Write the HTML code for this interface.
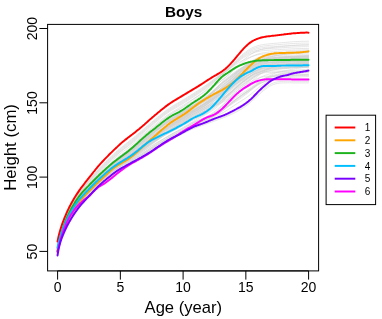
<!DOCTYPE html>
<html><head><meta charset="utf-8"><title>Boys</title>
<style>html,body{margin:0;padding:0;background:#fff;width:382px;height:319px;overflow:hidden}</style></head>
<body>
<svg width="382" height="319" viewBox="0 0 382 319" style="position:absolute;left:0;top:0">
<rect width="382" height="319" fill="#fff"/>
<g fill="none" stroke="#d2d2d2" stroke-width="0.55" stroke-linejoin="round" stroke-linecap="round">
<path d="M57.5,247.4 59.5,241.2 61.5,234.1 63.5,227.8 65.5,222.4 67.5,217.8 69.5,213.6 71.5,209.8 73.5,206.4 75.5,203.3 77.5,200.4 79.5,197.7 81.5,195.3 83.5,193.0 85.5,190.9 87.5,188.9 89.5,186.8 91.5,184.8 93.5,182.7 95.5,180.7 97.5,178.8 99.5,176.9 101.5,175.1 103.5,173.3 105.5,171.5 107.5,169.7 109.5,168.0 111.5,166.3 113.5,164.7 115.5,163.1 117.5,161.5 119.5,160.0 121.5,158.6 123.5,157.1 125.5,155.7 127.5,154.2 129.5,152.7 131.5,151.1 133.5,149.4 135.5,147.8 137.5,146.1 139.5,144.3 141.5,142.6 143.5,140.9 145.5,139.3 147.5,137.7 149.5,136.1 151.5,134.6 153.5,133.1 155.5,131.5 157.5,130.0 159.5,128.4 161.5,126.9 163.5,125.4 165.5,124.0 167.5,122.6 169.5,121.2 171.5,120.0 173.5,118.8 175.5,117.7 177.5,116.6 179.5,115.5 181.5,114.3 183.5,113.0 185.5,111.7 187.5,110.4 189.5,109.0 191.5,107.6 193.5,106.3 195.5,105.1 197.5,103.8 199.5,102.5 201.5,101.2 203.5,99.8 205.5,98.2 207.5,96.6 209.5,94.9 211.5,93.1 213.5,91.2 215.5,89.2 217.5,87.2 219.5,85.3 221.5,83.5 223.5,81.8 225.5,80.2 227.5,78.7 229.5,77.2 231.5,75.7 233.5,74.2 235.5,72.8 237.5,71.6 239.5,70.4 241.5,69.3 243.5,68.3 245.5,67.4 247.5,66.5 249.5,65.7 251.5,65.0 253.5,64.4 255.5,63.8 257.5,63.3 259.5,62.9 261.5,62.7 263.5,62.4 265.5,62.3 267.5,62.1 269.5,62.0 271.5,61.9 273.5,61.8 275.5,61.8 277.5,61.7 279.5,61.7 281.5,61.6 283.5,61.6 285.5,61.6 287.5,61.5 289.5,61.5 291.5,61.5 293.5,61.5 295.5,61.4 297.5,61.4 299.5,61.4 301.5,61.3 303.5,61.3 305.5,61.3 307.5,61.3 308.5,61.3"/>
<path d="M57.5,248.0 59.5,242.3 61.5,235.6 63.5,229.6 65.5,224.5 67.5,220.0 69.5,216.0 71.5,212.5 73.5,209.2 75.5,206.3 77.5,203.6 79.5,201.1 81.5,198.8 83.5,196.6 85.5,194.6 87.5,192.7 89.5,190.7 91.5,188.6 93.5,186.6 95.5,184.5 97.5,182.6 99.5,180.8 101.5,179.1 103.5,177.5 105.5,175.9 107.5,174.2 109.5,172.5 111.5,170.9 113.5,169.2 115.5,167.7 117.5,166.1 119.5,164.6 121.5,163.2 123.5,161.8 125.5,160.5 127.5,159.1 129.5,157.7 131.5,156.4 133.5,155.0 135.5,153.6 137.5,152.2 139.5,150.8 141.5,149.4 143.5,148.0 145.5,146.5 147.5,145.1 149.5,143.7 151.5,142.3 153.5,140.8 155.5,139.4 157.5,137.9 159.5,136.5 161.5,135.1 163.5,133.7 165.5,132.3 167.5,131.0 169.5,129.8 171.5,128.6 173.5,127.4 175.5,126.3 177.5,125.1 179.5,123.9 181.5,122.7 183.5,121.5 185.5,120.2 187.5,119.0 189.5,117.8 191.5,116.6 193.5,115.4 195.5,114.2 197.5,113.1 199.5,111.9 201.5,110.8 203.5,109.6 205.5,108.4 207.5,107.2 209.5,106.0 211.5,104.7 213.5,103.4 215.5,102.0 217.5,100.6 219.5,99.0 221.5,97.5 223.5,95.9 225.5,94.4 227.5,92.8 229.5,91.2 231.5,89.5 233.5,87.9 235.5,86.3 237.5,84.8 239.5,83.3 241.5,82.0 243.5,80.7 245.5,79.4 247.5,78.2 249.5,77.1 251.5,75.9 253.5,74.8 255.5,73.8 257.5,72.9 259.5,72.0 261.5,71.4 263.5,70.8 265.5,70.2 267.5,69.8 269.5,69.4 271.5,69.1 273.5,68.8 275.5,68.6 277.5,68.3 279.5,68.2 281.5,68.0 283.5,67.9 285.5,67.8 287.5,67.7 289.5,67.5 291.5,67.4 293.5,67.3 295.5,67.2 297.5,67.1 299.5,67.0 301.5,66.9 303.5,66.8 305.5,66.7 307.5,66.7 308.5,66.6"/>
<path d="M57.5,247.0 59.5,241.4 61.5,235.0 63.5,229.3 65.5,224.3 67.5,220.0 69.5,216.0 71.5,212.5 73.5,209.2 75.5,206.2 77.5,203.3 79.5,200.8 81.5,198.4 83.5,196.1 85.5,194.0 87.5,192.0 89.5,189.9 91.5,187.8 93.5,185.7 95.5,183.7 97.5,181.7 99.5,179.8 101.5,178.0 103.5,176.3 105.5,174.5 107.5,172.8 109.5,171.1 111.5,169.4 113.5,167.8 115.5,166.3 117.5,164.8 119.5,163.5 121.5,162.1 123.5,160.8 125.5,159.5 127.5,158.2 129.5,156.9 131.5,155.5 133.5,154.1 135.5,152.7 137.5,151.2 139.5,149.6 141.5,148.1 143.5,146.6 145.5,145.1 147.5,143.6 149.5,142.2 151.5,140.8 153.5,139.5 155.5,138.2 157.5,136.9 159.5,135.6 161.5,134.3 163.5,133.0 165.5,131.8 167.5,130.6 169.5,129.4 171.5,128.2 173.5,127.1 175.5,126.0 177.5,124.8 179.5,123.7 181.5,122.5 183.5,121.3 185.5,120.1 187.5,118.8 189.5,117.6 191.5,116.4 193.5,115.2 195.5,114.1 197.5,113.0 199.5,112.0 201.5,110.9 203.5,109.8 205.5,108.6 207.5,107.4 209.5,106.1 211.5,104.7 213.5,103.2 215.5,101.6 217.5,100.0 219.5,98.3 221.5,96.5 223.5,94.8 225.5,93.0 227.5,91.2 229.5,89.5 231.5,87.7 233.5,86.0 235.5,84.3 237.5,82.7 239.5,81.1 241.5,79.7 243.5,78.4 245.5,77.1 247.5,75.9 249.5,74.6 251.5,73.4 253.5,72.2 255.5,70.9 257.5,69.8 259.5,68.8 261.5,68.0 263.5,67.3 265.5,66.8 267.5,66.3 269.5,66.0 271.5,65.6 273.5,65.4 275.5,65.1 277.5,64.9 279.5,64.6 281.5,64.5 283.5,64.3 285.5,64.2 287.5,64.1 289.5,64.0 291.5,63.8 293.5,63.7 295.5,63.6 297.5,63.5 299.5,63.4 301.5,63.3 303.5,63.2 305.5,63.0 307.5,62.9 308.5,62.9"/>
<path d="M57.5,247.0 59.5,241.4 61.5,235.1 63.5,229.5 65.5,224.7 67.5,220.4 69.5,216.6 71.5,213.1 73.5,209.9 75.5,206.8 77.5,204.0 79.5,201.4 81.5,199.0 83.5,196.7 85.5,194.5 87.5,192.4 89.5,190.2 91.5,188.1 93.5,186.0 95.5,183.9 97.5,182.0 99.5,180.0 101.5,178.2 103.5,176.4 105.5,174.6 107.5,172.9 109.5,171.2 111.5,169.5 113.5,167.9 115.5,166.4 117.5,165.0 119.5,163.6 121.5,162.4 123.5,161.1 125.5,159.9 127.5,158.7 129.5,157.4 131.5,156.1 133.5,154.8 135.5,153.5 137.5,152.1 139.5,150.7 141.5,149.2 143.5,147.8 145.5,146.3 147.5,144.9 149.5,143.5 151.5,142.1 153.5,140.7 155.5,139.3 157.5,137.9 159.5,136.5 161.5,135.1 163.5,133.8 165.5,132.5 167.5,131.2 169.5,130.0 171.5,128.8 173.5,127.7 175.5,126.7 177.5,125.6 179.5,124.5 181.5,123.4 183.5,122.3 185.5,121.1 187.5,120.0 189.5,118.8 191.5,117.7 193.5,116.6 195.5,115.5 197.5,114.5 199.5,113.6 201.5,112.6 203.5,111.6 205.5,110.6 207.5,109.5 209.5,108.3 211.5,107.1 213.5,105.9 215.5,104.7 217.5,103.5 219.5,102.2 221.5,101.0 223.5,99.6 225.5,98.3 227.5,96.9 229.5,95.4 231.5,93.8 233.5,92.3 235.5,90.7 237.5,89.1 239.5,87.5 241.5,85.9 243.5,84.3 245.5,82.8 247.5,81.3 249.5,79.8 251.5,78.3 253.5,76.7 255.5,75.2 257.5,73.8 259.5,72.5 261.5,71.4 263.5,70.4 265.5,69.5 267.5,68.6 269.5,67.9 271.5,67.3 273.5,66.7 275.5,66.2 277.5,65.8 279.5,65.4 281.5,65.1 283.5,64.8 285.5,64.6 287.5,64.4 289.5,64.1 291.5,63.8 293.5,63.6 295.5,63.4 297.5,63.2 299.5,63.0 301.5,62.8 303.5,62.6 305.5,62.4 307.5,62.2 308.5,62.2"/>
<path d="M57.5,248.7 59.5,243.1 61.5,236.7 63.5,231.1 65.5,226.3 67.5,222.0 69.5,218.2 71.5,214.7 73.5,211.5 75.5,208.6 77.5,205.8 79.5,203.3 81.5,200.9 83.5,198.7 85.5,196.6 87.5,194.5 89.5,192.5 91.5,190.4 93.5,188.4 95.5,186.3 97.5,184.4 99.5,182.5 101.5,180.8 103.5,179.1 105.5,177.3 107.5,175.6 109.5,173.9 111.5,172.2 113.5,170.6 115.5,169.1 117.5,167.7 119.5,166.3 121.5,165.1 123.5,163.8 125.5,162.6 127.5,161.3 129.5,160.1 131.5,158.8 133.5,157.5 135.5,156.1 137.5,154.7 139.5,153.3 141.5,151.9 143.5,150.4 145.5,149.0 147.5,147.5 149.5,146.0 151.5,144.6 153.5,143.1 155.5,141.6 157.5,140.1 159.5,138.6 161.5,137.1 163.5,135.7 165.5,134.2 167.5,132.9 169.5,131.6 171.5,130.3 173.5,129.1 175.5,128.0 177.5,126.8 179.5,125.6 181.5,124.4 183.5,123.2 185.5,122.0 187.5,120.8 189.5,119.5 191.5,118.3 193.5,117.1 195.5,115.9 197.5,114.8 199.5,113.7 201.5,112.6 203.5,111.6 205.5,110.6 207.5,109.5 209.5,108.5 211.5,107.5 213.5,106.5 215.5,105.5 217.5,104.4 219.5,103.3 221.5,102.2 223.5,101.0 225.5,99.7 227.5,98.3 229.5,96.9 231.5,95.4 233.5,93.9 235.5,92.3 237.5,90.7 239.5,89.1 241.5,87.5 243.5,85.9 245.5,84.3 247.5,82.7 249.5,81.1 251.5,79.4 253.5,77.8 255.5,76.2 257.5,74.6 259.5,73.3 261.5,72.0 263.5,71.0 265.5,70.0 267.5,69.1 269.5,68.3 271.5,67.7 273.5,67.1 275.5,66.6 277.5,66.3 279.5,65.9 281.5,65.6 283.5,65.4 285.5,65.2 287.5,65.0 289.5,64.8 291.5,64.6 293.5,64.4 295.5,64.2 297.5,64.0 299.5,63.8 301.5,63.6 303.5,63.4 305.5,63.2 307.5,63.0 308.5,62.9"/>
<path d="M57.5,245.7 59.5,240.2 61.5,233.6 63.5,227.7 65.5,222.6 67.5,218.0 69.5,214.0 71.5,210.4 73.5,207.1 75.5,204.1 77.5,201.4 79.5,198.8 81.5,196.4 83.5,194.2 85.5,192.1 87.5,190.1 89.5,188.0 91.5,185.8 93.5,183.6 95.5,181.4 97.5,179.3 99.5,177.4 101.5,175.7 103.5,174.0 105.5,172.3 107.5,170.5 109.5,168.8 111.5,167.0 113.5,165.3 115.5,163.5 117.5,161.8 119.5,160.2 121.5,158.6 123.5,157.1 125.5,155.6 127.5,154.1 129.5,152.7 131.5,151.3 133.5,150.0 135.5,148.6 137.5,147.2 139.5,145.8 141.5,144.3 143.5,142.9 145.5,141.4 147.5,139.9 149.5,138.4 151.5,136.9 153.5,135.3 155.5,133.8 157.5,132.3 159.5,130.8 161.5,129.3 163.5,127.9 165.5,126.5 167.5,125.1 169.5,123.8 171.5,122.5 173.5,121.2 175.5,120.0 177.5,118.7 179.5,117.4 181.5,116.2 183.5,114.9 185.5,113.6 187.5,112.3 189.5,111.1 191.5,109.9 193.5,108.7 195.5,107.5 197.5,106.2 199.5,105.0 201.5,103.8 203.5,102.5 205.5,101.4 207.5,100.2 209.5,99.2 211.5,98.1 213.5,97.0 215.5,95.8 217.5,94.6 219.5,93.2 221.5,91.7 223.5,90.1 225.5,88.4 227.5,86.6 229.5,84.8 231.5,82.9 233.5,80.9 235.5,79.0 237.5,77.2 239.5,75.4 241.5,73.6 243.5,72.0 245.5,70.5 247.5,69.1 249.5,67.7 251.5,66.5 253.5,65.3 255.5,64.3 257.5,63.4 259.5,62.6 261.5,61.9 263.5,61.4 265.5,60.9 267.5,60.6 269.5,60.3 271.5,60.0 273.5,59.8 275.5,59.6 277.5,59.4 279.5,59.2 281.5,59.1 283.5,58.9 285.5,58.8 287.5,58.7 289.5,58.6 291.5,58.5 293.5,58.3 295.5,58.2 297.5,58.1 299.5,58.1 301.5,58.0 303.5,57.9 305.5,57.8 307.5,57.8 308.5,57.8"/>
<path d="M57.5,247.3 59.5,241.6 61.5,235.0 63.5,229.0 65.5,224.0 67.5,219.5 69.5,215.5 71.5,212.0 73.5,208.7 75.5,205.7 77.5,203.0 79.5,200.4 81.5,198.1 83.5,195.9 85.5,193.9 87.5,191.9 89.5,189.9 91.5,187.9 93.5,185.9 95.5,183.9 97.5,182.0 99.5,180.2 101.5,178.5 103.5,176.8 105.5,175.1 107.5,173.3 109.5,171.6 111.5,169.9 113.5,168.3 115.5,166.7 117.5,165.2 119.5,163.8 121.5,162.5 123.5,161.1 125.5,159.8 127.5,158.4 129.5,157.0 131.5,155.6 133.5,154.1 135.5,152.6 137.5,151.0 139.5,149.4 141.5,147.8 143.5,146.1 145.5,144.5 147.5,142.9 149.5,141.4 151.5,139.8 153.5,138.2 155.5,136.6 157.5,135.0 159.5,133.5 161.5,131.9 163.5,130.4 165.5,128.9 167.5,127.5 169.5,126.1 171.5,124.8 173.5,123.6 175.5,122.4 177.5,121.2 179.5,120.0 181.5,118.8 183.5,117.5 185.5,116.2 187.5,114.9 189.5,113.6 191.5,112.2 193.5,110.9 195.5,109.6 197.5,108.3 199.5,107.0 201.5,105.7 203.5,104.4 205.5,103.1 207.5,101.9 209.5,100.6 211.5,99.3 213.5,98.0 215.5,96.6 217.5,95.2 219.5,93.8 221.5,92.3 223.5,90.9 225.5,89.4 227.5,87.9 229.5,86.3 231.5,84.6 233.5,82.9 235.5,81.3 237.5,79.6 239.5,77.9 241.5,76.3 243.5,74.8 245.5,73.3 247.5,71.9 249.5,70.5 251.5,69.2 253.5,68.0 255.5,66.9 257.5,65.9 259.5,65.1 261.5,64.4 263.5,63.9 265.5,63.5 267.5,63.1 269.5,62.8 271.5,62.5 273.5,62.3 275.5,62.2 277.5,62.1 279.5,62.0 281.5,61.9 283.5,61.9 285.5,61.8 287.5,61.8 289.5,61.7 291.5,61.7 293.5,61.6 295.5,61.6 297.5,61.5 299.5,61.4 301.5,61.4 303.5,61.3 305.5,61.2 307.5,61.1 308.5,61.0"/>
<path d="M57.5,246.5 59.5,241.0 61.5,234.5 63.5,228.7 65.5,223.7 67.5,219.3 69.5,215.3 71.5,211.7 73.5,208.4 75.5,205.4 77.5,202.5 79.5,199.9 81.5,197.6 83.5,195.3 85.5,193.2 87.5,191.2 89.5,189.1 91.5,187.1 93.5,185.1 95.5,183.1 97.5,181.2 99.5,179.3 101.5,177.5 103.5,175.7 105.5,174.0 107.5,172.2 109.5,170.4 111.5,168.8 113.5,167.1 115.5,165.6 117.5,164.2 119.5,162.8 121.5,161.5 123.5,160.2 125.5,158.9 127.5,157.6 129.5,156.2 131.5,154.7 133.5,153.2 135.5,151.6 137.5,150.0 139.5,148.3 141.5,146.5 143.5,144.8 145.5,143.2 147.5,141.6 149.5,140.0 151.5,138.5 153.5,137.1 155.5,135.6 157.5,134.2 159.5,132.8 161.5,131.4 163.5,130.0 165.5,128.6 167.5,127.3 169.5,126.0 171.5,124.8 173.5,123.6 175.5,122.4 177.5,121.2 179.5,120.1 181.5,118.8 183.5,117.6 185.5,116.3 187.5,115.0 189.5,113.6 191.5,112.3 193.5,110.9 195.5,109.7 197.5,108.4 199.5,107.2 201.5,106.0 203.5,104.8 205.5,103.5 207.5,102.2 209.5,100.8 211.5,99.3 213.5,97.7 215.5,96.1 217.5,94.4 219.5,92.7 221.5,90.9 223.5,89.2 225.5,87.4 227.5,85.6 229.5,83.8 231.5,82.0 233.5,80.2 235.5,78.5 237.5,76.8 239.5,75.1 241.5,73.5 243.5,72.0 245.5,70.6 247.5,69.3 249.5,68.0 251.5,66.8 253.5,65.6 255.5,64.4 257.5,63.4 259.5,62.6 261.5,61.9 263.5,61.4 265.5,61.1 267.5,60.8 269.5,60.6 271.5,60.5 273.5,60.4 275.5,60.3 277.5,60.2 279.5,60.1 281.5,60.0 283.5,60.0 285.5,60.0 287.5,59.9 289.5,59.9 291.5,59.9 293.5,59.9 295.5,59.8 297.5,59.8 299.5,59.7 301.5,59.6 303.5,59.5 305.5,59.4 307.5,59.3 308.5,59.3"/>
<path d="M57.5,243.5 59.5,237.8 61.5,231.2 63.5,225.3 65.5,220.1 67.5,215.6 69.5,211.6 71.5,207.9 73.5,204.5 75.5,201.4 77.5,198.5 79.5,195.8 81.5,193.4 83.5,191.1 85.5,188.8 87.5,186.7 89.5,184.5 91.5,182.3 93.5,180.1 95.5,177.9 97.5,175.8 99.5,173.9 101.5,172.0 103.5,170.1 105.5,168.3 107.5,166.5 109.5,164.8 111.5,163.0 113.5,161.3 115.5,159.6 117.5,157.9 119.5,156.3 121.5,154.8 123.5,153.3 125.5,151.9 127.5,150.4 129.5,149.0 131.5,147.5 133.5,146.0 135.5,144.6 137.5,143.0 139.5,141.5 141.5,139.9 143.5,138.3 145.5,136.7 147.5,135.2 149.5,133.6 151.5,132.1 153.5,130.5 155.5,129.0 157.5,127.5 159.5,126.0 161.5,124.5 163.5,123.1 165.5,121.7 167.5,120.3 169.5,119.0 171.5,117.8 173.5,116.7 175.5,115.5 177.5,114.4 179.5,113.3 181.5,112.1 183.5,110.9 185.5,109.7 187.5,108.5 189.5,107.3 191.5,106.1 193.5,105.0 195.5,103.8 197.5,102.6 199.5,101.4 201.5,100.2 203.5,98.9 205.5,97.7 207.5,96.3 209.5,95.0 211.5,93.6 213.5,92.1 215.5,90.6 217.5,89.1 219.5,87.6 221.5,86.0 223.5,84.4 225.5,82.8 227.5,81.1 229.5,79.3 231.5,77.4 233.5,75.5 235.5,73.6 237.5,71.8 239.5,70.0 241.5,68.2 243.5,66.6 245.5,65.1 247.5,63.8 249.5,62.5 251.5,61.4 253.5,60.4 255.5,59.6 257.5,58.9 259.5,58.3 261.5,57.9 263.5,57.5 265.5,57.2 267.5,56.9 269.5,56.7 271.5,56.6 273.5,56.4 275.5,56.3 277.5,56.1 279.5,56.0 281.5,55.8 283.5,55.7 285.5,55.6 287.5,55.4 289.5,55.3 291.5,55.2 293.5,55.1 295.5,55.0 297.5,54.9 299.5,54.8 301.5,54.7 303.5,54.7 305.5,54.7 307.5,54.6 308.5,54.6"/>
<path d="M57.5,245.7 59.5,240.0 61.5,233.5 63.5,227.8 65.5,222.8 67.5,218.4 69.5,214.4 71.5,210.8 73.5,207.5 75.5,204.3 77.5,201.4 79.5,198.6 81.5,196.1 83.5,193.6 85.5,191.3 87.5,189.0 89.5,186.8 91.5,184.5 93.5,182.3 95.5,180.1 97.5,178.0 99.5,175.9 101.5,173.9 103.5,172.0 105.5,170.1 107.5,168.2 109.5,166.4 111.5,164.6 113.5,162.9 115.5,161.2 117.5,159.7 119.5,158.2 121.5,156.7 123.5,155.4 125.5,154.0 127.5,152.6 129.5,151.3 131.5,149.9 133.5,148.4 135.5,147.0 137.5,145.5 139.5,143.9 141.5,142.4 143.5,140.8 145.5,139.2 147.5,137.6 149.5,136.1 151.5,134.5 153.5,132.9 155.5,131.3 157.5,129.7 159.5,128.2 161.5,126.6 163.5,125.0 165.5,123.5 167.5,122.1 169.5,120.7 171.5,119.5 173.5,118.3 175.5,117.1 177.5,116.0 179.5,114.8 181.5,113.7 183.5,112.5 185.5,111.2 187.5,110.0 189.5,108.8 191.5,107.5 193.5,106.3 195.5,105.2 197.5,104.0 199.5,102.9 201.5,101.8 203.5,100.6 205.5,99.5 207.5,98.3 209.5,97.1 211.5,95.9 213.5,94.7 215.5,93.5 217.5,92.4 219.5,91.3 221.5,90.1 223.5,88.9 225.5,87.7 227.5,86.3 229.5,84.9 231.5,83.4 233.5,81.8 235.5,80.1 237.5,78.4 239.5,76.7 241.5,75.0 243.5,73.3 245.5,71.7 247.5,70.1 249.5,68.5 251.5,67.0 253.5,65.5 255.5,64.1 257.5,62.9 259.5,61.7 261.5,60.6 263.5,59.7 265.5,58.8 267.5,58.0 269.5,57.3 271.5,56.7 273.5,56.2 275.5,55.7 277.5,55.3 279.5,55.0 281.5,54.7 283.5,54.4 285.5,54.1 287.5,53.9 289.5,53.6 291.5,53.4 293.5,53.1 295.5,52.9 297.5,52.7 299.5,52.5 301.5,52.3 303.5,52.1 305.5,52.0 307.5,51.8 308.5,51.8"/>
<path d="M57.5,248.8 59.5,242.6 61.5,235.6 63.5,229.6 65.5,224.5 67.5,219.9 69.5,215.9 71.5,212.2 73.5,208.9 75.5,205.7 77.5,202.9 79.5,200.2 81.5,197.7 83.5,195.4 85.5,193.2 87.5,191.1 89.5,189.0 91.5,186.9 93.5,184.8 95.5,182.7 97.5,180.8 99.5,178.8 101.5,177.0 103.5,175.1 105.5,173.3 107.5,171.6 109.5,169.9 111.5,168.2 113.5,166.6 115.5,165.1 117.5,163.6 119.5,162.2 121.5,160.8 123.5,159.5 125.5,158.2 127.5,156.8 129.5,155.4 131.5,154.0 133.5,152.5 135.5,151.0 137.5,149.5 139.5,147.9 141.5,146.4 143.5,144.8 145.5,143.3 147.5,141.9 149.5,140.4 151.5,139.0 153.5,137.5 155.5,136.0 157.5,134.5 159.5,133.0 161.5,131.6 163.5,130.1 165.5,128.7 167.5,127.4 169.5,126.1 171.5,124.9 173.5,123.8 175.5,122.8 177.5,121.7 179.5,120.7 181.5,119.5 183.5,118.4 185.5,117.1 187.5,115.8 189.5,114.6 191.5,113.3 193.5,112.2 195.5,111.1 197.5,110.0 199.5,108.9 201.5,107.8 203.5,106.6 205.5,105.3 207.5,103.9 209.5,102.4 211.5,100.8 213.5,99.1 215.5,97.5 217.5,95.9 219.5,94.3 221.5,92.8 223.5,91.4 225.5,90.2 227.5,89.0 229.5,87.8 231.5,86.5 233.5,85.2 235.5,84.0 237.5,82.9 239.5,81.8 241.5,80.8 243.5,79.8 245.5,78.8 247.5,77.8 249.5,76.8 251.5,75.7 253.5,74.7 255.5,73.7 257.5,72.7 259.5,71.8 261.5,71.0 263.5,70.3 265.5,69.6 267.5,68.9 269.5,68.3 271.5,67.7 273.5,67.3 275.5,66.9 277.5,66.6 279.5,66.3 281.5,66.0 283.5,65.8 285.5,65.6 287.5,65.4 289.5,65.2 291.5,65.0 293.5,64.8 295.5,64.6 297.5,64.4 299.5,64.3 301.5,64.2 303.5,64.0 305.5,63.9 307.5,63.8 308.5,63.7"/>
<path d="M57.5,243.8 59.5,238.4 61.5,232.1 63.5,226.5 65.5,221.6 67.5,217.2 69.5,213.3 71.5,209.7 73.5,206.3 75.5,203.2 77.5,200.3 79.5,197.7 81.5,195.2 83.5,192.8 85.5,190.5 87.5,188.3 89.5,186.1 91.5,183.9 93.5,181.7 95.5,179.6 97.5,177.6 99.5,175.6 101.5,173.6 103.5,171.7 105.5,169.9 107.5,168.0 109.5,166.2 111.5,164.5 113.5,162.8 115.5,161.2 117.5,159.7 119.5,158.2 121.5,156.8 123.5,155.5 125.5,154.1 127.5,152.8 129.5,151.4 131.5,150.0 133.5,148.6 135.5,147.1 137.5,145.5 139.5,143.9 141.5,142.3 143.5,140.6 145.5,139.0 147.5,137.4 149.5,135.9 151.5,134.4 153.5,132.9 155.5,131.4 157.5,130.0 159.5,128.6 161.5,127.2 163.5,125.8 165.5,124.4 167.5,123.1 169.5,121.8 171.5,120.6 173.5,119.4 175.5,118.3 177.5,117.2 179.5,116.0 181.5,114.9 183.5,113.7 185.5,112.5 187.5,111.3 189.5,110.1 191.5,108.8 193.5,107.6 195.5,106.5 197.5,105.3 199.5,104.2 201.5,103.1 203.5,101.9 205.5,100.8 207.5,99.5 209.5,98.3 211.5,97.0 213.5,95.6 215.5,94.2 217.5,92.8 219.5,91.3 221.5,89.8 223.5,88.2 225.5,86.5 227.5,84.7 229.5,82.9 231.5,81.0 233.5,79.1 235.5,77.1 237.5,75.2 239.5,73.2 241.5,71.4 243.5,69.6 245.5,67.9 247.5,66.3 249.5,64.8 251.5,63.4 253.5,62.0 255.5,60.8 257.5,59.7 259.5,58.7 261.5,57.9 263.5,57.3 265.5,56.8 267.5,56.4 269.5,56.0 271.5,55.7 273.5,55.5 275.5,55.2 277.5,55.0 279.5,54.8 281.5,54.6 283.5,54.4 285.5,54.3 287.5,54.1 289.5,54.0 291.5,53.9 293.5,53.7 295.5,53.6 297.5,53.5 299.5,53.4 301.5,53.3 303.5,53.1 305.5,53.0 307.5,52.9 308.5,52.9"/>
<path d="M57.5,248.8 59.5,243.1 61.5,236.7 63.5,231.1 65.5,226.3 67.5,222.1 69.5,218.3 71.5,214.8 73.5,211.6 75.5,208.6 77.5,205.7 79.5,203.1 81.5,200.6 83.5,198.3 85.5,196.1 87.5,193.9 89.5,191.8 91.5,189.6 93.5,187.5 95.5,185.4 97.5,183.4 99.5,181.5 101.5,179.6 103.5,177.8 105.5,176.0 107.5,174.2 109.5,172.5 111.5,170.8 113.5,169.2 115.5,167.7 117.5,166.3 119.5,164.9 121.5,163.7 123.5,162.5 125.5,161.3 127.5,160.0 129.5,158.8 131.5,157.5 133.5,156.2 135.5,154.9 137.5,153.6 139.5,152.2 141.5,150.8 143.5,149.4 145.5,147.9 147.5,146.5 149.5,145.1 151.5,143.6 153.5,142.2 155.5,140.7 157.5,139.2 159.5,137.7 161.5,136.3 163.5,134.8 165.5,133.4 167.5,132.1 169.5,130.8 171.5,129.6 173.5,128.4 175.5,127.3 177.5,126.2 179.5,125.1 181.5,124.0 183.5,122.8 185.5,121.6 187.5,120.4 189.5,119.2 191.5,118.0 193.5,116.9 195.5,115.8 197.5,114.8 199.5,113.9 201.5,112.9 203.5,112.0 205.5,111.0 207.5,109.9 209.5,108.9 211.5,107.9 213.5,106.9 215.5,105.8 217.5,104.9 219.5,103.9 221.5,102.9 223.5,101.8 225.5,100.7 227.5,99.5 229.5,98.3 231.5,96.9 233.5,95.5 235.5,94.1 237.5,92.6 239.5,91.2 241.5,89.6 243.5,88.1 245.5,86.5 247.5,84.9 249.5,83.3 251.5,81.6 253.5,79.8 255.5,78.1 257.5,76.4 259.5,74.9 261.5,73.4 263.5,72.1 265.5,71.0 267.5,69.8 269.5,68.8 271.5,67.9 273.5,67.2 275.5,66.6 277.5,66.0 279.5,65.5 281.5,65.1 283.5,64.8 285.5,64.5 287.5,64.2 289.5,63.9 291.5,63.6 293.5,63.2 295.5,63.0 297.5,62.7 299.5,62.4 301.5,62.2 303.5,62.0 305.5,61.7 307.5,61.5 308.5,61.4"/>
<path d="M57.5,247.6 59.5,241.9 61.5,235.4 63.5,229.6 65.5,224.7 67.5,220.3 69.5,216.4 71.5,212.8 73.5,209.5 75.5,206.5 77.5,203.6 79.5,201.0 81.5,198.6 83.5,196.3 85.5,194.1 87.5,192.0 89.5,190.0 91.5,187.9 93.5,185.8 95.5,183.8 97.5,181.8 99.5,179.9 101.5,178.1 103.5,176.3 105.5,174.5 107.5,172.7 109.5,170.9 111.5,169.2 113.5,167.5 115.5,166.0 117.5,164.6 119.5,163.2 121.5,161.9 123.5,160.6 125.5,159.3 127.5,158.0 129.5,156.6 131.5,155.2 133.5,153.7 135.5,152.1 137.5,150.5 139.5,148.9 141.5,147.2 143.5,145.6 145.5,144.0 147.5,142.4 149.5,140.8 151.5,139.2 153.5,137.7 155.5,136.2 157.5,134.6 159.5,133.1 161.5,131.6 163.5,130.1 165.5,128.6 167.5,127.2 169.5,125.8 171.5,124.6 173.5,123.3 175.5,122.1 177.5,120.9 179.5,119.7 181.5,118.5 183.5,117.3 185.5,116.0 187.5,114.6 189.5,113.3 191.5,111.9 193.5,110.6 195.5,109.3 197.5,108.1 199.5,106.9 201.5,105.7 203.5,104.5 205.5,103.3 207.5,102.0 209.5,100.8 211.5,99.5 213.5,98.2 215.5,96.8 217.5,95.5 219.5,94.1 221.5,92.7 223.5,91.2 225.5,89.8 227.5,88.2 229.5,86.7 231.5,85.1 233.5,83.5 235.5,81.8 237.5,80.2 239.5,78.6 241.5,77.0 243.5,75.4 245.5,73.9 247.5,72.4 249.5,70.9 251.5,69.4 253.5,68.0 255.5,66.6 257.5,65.4 259.5,64.3 261.5,63.4 263.5,62.6 265.5,61.9 267.5,61.3 269.5,60.8 271.5,60.4 273.5,60.1 275.5,59.8 277.5,59.6 279.5,59.4 281.5,59.2 283.5,59.1 285.5,59.0 287.5,58.9 289.5,58.8 291.5,58.7 293.5,58.5 295.5,58.4 297.5,58.3 299.5,58.2 301.5,58.1 303.5,57.9 305.5,57.7 307.5,57.6 308.5,57.5"/>
<path d="M57.5,246.7 59.5,240.7 61.5,233.7 63.5,227.5 65.5,222.2 67.5,217.5 69.5,213.4 71.5,209.6 73.5,206.2 75.5,203.1 77.5,200.2 79.5,197.6 81.5,195.2 83.5,192.9 85.5,190.8 87.5,188.8 89.5,186.7 91.5,184.6 93.5,182.5 95.5,180.5 97.5,178.5 99.5,176.6 101.5,174.8 103.5,173.0 105.5,171.3 107.5,169.5 109.5,167.7 111.5,166.0 113.5,164.3 115.5,162.7 117.5,161.1 119.5,159.6 121.5,158.1 123.5,156.7 125.5,155.2 127.5,153.7 129.5,152.2 131.5,150.6 133.5,149.0 135.5,147.4 137.5,145.7 139.5,144.0 141.5,142.4 143.5,140.7 145.5,139.0 147.5,137.4 149.5,135.8 151.5,134.3 153.5,132.7 155.5,131.2 157.5,129.6 159.5,128.0 161.5,126.5 163.5,125.0 165.5,123.5 167.5,122.1 169.5,120.8 171.5,119.5 173.5,118.3 175.5,117.1 177.5,116.0 179.5,114.8 181.5,113.6 183.5,112.3 185.5,111.0 187.5,109.7 189.5,108.3 191.5,107.0 193.5,105.7 195.5,104.4 197.5,103.1 199.5,101.8 201.5,100.4 203.5,99.0 205.5,97.6 207.5,96.1 209.5,94.5 211.5,92.8 213.5,91.1 215.5,89.3 217.5,87.5 219.5,85.7 221.5,84.0 223.5,82.3 225.5,80.7 227.5,79.2 229.5,77.6 231.5,75.9 233.5,74.3 235.5,72.8 237.5,71.3 239.5,69.9 241.5,68.6 243.5,67.4 245.5,66.3 247.5,65.3 249.5,64.3 251.5,63.5 253.5,62.7 255.5,62.0 257.5,61.5 259.5,61.0 261.5,60.7 263.5,60.4 265.5,60.2 267.5,60.0 269.5,59.9 271.5,59.8 273.5,59.8 275.5,59.7 277.5,59.6 279.5,59.6 281.5,59.5 283.5,59.5 285.5,59.5 287.5,59.4 289.5,59.4 291.5,59.4 293.5,59.3 295.5,59.3 297.5,59.2 299.5,59.2 301.5,59.2 303.5,59.1 305.5,59.1 307.5,59.1 308.5,59.1"/>
<path d="M57.5,247.8 59.5,241.9 61.5,235.1 63.5,229.0 65.5,223.9 67.5,219.4 69.5,215.4 71.5,211.8 73.5,208.5 75.5,205.4 77.5,202.6 79.5,200.0 81.5,197.6 83.5,195.4 85.5,193.3 87.5,191.3 89.5,189.3 91.5,187.2 93.5,185.2 95.5,183.2 97.5,181.3 99.5,179.4 101.5,177.6 103.5,175.9 105.5,174.2 107.5,172.4 109.5,170.8 111.5,169.1 113.5,167.5 115.5,166.0 117.5,164.5 119.5,163.1 121.5,161.7 123.5,160.4 125.5,159.0 127.5,157.6 129.5,156.2 131.5,154.8 133.5,153.3 135.5,151.8 137.5,150.3 139.5,148.7 141.5,147.1 143.5,145.6 145.5,144.0 147.5,142.5 149.5,141.1 151.5,139.6 153.5,138.1 155.5,136.6 157.5,135.1 159.5,133.7 161.5,132.2 163.5,130.8 165.5,129.4 167.5,128.0 169.5,126.7 171.5,125.5 173.5,124.4 175.5,123.3 177.5,122.2 179.5,121.1 181.5,119.9 183.5,118.7 185.5,117.5 187.5,116.2 189.5,114.9 191.5,113.7 193.5,112.4 195.5,111.3 197.5,110.1 199.5,108.9 201.5,107.7 203.5,106.5 205.5,105.2 207.5,103.8 209.5,102.4 211.5,100.9 213.5,99.3 215.5,97.7 217.5,96.1 219.5,94.5 221.5,92.9 223.5,91.3 225.5,89.9 227.5,88.4 229.5,87.0 231.5,85.4 233.5,83.9 235.5,82.5 237.5,81.1 239.5,79.8 241.5,78.5 243.5,77.3 245.5,76.1 247.5,75.0 249.5,73.9 251.5,72.8 253.5,71.8 255.5,70.9 257.5,70.0 259.5,69.2 261.5,68.6 263.5,68.0 265.5,67.6 267.5,67.1 269.5,66.8 271.5,66.4 273.5,66.2 275.5,66.0 277.5,65.8 279.5,65.6 281.5,65.5 283.5,65.3 285.5,65.2 287.5,65.1 289.5,65.0 291.5,64.9 293.5,64.8 295.5,64.7 297.5,64.6 299.5,64.5 301.5,64.4 303.5,64.3 305.5,64.2 307.5,64.1 308.5,64.1"/>
<path d="M57.5,247.2 59.5,241.7 61.5,235.3 63.5,229.6 65.5,224.6 67.5,220.3 69.5,216.4 71.5,212.9 73.5,209.7 75.5,206.8 77.5,204.1 79.5,201.5 81.5,199.2 83.5,197.0 85.5,195.0 87.5,193.0 89.5,191.0 91.5,188.9 93.5,186.8 95.5,184.7 97.5,182.8 99.5,181.0 101.5,179.2 103.5,177.6 105.5,175.9 107.5,174.2 109.5,172.5 111.5,170.8 113.5,169.2 115.5,167.6 117.5,166.1 119.5,164.7 121.5,163.3 123.5,162.0 125.5,160.7 127.5,159.4 129.5,158.1 131.5,156.8 133.5,155.5 135.5,154.1 137.5,152.7 139.5,151.3 141.5,149.9 143.5,148.5 145.5,147.0 147.5,145.6 149.5,144.1 151.5,142.7 153.5,141.2 155.5,139.7 157.5,138.3 159.5,136.9 161.5,135.4 163.5,134.0 165.5,132.7 167.5,131.4 169.5,130.1 171.5,128.9 173.5,127.7 175.5,126.5 177.5,125.4 179.5,124.2 181.5,123.0 183.5,121.8 185.5,120.5 187.5,119.3 189.5,118.1 191.5,116.9 193.5,115.7 195.5,114.6 197.5,113.4 199.5,112.3 201.5,111.2 203.5,110.1 205.5,109.0 207.5,108.0 209.5,106.9 211.5,105.9 213.5,104.8 215.5,103.6 217.5,102.4 219.5,101.1 221.5,99.8 223.5,98.3 225.5,96.8 227.5,95.2 229.5,93.5 231.5,91.8 233.5,90.1 235.5,88.3 237.5,86.6 239.5,84.9 241.5,83.2 243.5,81.6 245.5,80.0 247.5,78.5 249.5,77.0 251.5,75.6 253.5,74.2 255.5,72.8 257.5,71.6 259.5,70.5 261.5,69.6 263.5,68.8 265.5,68.1 267.5,67.5 269.5,67.0 271.5,66.6 273.5,66.2 275.5,65.9 277.5,65.6 279.5,65.4 281.5,65.2 283.5,65.0 285.5,64.9 287.5,64.7 289.5,64.6 291.5,64.4 293.5,64.3 295.5,64.1 297.5,64.0 299.5,63.9 301.5,63.7 303.5,63.6 305.5,63.5 307.5,63.3 308.5,63.3"/>
<path d="M57.5,248.1 59.5,242.3 61.5,235.7 63.5,229.7 65.5,224.7 67.5,220.3 69.5,216.3 71.5,212.7 73.5,209.5 75.5,206.5 77.5,203.7 79.5,201.1 81.5,198.8 83.5,196.6 85.5,194.5 87.5,192.5 89.5,190.4 91.5,188.4 93.5,186.3 95.5,184.2 97.5,182.3 99.5,180.5 101.5,178.7 103.5,177.0 105.5,175.3 107.5,173.6 109.5,171.8 111.5,170.1 113.5,168.5 115.5,166.9 117.5,165.4 119.5,163.9 121.5,162.5 123.5,161.2 125.5,159.8 127.5,158.5 129.5,157.1 131.5,155.7 133.5,154.3 135.5,152.9 137.5,151.4 139.5,149.9 141.5,148.4 143.5,146.9 145.5,145.4 147.5,143.9 149.5,142.4 151.5,140.9 153.5,139.4 155.5,137.8 157.5,136.3 159.5,134.8 161.5,133.2 163.5,131.8 165.5,130.3 167.5,128.9 169.5,127.6 171.5,126.3 173.5,125.1 175.5,123.9 177.5,122.8 179.5,121.6 181.5,120.4 183.5,119.1 185.5,117.8 187.5,116.6 189.5,115.3 191.5,114.0 193.5,112.7 195.5,111.5 197.5,110.3 199.5,109.1 201.5,107.9 203.5,106.7 205.5,105.6 207.5,104.4 209.5,103.2 211.5,102.0 213.5,100.7 215.5,99.5 217.5,98.2 219.5,96.8 221.5,95.4 223.5,94.0 225.5,92.6 227.5,91.2 229.5,89.7 231.5,88.1 233.5,86.5 235.5,84.9 237.5,83.4 239.5,81.9 241.5,80.4 243.5,79.0 245.5,77.6 247.5,76.2 249.5,74.8 251.5,73.5 253.5,72.2 255.5,71.0 257.5,69.9 259.5,69.0 261.5,68.1 263.5,67.4 265.5,66.8 267.5,66.2 269.5,65.7 271.5,65.2 273.5,64.9 275.5,64.6 277.5,64.3 279.5,64.1 281.5,64.0 283.5,63.8 285.5,63.7 287.5,63.5 289.5,63.4 291.5,63.3 293.5,63.1 295.5,63.0 297.5,62.9 299.5,62.8 301.5,62.6 303.5,62.5 305.5,62.4 307.5,62.3 308.5,62.2"/>
<path d="M57.5,246.4 59.5,240.6 61.5,233.9 63.5,227.9 65.5,222.8 67.5,218.3 69.5,214.3 71.5,210.7 73.5,207.3 75.5,204.2 77.5,201.4 79.5,198.8 81.5,196.4 83.5,194.2 85.5,192.1 87.5,190.0 89.5,188.0 91.5,186.0 93.5,184.0 95.5,182.0 97.5,180.1 99.5,178.2 101.5,176.4 103.5,174.7 105.5,172.9 107.5,171.2 109.5,169.5 111.5,167.9 113.5,166.3 115.5,164.8 117.5,163.4 119.5,162.0 121.5,160.7 123.5,159.4 125.5,158.1 127.5,156.7 129.5,155.3 131.5,153.8 133.5,152.3 135.5,150.7 137.5,149.1 139.5,147.4 141.5,145.7 143.5,144.1 145.5,142.5 147.5,141.0 149.5,139.5 151.5,138.2 153.5,136.8 155.5,135.5 157.5,134.2 159.5,132.9 161.5,131.6 163.5,130.4 165.5,129.1 167.5,127.9 169.5,126.7 171.5,125.6 173.5,124.5 175.5,123.5 177.5,122.4 179.5,121.4 181.5,120.2 183.5,119.1 185.5,117.8 187.5,116.6 189.5,115.3 191.5,114.0 193.5,112.8 195.5,111.7 197.5,110.6 199.5,109.5 201.5,108.3 203.5,107.1 205.5,105.7 207.5,104.2 209.5,102.6 211.5,100.8 213.5,98.9 215.5,96.9 217.5,94.9 219.5,92.8 221.5,90.8 223.5,88.8 225.5,87.0 227.5,85.2 229.5,83.4 231.5,81.7 233.5,80.0 235.5,78.4 237.5,76.9 239.5,75.5 241.5,74.3 243.5,73.2 245.5,72.1 247.5,71.2 249.5,70.3 251.5,69.5 253.5,68.6 255.5,67.8 257.5,67.1 259.5,66.5 261.5,66.1 263.5,65.8 265.5,65.6 267.5,65.4 269.5,65.4 271.5,65.3 273.5,65.2 275.5,65.1 277.5,65.1 279.5,65.0 281.5,64.9 283.5,64.9 285.5,64.8 287.5,64.8 289.5,64.8 291.5,64.7 293.5,64.7 295.5,64.7 297.5,64.6 299.5,64.6 301.5,64.5 303.5,64.5 305.5,64.5 307.5,64.4 308.5,64.4"/>
<path d="M57.5,246.6 59.5,240.4 61.5,233.4 63.5,227.2 65.5,221.9 67.5,217.2 69.5,213.1 71.5,209.3 73.5,205.8 75.5,202.6 77.5,199.7 79.5,197.0 81.5,194.5 83.5,192.2 85.5,190.1 87.5,188.0 89.5,185.9 91.5,183.8 93.5,181.8 95.5,179.8 97.5,177.8 99.5,175.9 101.5,174.0 103.5,172.1 105.5,170.3 107.5,168.5 109.5,166.8 111.5,165.1 113.5,163.5 115.5,162.0 117.5,160.5 119.5,159.0 121.5,157.6 123.5,156.2 125.5,154.8 127.5,153.3 129.5,151.8 131.5,150.2 133.5,148.5 135.5,146.8 137.5,145.1 139.5,143.3 141.5,141.5 143.5,139.8 145.5,138.1 147.5,136.5 149.5,135.0 151.5,133.5 153.5,132.0 155.5,130.6 157.5,129.2 159.5,127.7 161.5,126.3 163.5,124.9 165.5,123.5 167.5,122.2 169.5,120.9 171.5,119.7 173.5,118.6 175.5,117.5 177.5,116.5 179.5,115.4 181.5,114.2 183.5,113.0 185.5,111.7 187.5,110.4 189.5,109.0 191.5,107.7 193.5,106.4 195.5,105.2 197.5,104.0 199.5,102.8 201.5,101.5 203.5,100.1 205.5,98.6 207.5,96.9 209.5,95.1 211.5,93.2 213.5,91.1 215.5,88.9 217.5,86.8 219.5,84.7 221.5,82.7 223.5,80.8 225.5,79.1 227.5,77.5 229.5,75.9 231.5,74.4 233.5,72.8 235.5,71.4 237.5,70.1 239.5,68.9 241.5,67.8 243.5,66.9 245.5,66.0 247.5,65.2 249.5,64.5 251.5,63.8 253.5,63.2 255.5,62.6 257.5,62.1 259.5,61.8 261.5,61.5 263.5,61.3 265.5,61.2 267.5,61.1 269.5,61.1 271.5,61.0 273.5,61.0 275.5,60.9 277.5,60.9 279.5,60.8 281.5,60.8 283.5,60.7 285.5,60.7 287.5,60.7 289.5,60.6 291.5,60.6 293.5,60.6 295.5,60.6 297.5,60.5 299.5,60.5 301.5,60.5 303.5,60.5 305.5,60.4 307.5,60.4 308.5,60.4"/>
<path d="M57.5,245.1 59.5,239.8 61.5,233.6 63.5,228.0 65.5,223.2 67.5,218.9 69.5,215.0 71.5,211.5 73.5,208.2 75.5,205.2 77.5,202.4 79.5,199.8 81.5,197.5 83.5,195.3 85.5,193.2 87.5,191.1 89.5,189.1 91.5,187.1 93.5,185.1 95.5,183.2 97.5,181.3 99.5,179.4 101.5,177.6 103.5,175.8 105.5,174.1 107.5,172.4 109.5,170.7 111.5,169.1 113.5,167.6 115.5,166.2 117.5,164.9 119.5,163.6 121.5,162.4 123.5,161.2 125.5,160.0 127.5,158.8 129.5,157.5 131.5,156.1 133.5,154.7 135.5,153.2 137.5,151.6 139.5,149.9 141.5,148.2 143.5,146.6 145.5,145.0 147.5,143.6 149.5,142.2 151.5,141.0 153.5,139.8 155.5,138.7 157.5,137.6 159.5,136.5 161.5,135.4 163.5,134.4 165.5,133.3 167.5,132.2 169.5,131.2 171.5,130.1 173.5,129.1 175.5,128.1 177.5,127.0 179.5,126.0 181.5,124.9 183.5,123.8 185.5,122.6 187.5,121.4 189.5,120.2 191.5,118.9 193.5,117.8 195.5,116.8 197.5,115.8 199.5,114.8 201.5,113.8 203.5,112.7 205.5,111.5 207.5,110.2 209.5,108.7 211.5,107.0 213.5,105.2 215.5,103.2 217.5,101.1 219.5,98.9 221.5,96.7 223.5,94.6 225.5,92.4 227.5,90.2 229.5,88.2 231.5,86.1 233.5,84.2 235.5,82.3 237.5,80.5 239.5,78.9 241.5,77.4 243.5,76.0 245.5,74.8 247.5,73.7 249.5,72.6 251.5,71.5 253.5,70.4 255.5,69.3 257.5,68.3 259.5,67.5 261.5,66.9 263.5,66.5 265.5,66.3 267.5,66.2 269.5,66.1 271.5,66.1 273.5,66.0 275.5,66.0 277.5,65.9 279.5,65.8 281.5,65.7 283.5,65.6 285.5,65.6 287.5,65.6 289.5,65.6 291.5,65.5 293.5,65.5 295.5,65.5 297.5,65.4 299.5,65.4 301.5,65.3 303.5,65.3 305.5,65.2 307.5,65.1 308.5,65.1"/>
<path d="M57.5,244.8 59.5,239.1 61.5,232.3 63.5,226.3 65.5,221.2 67.5,216.6 69.5,212.5 71.5,208.8 73.5,205.4 75.5,202.3 77.5,199.4 79.5,196.7 81.5,194.2 83.5,191.9 85.5,189.7 87.5,187.5 89.5,185.3 91.5,183.2 93.5,181.0 95.5,178.9 97.5,176.9 99.5,174.9 101.5,173.0 103.5,171.1 105.5,169.3 107.5,167.5 109.5,165.7 111.5,164.0 113.5,162.3 115.5,160.7 117.5,159.1 119.5,157.6 121.5,156.1 123.5,154.7 125.5,153.2 127.5,151.8 129.5,150.3 131.5,148.8 133.5,147.3 135.5,145.7 137.5,144.1 139.5,142.4 141.5,140.7 143.5,139.1 145.5,137.4 147.5,135.8 149.5,134.3 151.5,132.8 153.5,131.3 155.5,129.8 157.5,128.3 159.5,126.9 161.5,125.4 163.5,124.0 165.5,122.6 167.5,121.2 169.5,119.9 171.5,118.7 173.5,117.6 175.5,116.5 177.5,115.3 179.5,114.2 181.5,113.0 183.5,111.8 185.5,110.6 187.5,109.3 189.5,108.0 191.5,106.8 193.5,105.5 195.5,104.3 197.5,103.2 199.5,102.0 201.5,100.7 203.5,99.4 205.5,98.1 207.5,96.6 209.5,95.1 211.5,93.5 213.5,91.8 215.5,90.1 217.5,88.3 219.5,86.6 221.5,84.8 223.5,83.1 225.5,81.5 227.5,79.8 229.5,78.0 231.5,76.3 233.5,74.5 235.5,72.8 237.5,71.1 239.5,69.5 241.5,68.1 243.5,66.7 245.5,65.4 247.5,64.2 249.5,63.1 251.5,62.1 253.5,61.2 255.5,60.4 257.5,59.6 259.5,59.1 261.5,58.6 263.5,58.2 265.5,58.0 267.5,57.8 269.5,57.6 271.5,57.4 273.5,57.3 275.5,57.2 277.5,57.1 279.5,56.9 281.5,56.8 283.5,56.7 285.5,56.6 287.5,56.5 289.5,56.4 291.5,56.3 293.5,56.3 295.5,56.2 297.5,56.1 299.5,56.1 301.5,56.0 303.5,55.9 305.5,55.9 307.5,55.9 308.5,55.8"/>
<path d="M57.5,249.9 59.5,244.3 61.5,237.9 63.5,232.1 65.5,227.2 67.5,223.0 69.5,219.2 71.5,215.7 73.5,212.6 75.5,209.7 77.5,207.1 79.5,204.7 81.5,202.4 83.5,200.3 85.5,198.4 87.5,196.4 89.5,194.4 91.5,192.4 93.5,190.3 95.5,188.3 97.5,186.3 99.5,184.6 101.5,182.9 103.5,181.4 105.5,179.8 107.5,178.2 109.5,176.5 111.5,174.9 113.5,173.3 115.5,171.8 117.5,170.3 119.5,168.9 121.5,167.6 123.5,166.3 125.5,165.0 127.5,163.8 129.5,162.5 131.5,161.4 133.5,160.2 135.5,159.0 137.5,157.9 139.5,156.7 141.5,155.5 143.5,154.2 145.5,153.0 147.5,151.7 149.5,150.4 151.5,149.1 153.5,147.7 155.5,146.3 157.5,144.9 159.5,143.5 161.5,142.1 163.5,140.8 165.5,139.5 167.5,138.2 169.5,137.0 171.5,135.8 173.5,134.7 175.5,133.5 177.5,132.4 179.5,131.2 181.5,130.0 183.5,128.8 185.5,127.6 187.5,126.4 189.5,125.3 191.5,124.2 193.5,123.1 195.5,122.1 197.5,121.1 199.5,120.1 201.5,119.1 203.5,118.1 205.5,117.2 207.5,116.3 209.5,115.4 211.5,114.5 213.5,113.7 215.5,112.7 217.5,111.7 219.5,110.6 221.5,109.4 223.5,108.2 225.5,106.8 227.5,105.4 229.5,104.0 231.5,102.5 233.5,101.0 235.5,99.5 237.5,98.0 239.5,96.6 241.5,95.2 243.5,93.8 245.5,92.4 247.5,91.0 249.5,89.5 251.5,88.0 253.5,86.5 255.5,85.0 257.5,83.5 259.5,82.2 261.5,81.0 263.5,79.9 265.5,78.9 267.5,77.9 269.5,77.1 271.5,76.4 273.5,75.8 275.5,75.3 277.5,74.8 279.5,74.4 281.5,74.1 283.5,73.8 285.5,73.6 287.5,73.4 289.5,73.1 291.5,72.8 293.5,72.6 295.5,72.4 297.5,72.2 299.5,72.0 301.5,71.8 303.5,71.6 305.5,71.4 307.5,71.2 308.5,71.2"/>
<path d="M57.5,243.7 59.5,238.3 61.5,231.9 63.5,226.2 65.5,221.2 67.5,216.8 69.5,212.8 71.5,209.1 73.5,205.8 75.5,202.7 77.5,199.8 79.5,197.1 81.5,194.6 83.5,192.3 85.5,190.0 87.5,187.8 89.5,185.6 91.5,183.4 93.5,181.1 95.5,178.9 97.5,176.8 99.5,174.8 101.5,172.9 103.5,171.0 105.5,169.2 107.5,167.4 109.5,165.5 111.5,163.8 113.5,162.0 115.5,160.4 117.5,158.8 119.5,157.2 121.5,155.7 123.5,154.3 125.5,152.9 127.5,151.5 129.5,150.1 131.5,148.7 133.5,147.2 135.5,145.7 137.5,144.1 139.5,142.6 141.5,140.9 143.5,139.3 145.5,137.7 147.5,136.1 149.5,134.6 151.5,133.1 153.5,131.6 155.5,130.2 157.5,128.8 159.5,127.4 161.5,126.0 163.5,124.6 165.5,123.2 167.5,121.9 169.5,120.6 171.5,119.4 173.5,118.2 175.5,117.0 177.5,115.9 179.5,114.7 181.5,113.5 183.5,112.2 185.5,111.0 187.5,109.8 189.5,108.5 191.5,107.3 193.5,106.1 195.5,104.9 197.5,103.8 199.5,102.6 201.5,101.4 203.5,100.3 205.5,99.0 207.5,97.8 209.5,96.5 211.5,95.2 213.5,93.9 215.5,92.4 217.5,90.9 219.5,89.4 221.5,87.7 223.5,86.0 225.5,84.2 227.5,82.3 229.5,80.4 231.5,78.4 233.5,76.4 235.5,74.4 237.5,72.4 239.5,70.5 241.5,68.7 243.5,67.0 245.5,65.4 247.5,63.9 249.5,62.5 251.5,61.2 253.5,60.0 255.5,58.8 257.5,57.8 259.5,57.0 261.5,56.3 263.5,55.8 265.5,55.4 267.5,55.0 269.5,54.8 271.5,54.6 273.5,54.4 275.5,54.2 277.5,54.0 279.5,53.8 281.5,53.6 283.5,53.5 285.5,53.4 287.5,53.2 289.5,53.1 291.5,53.0 293.5,52.9 295.5,52.8 297.5,52.7 299.5,52.6 301.5,52.5 303.5,52.4 305.5,52.3 307.5,52.2 308.5,52.2"/>
<path d="M57.5,246.5 59.5,240.9 61.5,234.2 63.5,228.3 65.5,223.2 67.5,218.7 69.5,214.6 71.5,211.0 73.5,207.7 75.5,204.7 77.5,201.9 79.5,199.3 81.5,197.0 83.5,194.8 85.5,192.7 87.5,190.7 89.5,188.7 91.5,186.6 93.5,184.6 95.5,182.6 97.5,180.6 99.5,178.8 101.5,177.0 103.5,175.3 105.5,173.6 107.5,171.8 109.5,170.1 111.5,168.4 113.5,166.8 115.5,165.2 117.5,163.7 119.5,162.3 121.5,160.9 123.5,159.5 125.5,158.1 127.5,156.7 129.5,155.3 131.5,153.9 133.5,152.4 135.5,150.8 137.5,149.2 139.5,147.6 141.5,146.0 143.5,144.4 145.5,142.8 147.5,141.2 149.5,139.7 151.5,138.3 153.5,136.8 155.5,135.3 157.5,133.9 159.5,132.5 161.5,131.1 163.5,129.7 165.5,128.3 167.5,127.0 169.5,125.7 171.5,124.5 173.5,123.3 175.5,122.1 177.5,121.0 179.5,119.8 181.5,118.6 183.5,117.3 185.5,116.1 187.5,114.8 189.5,113.5 191.5,112.1 193.5,110.9 195.5,109.6 197.5,108.4 199.5,107.2 201.5,105.9 203.5,104.7 205.5,103.4 207.5,102.0 209.5,100.7 211.5,99.2 213.5,97.6 215.5,96.0 217.5,94.3 219.5,92.6 221.5,90.8 223.5,89.0 225.5,87.3 227.5,85.5 229.5,83.7 231.5,81.9 233.5,80.1 235.5,78.4 237.5,76.8 239.5,75.2 241.5,73.7 243.5,72.3 245.5,71.0 247.5,69.8 249.5,68.7 251.5,67.6 253.5,66.6 255.5,65.6 257.5,64.8 259.5,64.2 261.5,63.6 263.5,63.2 265.5,63.0 267.5,62.8 269.5,62.6 271.5,62.5 273.5,62.4 275.5,62.3 277.5,62.2 279.5,62.1 281.5,62.1 283.5,62.0 285.5,62.0 287.5,61.9 289.5,61.9 291.5,61.9 293.5,61.8 295.5,61.8 297.5,61.8 299.5,61.7 301.5,61.7 303.5,61.6 305.5,61.5 307.5,61.5 308.5,61.5"/>
<path d="M57.5,245.9 59.5,240.3 61.5,233.7 63.5,227.8 65.5,222.7 67.5,218.2 69.5,214.2 71.5,210.6 73.5,207.3 75.5,204.3 77.5,201.6 79.5,199.0 81.5,196.7 83.5,194.5 85.5,192.4 87.5,190.4 89.5,188.3 91.5,186.2 93.5,184.1 95.5,182.1 97.5,180.1 99.5,178.2 101.5,176.5 103.5,174.8 105.5,173.1 107.5,171.3 109.5,169.6 111.5,167.9 113.5,166.2 115.5,164.6 117.5,163.0 119.5,161.5 121.5,160.0 123.5,158.6 125.5,157.2 127.5,155.8 129.5,154.4 131.5,153.0 133.5,151.5 135.5,150.1 137.5,148.6 139.5,147.1 141.5,145.5 143.5,144.0 145.5,142.5 147.5,140.9 149.5,139.4 151.5,138.0 153.5,136.5 155.5,135.0 157.5,133.6 159.5,132.1 161.5,130.7 163.5,129.3 165.5,128.0 167.5,126.6 169.5,125.4 171.5,124.1 173.5,122.9 175.5,121.7 177.5,120.6 179.5,119.3 181.5,118.1 183.5,116.9 185.5,115.6 187.5,114.4 189.5,113.1 191.5,111.9 193.5,110.6 195.5,109.4 197.5,108.2 199.5,107.0 201.5,105.8 203.5,104.5 205.5,103.3 207.5,102.0 209.5,100.8 211.5,99.5 213.5,98.1 215.5,96.7 217.5,95.1 219.5,93.5 221.5,91.9 223.5,90.2 225.5,88.4 227.5,86.6 229.5,84.8 231.5,82.9 233.5,81.0 235.5,79.2 237.5,77.4 239.5,75.7 241.5,74.1 243.5,72.6 245.5,71.2 247.5,69.9 249.5,68.7 251.5,67.5 253.5,66.4 255.5,65.4 257.5,64.6 259.5,63.9 261.5,63.4 263.5,62.9 265.5,62.6 267.5,62.3 269.5,62.2 271.5,62.0 273.5,61.9 275.5,61.7 277.5,61.6 279.5,61.5 281.5,61.4 283.5,61.3 285.5,61.3 287.5,61.2 289.5,61.1 291.5,61.1 293.5,61.0 295.5,60.9 297.5,60.9 299.5,60.8 301.5,60.8 303.5,60.7 305.5,60.7 307.5,60.6 308.5,60.6"/>
<path d="M57.5,246.5 59.5,240.5 61.5,233.6 63.5,227.4 65.5,222.2 67.5,217.6 69.5,213.4 71.5,209.7 73.5,206.2 75.5,203.1 77.5,200.1 79.5,197.4 81.5,194.9 83.5,192.5 85.5,190.3 87.5,188.1 89.5,186.0 91.5,183.8 93.5,181.7 95.5,179.6 97.5,177.6 99.5,175.6 101.5,173.7 103.5,171.8 105.5,169.9 107.5,168.1 109.5,166.3 111.5,164.6 113.5,162.9 115.5,161.3 117.5,159.7 119.5,158.2 121.5,156.7 123.5,155.3 125.5,153.9 127.5,152.4 129.5,150.9 131.5,149.3 133.5,147.7 135.5,146.1 137.5,144.4 139.5,142.7 141.5,140.9 143.5,139.2 145.5,137.6 147.5,135.9 149.5,134.4 151.5,132.8 153.5,131.3 155.5,129.7 157.5,128.2 159.5,126.7 161.5,125.2 163.5,123.7 165.5,122.2 167.5,120.8 169.5,119.5 171.5,118.2 173.5,117.0 175.5,115.9 177.5,114.8 179.5,113.6 181.5,112.4 183.5,111.2 185.5,109.9 187.5,108.5 189.5,107.2 191.5,105.8 193.5,104.5 195.5,103.3 197.5,102.1 199.5,100.8 201.5,99.5 203.5,98.2 205.5,96.7 207.5,95.2 209.5,93.6 211.5,91.9 213.5,90.2 215.5,88.4 217.5,86.5 219.5,84.8 221.5,83.0 223.5,81.4 225.5,79.9 227.5,78.3 229.5,76.8 231.5,75.2 233.5,73.7 235.5,72.2 237.5,70.8 239.5,69.4 241.5,68.2 243.5,67.0 245.5,65.8 247.5,64.8 249.5,63.8 251.5,62.9 253.5,62.0 255.5,61.2 257.5,60.5 259.5,59.9 261.5,59.4 263.5,59.0 265.5,58.6 267.5,58.3 269.5,58.1 271.5,57.9 273.5,57.7 275.5,57.5 277.5,57.4 279.5,57.2 281.5,57.1 283.5,57.0 285.5,56.9 287.5,56.8 289.5,56.7 291.5,56.6 293.5,56.6 295.5,56.5 297.5,56.4 299.5,56.3 301.5,56.3 303.5,56.2 305.5,56.1 307.5,56.1 308.5,56.1"/>
<path d="M57.5,245.9 59.5,240.5 61.5,234.2 63.5,228.5 65.5,223.6 67.5,219.2 69.5,215.3 71.5,211.8 73.5,208.5 75.5,205.5 77.5,202.7 79.5,200.2 81.5,197.8 83.5,195.6 85.5,193.5 87.5,191.4 89.5,189.4 91.5,187.4 93.5,185.4 95.5,183.4 97.5,181.5 99.5,179.6 101.5,177.8 103.5,176.1 105.5,174.3 107.5,172.6 109.5,170.8 111.5,169.2 113.5,167.6 115.5,166.1 117.5,164.7 119.5,163.4 121.5,162.1 123.5,160.8 125.5,159.6 127.5,158.3 129.5,156.9 131.5,155.5 133.5,154.1 135.5,152.5 137.5,151.0 139.5,149.3 141.5,147.7 143.5,146.1 145.5,144.5 147.5,142.9 149.5,141.4 151.5,140.0 153.5,138.6 155.5,137.3 157.5,135.9 159.5,134.6 161.5,133.3 163.5,132.0 165.5,130.7 167.5,129.4 169.5,128.2 171.5,127.0 173.5,125.9 175.5,124.8 177.5,123.6 179.5,122.5 181.5,121.3 183.5,120.1 185.5,118.9 187.5,117.6 189.5,116.4 191.5,115.1 193.5,113.8 195.5,112.6 197.5,111.5 199.5,110.4 201.5,109.2 203.5,108.1 205.5,106.9 207.5,105.6 209.5,104.3 211.5,102.9 213.5,101.4 215.5,99.8 217.5,98.1 219.5,96.4 221.5,94.6 223.5,92.8 225.5,91.0 227.5,89.1 229.5,87.2 231.5,85.3 233.5,83.5 235.5,81.6 237.5,79.8 239.5,78.1 241.5,76.4 243.5,74.9 245.5,73.4 247.5,72.1 249.5,70.7 251.5,69.5 253.5,68.2 255.5,67.0 257.5,65.9 259.5,65.0 261.5,64.3 263.5,63.8 265.5,63.4 267.5,63.1 269.5,62.9 271.5,62.7 273.5,62.6 275.5,62.4 277.5,62.3 279.5,62.2 281.5,62.1 283.5,62.0 285.5,62.0 287.5,61.9 289.5,61.9 291.5,61.8 293.5,61.8 295.5,61.7 297.5,61.7 299.5,61.6 301.5,61.5 303.5,61.4 305.5,61.3 307.5,61.2 308.5,61.2"/>
<path d="M57.5,244.6 59.5,239.2 61.5,232.7 63.5,226.8 65.5,221.7 67.5,217.3 69.5,213.2 71.5,209.6 73.5,206.3 75.5,203.3 77.5,200.5 79.5,197.9 81.5,195.4 83.5,193.2 85.5,191.0 87.5,188.9 89.5,186.8 91.5,184.6 93.5,182.3 95.5,180.1 97.5,178.1 99.5,176.1 101.5,174.3 103.5,172.5 105.5,170.8 107.5,169.0 109.5,167.2 111.5,165.5 113.5,163.7 115.5,162.0 117.5,160.3 119.5,158.7 121.5,157.2 123.5,155.7 125.5,154.2 127.5,152.8 129.5,151.4 131.5,150.0 133.5,148.6 135.5,147.2 137.5,145.7 139.5,144.3 141.5,142.8 143.5,141.3 145.5,139.8 147.5,138.3 149.5,136.8 151.5,135.2 153.5,133.7 155.5,132.2 157.5,130.8 159.5,129.3 161.5,127.9 163.5,126.4 165.5,125.1 167.5,123.7 169.5,122.4 171.5,121.2 173.5,120.0 175.5,118.8 177.5,117.5 179.5,116.3 181.5,115.1 183.5,113.8 185.5,112.6 187.5,111.3 189.5,110.1 191.5,108.9 193.5,107.7 195.5,106.6 197.5,105.4 199.5,104.2 201.5,103.0 203.5,101.8 205.5,100.6 207.5,99.5 209.5,98.3 211.5,97.2 213.5,96.0 215.5,94.7 217.5,93.4 219.5,91.9 221.5,90.4 223.5,88.8 225.5,87.1 227.5,85.3 229.5,83.4 231.5,81.4 233.5,79.5 235.5,77.5 237.5,75.6 239.5,73.7 241.5,71.9 243.5,70.3 245.5,68.7 247.5,67.3 249.5,65.9 251.5,64.6 253.5,63.5 255.5,62.4 257.5,61.5 259.5,60.7 261.5,60.1 263.5,59.5 265.5,59.1 267.5,58.8 269.5,58.5 271.5,58.2 273.5,58.0 275.5,57.8 277.5,57.6 279.5,57.4 281.5,57.3 283.5,57.1 285.5,57.0 287.5,56.9 289.5,56.7 291.5,56.6 293.5,56.5 295.5,56.4 297.5,56.3 299.5,56.2 301.5,56.1 303.5,56.0 305.5,55.9 307.5,55.9 308.5,55.9"/>
<path d="M57.5,245.3 59.5,239.8 61.5,233.4 63.5,227.7 65.5,222.8 67.5,218.4 69.5,214.4 71.5,210.8 73.5,207.4 75.5,204.3 77.5,201.5 79.5,198.8 81.5,196.3 83.5,194.0 85.5,191.8 87.5,189.7 89.5,187.6 91.5,185.5 93.5,183.4 95.5,181.3 97.5,179.3 99.5,177.4 101.5,175.5 103.5,173.6 105.5,171.8 107.5,170.0 109.5,168.2 111.5,166.5 113.5,164.9 115.5,163.3 117.5,161.9 119.5,160.5 121.5,159.2 123.5,157.9 125.5,156.5 127.5,155.2 129.5,153.8 131.5,152.4 133.5,150.8 135.5,149.3 137.5,147.6 139.5,145.9 141.5,144.2 143.5,142.5 145.5,140.9 147.5,139.3 149.5,137.8 151.5,136.3 153.5,135.0 155.5,133.6 157.5,132.2 159.5,130.9 161.5,129.6 163.5,128.3 165.5,127.0 167.5,125.7 169.5,124.5 171.5,123.3 173.5,122.1 175.5,121.0 177.5,119.8 179.5,118.7 181.5,117.5 183.5,116.3 185.5,115.0 187.5,113.7 189.5,112.4 191.5,111.1 193.5,109.9 195.5,108.7 197.5,107.5 199.5,106.4 201.5,105.3 203.5,104.1 205.5,102.8 207.5,101.5 209.5,100.1 211.5,98.6 213.5,96.9 215.5,95.2 217.5,93.5 219.5,91.7 221.5,89.8 223.5,88.0 225.5,86.1 227.5,84.3 229.5,82.4 231.5,80.5 233.5,78.6 235.5,76.8 237.5,75.1 239.5,73.3 241.5,71.7 243.5,70.3 245.5,68.9 247.5,67.6 249.5,66.3 251.5,65.1 253.5,63.9 255.5,62.7 257.5,61.7 259.5,60.8 261.5,60.1 263.5,59.6 265.5,59.2 267.5,59.0 269.5,58.8 271.5,58.6 273.5,58.4 275.5,58.3 277.5,58.1 279.5,58.0 281.5,57.9 283.5,57.8 285.5,57.7 287.5,57.6 289.5,57.6 291.5,57.5 293.5,57.4 295.5,57.3 297.5,57.3 299.5,57.2 301.5,57.1 303.5,57.0 305.5,56.9 307.5,56.8 308.5,56.8"/>
<path d="M57.5,247.3 59.5,241.8 61.5,235.4 63.5,229.8 65.5,225.0 67.5,220.7 69.5,216.9 71.5,213.4 73.5,210.2 75.5,207.2 77.5,204.4 79.5,201.8 81.5,199.4 83.5,197.1 85.5,195.0 87.5,192.9 89.5,190.9 91.5,188.9 93.5,186.9 95.5,185.0 97.5,183.1 99.5,181.3 101.5,179.4 103.5,177.6 105.5,175.8 107.5,174.0 109.5,172.2 111.5,170.5 113.5,168.9 115.5,167.4 117.5,166.1 119.5,164.8 121.5,163.6 123.5,162.4 125.5,161.2 127.5,159.9 129.5,158.6 131.5,157.2 133.5,155.7 135.5,154.1 137.5,152.4 139.5,150.7 141.5,149.0 143.5,147.3 145.5,145.6 147.5,143.9 149.5,142.3 151.5,140.6 153.5,139.0 155.5,137.4 157.5,135.7 159.5,134.1 161.5,132.5 163.5,130.9 165.5,129.4 167.5,127.9 169.5,126.4 171.5,125.1 173.5,123.8 175.5,122.6 177.5,121.4 179.5,120.2 181.5,119.0 183.5,117.8 185.5,116.5 187.5,115.1 189.5,113.8 191.5,112.3 193.5,110.9 195.5,109.5 197.5,108.2 199.5,106.9 201.5,105.7 203.5,104.5 205.5,103.3 207.5,102.1 209.5,101.0 211.5,99.8 213.5,98.7 215.5,97.5 217.5,96.4 219.5,95.2 221.5,94.0 223.5,92.8 225.5,91.4 227.5,90.0 229.5,88.5 231.5,86.9 233.5,85.3 235.5,83.5 237.5,81.7 239.5,79.8 241.5,77.9 243.5,76.0 245.5,74.2 247.5,72.4 249.5,70.6 251.5,68.9 253.5,67.2 255.5,65.6 257.5,64.2 259.5,63.0 261.5,61.9 263.5,61.1 265.5,60.4 267.5,59.7 269.5,59.2 271.5,58.8 273.5,58.5 275.5,58.2 277.5,58.0 279.5,57.9 281.5,57.8 283.5,57.7 285.5,57.6 287.5,57.5 289.5,57.4 291.5,57.4 293.5,57.3 295.5,57.2 297.5,57.1 299.5,56.9 301.5,56.8 303.5,56.6 305.5,56.4 307.5,56.2 308.5,56.1"/>
<path d="M57.5,246.3 59.5,240.8 61.5,234.6 63.5,229.0 65.5,224.2 67.5,219.9 69.5,216.0 71.5,212.5 73.5,209.3 75.5,206.3 77.5,203.5 79.5,200.9 81.5,198.6 83.5,196.4 85.5,194.3 87.5,192.2 89.5,190.2 91.5,188.1 93.5,186.1 95.5,184.1 97.5,182.2 99.5,180.4 101.5,178.6 103.5,176.8 105.5,175.1 107.5,173.4 109.5,171.7 111.5,170.1 113.5,168.6 115.5,167.2 117.5,165.8 119.5,164.5 121.5,163.3 123.5,162.1 125.5,160.9 127.5,159.7 129.5,158.4 131.5,157.1 133.5,155.7 135.5,154.3 137.5,152.8 139.5,151.3 141.5,149.8 143.5,148.3 145.5,146.8 147.5,145.4 149.5,144.1 151.5,142.8 153.5,141.6 155.5,140.5 157.5,139.3 159.5,138.2 161.5,137.1 163.5,135.9 165.5,134.8 167.5,133.7 169.5,132.7 171.5,131.6 173.5,130.6 175.5,129.6 177.5,128.5 179.5,127.4 181.5,126.3 183.5,125.2 185.5,124.1 187.5,122.9 189.5,121.7 191.5,120.5 193.5,119.5 195.5,118.5 197.5,117.5 199.5,116.6 201.5,115.6 203.5,114.6 205.5,113.5 207.5,112.3 209.5,110.9 211.5,109.4 213.5,107.8 215.5,106.1 217.5,104.3 219.5,102.4 221.5,100.5 223.5,98.6 225.5,96.6 227.5,94.7 229.5,92.8 231.5,90.9 233.5,89.1 235.5,87.4 237.5,85.7 239.5,84.2 241.5,82.7 243.5,81.4 245.5,80.2 247.5,79.0 249.5,77.8 251.5,76.6 253.5,75.4 255.5,74.1 257.5,73.0 259.5,72.0 261.5,71.2 263.5,70.6 265.5,70.1 267.5,69.7 269.5,69.4 271.5,69.1 273.5,68.9 275.5,68.6 277.5,68.4 279.5,68.2 281.5,68.0 283.5,67.9 285.5,67.8 287.5,67.7 289.5,67.5 291.5,67.4 293.5,67.3 295.5,67.2 297.5,67.1 299.5,67.0 301.5,66.9 303.5,66.8 305.5,66.7 307.5,66.6 308.5,66.6"/>
<path d="M57.5,247.8 59.5,242.3 61.5,235.6 63.5,229.5 65.5,224.3 67.5,219.8 69.5,215.8 71.5,212.3 73.5,209.1 75.5,206.2 77.5,203.6 79.5,201.2 81.5,199.1 83.5,197.1 85.5,195.3 87.5,193.5 89.5,191.6 91.5,189.6 93.5,187.6 95.5,185.6 97.5,183.8 99.5,182.1 101.5,180.6 103.5,179.1 105.5,177.6 107.5,176.0 109.5,174.4 111.5,172.7 113.5,171.1 115.5,169.5 117.5,168.0 119.5,166.4 121.5,165.0 123.5,163.5 125.5,162.1 127.5,160.7 129.5,159.3 131.5,158.0 133.5,156.6 135.5,155.3 137.5,153.9 139.5,152.5 141.5,151.1 143.5,149.7 145.5,148.3 147.5,146.9 149.5,145.5 151.5,144.1 153.5,142.7 155.5,141.4 157.5,140.0 159.5,138.6 161.5,137.3 163.5,136.0 165.5,134.7 167.5,133.5 169.5,132.3 171.5,131.1 173.5,129.9 175.5,128.7 177.5,127.5 179.5,126.2 181.5,125.0 183.5,123.7 185.5,122.4 187.5,121.2 189.5,119.9 191.5,118.7 193.5,117.5 195.5,116.3 197.5,115.1 199.5,113.8 201.5,112.6 203.5,111.4 205.5,110.2 207.5,109.0 209.5,107.8 211.5,106.6 213.5,105.2 215.5,103.7 217.5,102.1 219.5,100.3 221.5,98.5 223.5,96.6 225.5,94.7 227.5,92.7 229.5,90.8 231.5,88.9 233.5,87.0 235.5,85.2 237.5,83.6 239.5,82.0 241.5,80.6 243.5,79.4 245.5,78.2 247.5,77.2 249.5,76.1 251.5,75.2 253.5,74.3 255.5,73.5 257.5,72.8 259.5,72.3 261.5,71.9 263.5,71.6 265.5,71.4 267.5,71.3 269.5,71.2 271.5,71.2 273.5,71.2 275.5,71.1 277.5,71.1 279.5,71.1 281.5,71.1 283.5,71.1 285.5,71.1 287.5,71.1 289.5,71.1 291.5,71.1 293.5,71.1 295.5,71.1 297.5,71.1 299.5,71.1 301.5,71.0 303.5,71.0 305.5,71.0 307.5,71.0 308.5,71.0"/>
<path d="M57.5,243.9 59.5,238.4 61.5,232.0 63.5,226.3 65.5,221.3 67.5,216.9 69.5,212.9 71.5,209.2 73.5,205.8 75.5,202.7 77.5,199.8 79.5,197.0 81.5,194.5 83.5,192.1 85.5,189.8 87.5,187.5 89.5,185.2 91.5,182.9 93.5,180.6 95.5,178.3 97.5,176.2 99.5,174.1 101.5,172.1 103.5,170.2 105.5,168.3 107.5,166.5 109.5,164.7 111.5,162.9 113.5,161.1 115.5,159.4 117.5,157.7 119.5,156.1 121.5,154.6 123.5,153.1 125.5,151.7 127.5,150.3 129.5,148.9 131.5,147.5 133.5,146.1 135.5,144.7 137.5,143.2 139.5,141.7 141.5,140.2 143.5,138.6 145.5,137.1 147.5,135.5 149.5,133.9 151.5,132.4 153.5,130.9 155.5,129.4 157.5,127.9 159.5,126.4 161.5,125.0 163.5,123.5 165.5,122.1 167.5,120.8 169.5,119.5 171.5,118.2 173.5,117.0 175.5,115.9 177.5,114.7 179.5,113.5 181.5,112.3 183.5,111.1 185.5,109.9 187.5,108.7 189.5,107.5 191.5,106.3 193.5,105.2 195.5,104.1 197.5,102.9 199.5,101.8 201.5,100.7 203.5,99.6 205.5,98.4 207.5,97.2 209.5,96.0 211.5,94.8 213.5,93.6 215.5,92.4 217.5,91.1 219.5,89.8 221.5,88.4 223.5,86.9 225.5,85.3 227.5,83.7 229.5,81.9 231.5,80.1 233.5,78.2 235.5,76.3 237.5,74.4 239.5,72.5 241.5,70.7 243.5,69.0 245.5,67.3 247.5,65.8 249.5,64.3 251.5,62.9 253.5,61.6 255.5,60.3 257.5,59.2 259.5,58.2 261.5,57.4 263.5,56.6 265.5,56.0 267.5,55.4 269.5,55.0 271.5,54.5 273.5,54.2 275.5,53.8 277.5,53.5 279.5,53.2 281.5,52.9 283.5,52.7 285.5,52.5 287.5,52.2 289.5,52.0 291.5,51.8 293.5,51.6 295.5,51.4 297.5,51.2 299.5,51.1 301.5,51.0 303.5,50.8 305.5,50.7 307.5,50.6 308.5,50.6"/>
<path d="M57.5,247.0 59.5,240.7 61.5,233.5 63.5,227.1 65.5,221.7 67.5,217.0 69.5,212.7 71.5,208.9 73.5,205.3 75.5,202.1 77.5,199.0 79.5,196.2 81.5,193.7 83.5,191.3 85.5,189.0 87.5,186.8 89.5,184.7 91.5,182.6 93.5,180.4 95.5,178.4 97.5,176.3 99.5,174.3 101.5,172.4 103.5,170.4 105.5,168.5 107.5,166.6 109.5,164.8 111.5,163.0 113.5,161.3 115.5,159.6 117.5,158.1 119.5,156.5 121.5,155.0 123.5,153.5 125.5,152.0 127.5,150.5 129.5,148.8 131.5,147.1 133.5,145.4 135.5,143.5 137.5,141.7 139.5,139.8 141.5,137.9 143.5,136.1 145.5,134.2 147.5,132.5 149.5,130.8 151.5,129.2 153.5,127.5 155.5,125.9 157.5,124.2 159.5,122.6 161.5,120.9 163.5,119.3 165.5,117.8 167.5,116.2 169.5,114.8 171.5,113.5 173.5,112.2 175.5,111.1 177.5,109.9 179.5,108.8 181.5,107.5 183.5,106.2 185.5,104.8 187.5,103.3 189.5,101.9 191.5,100.4 193.5,99.0 195.5,97.6 197.5,96.3 199.5,94.9 201.5,93.4 203.5,91.9 205.5,90.3 207.5,88.5 209.5,86.7 211.5,84.8 213.5,82.8 215.5,80.7 217.5,78.7 219.5,76.8 221.5,75.0 223.5,73.3 225.5,71.8 227.5,70.4 229.5,68.9 231.5,67.4 233.5,66.0 235.5,64.7 237.5,63.4 239.5,62.2 241.5,61.1 243.5,60.0 245.5,59.1 247.5,58.2 249.5,57.4 251.5,56.6 253.5,56.0 255.5,55.4 257.5,54.9 259.5,54.5 261.5,54.2 263.5,54.0 265.5,53.8 267.5,53.7 269.5,53.5 271.5,53.5 273.5,53.4 275.5,53.3 277.5,53.3 279.5,53.2 281.5,53.2 283.5,53.2 285.5,53.1 287.5,53.1 289.5,53.1 291.5,53.0 293.5,53.0 295.5,53.0 297.5,53.0 299.5,52.9 301.5,52.9 303.5,52.9 305.5,52.8 307.5,52.8 308.5,52.8"/>
<path d="M57.5,246.6 59.5,240.7 61.5,234.0 63.5,228.0 65.5,222.9 67.5,218.4 69.5,214.3 71.5,210.6 73.5,207.2 75.5,204.0 77.5,201.1 79.5,198.4 81.5,196.0 83.5,193.6 85.5,191.5 87.5,189.3 89.5,187.2 91.5,185.1 93.5,183.0 95.5,181.0 97.5,179.0 99.5,177.1 101.5,175.2 103.5,173.3 105.5,171.5 107.5,169.7 109.5,167.9 111.5,166.3 113.5,164.6 115.5,163.1 117.5,161.7 119.5,160.2 121.5,158.9 123.5,157.6 125.5,156.2 127.5,154.8 129.5,153.4 131.5,151.8 133.5,150.3 135.5,148.6 137.5,146.9 139.5,145.2 141.5,143.5 143.5,141.8 145.5,140.2 147.5,138.7 149.5,137.2 151.5,135.8 153.5,134.4 155.5,133.0 157.5,131.7 159.5,130.3 161.5,129.0 163.5,127.7 165.5,126.4 167.5,125.1 169.5,123.9 171.5,122.7 173.5,121.6 175.5,120.5 177.5,119.5 179.5,118.4 181.5,117.2 183.5,116.0 185.5,114.7 187.5,113.4 189.5,112.1 191.5,110.8 193.5,109.5 195.5,108.4 197.5,107.3 199.5,106.2 201.5,105.0 203.5,103.7 205.5,102.3 207.5,100.8 209.5,99.2 211.5,97.4 213.5,95.5 215.5,93.5 217.5,91.5 219.5,89.5 221.5,87.5 223.5,85.6 225.5,83.8 227.5,82.1 229.5,80.4 231.5,78.7 233.5,77.1 235.5,75.6 237.5,74.1 239.5,72.8 241.5,71.6 243.5,70.5 245.5,69.5 247.5,68.5 249.5,67.6 251.5,66.7 253.5,65.8 255.5,64.9 257.5,64.1 259.5,63.4 261.5,62.9 263.5,62.5 265.5,62.2 267.5,61.9 269.5,61.8 271.5,61.6 273.5,61.5 275.5,61.3 277.5,61.2 279.5,61.0 281.5,60.9 283.5,60.8 285.5,60.7 287.5,60.7 289.5,60.6 291.5,60.5 293.5,60.5 295.5,60.4 297.5,60.3 299.5,60.3 301.5,60.2 303.5,60.1 305.5,60.1 307.5,60.0 308.5,60.0"/>
<path d="M57.5,243.3 59.5,237.5 61.5,230.9 63.5,224.9 65.5,219.7 67.5,215.2 69.5,211.0 71.5,207.3 73.5,203.9 75.5,200.7 77.5,197.7 79.5,194.9 81.5,192.3 83.5,189.9 85.5,187.6 87.5,185.4 89.5,183.1 91.5,180.9 93.5,178.6 95.5,176.5 97.5,174.3 99.5,172.3 101.5,170.3 103.5,168.4 105.5,166.5 107.5,164.6 109.5,162.7 111.5,161.0 113.5,159.2 115.5,157.5 117.5,155.9 119.5,154.3 121.5,152.7 123.5,151.2 125.5,149.8 127.5,148.3 129.5,146.8 131.5,145.3 133.5,143.7 135.5,142.1 137.5,140.4 139.5,138.8 141.5,137.1 143.5,135.4 145.5,133.7 147.5,132.0 149.5,130.4 151.5,128.8 153.5,127.2 155.5,125.6 157.5,124.1 159.5,122.5 161.5,121.0 163.5,119.4 165.5,118.0 167.5,116.5 169.5,115.2 171.5,113.9 173.5,112.8 175.5,111.6 177.5,110.5 179.5,109.4 181.5,108.2 183.5,107.0 185.5,105.8 187.5,104.5 189.5,103.2 191.5,102.0 193.5,100.7 195.5,99.5 197.5,98.3 199.5,97.1 201.5,95.8 203.5,94.5 205.5,93.1 207.5,91.7 209.5,90.2 211.5,88.6 213.5,87.0 215.5,85.4 217.5,83.8 219.5,82.3 221.5,80.7 223.5,79.1 225.5,77.5 227.5,75.9 229.5,74.2 231.5,72.4 233.5,70.5 235.5,68.7 237.5,66.9 239.5,65.2 241.5,63.5 243.5,61.9 245.5,60.4 247.5,59.0 249.5,57.8 251.5,56.7 253.5,55.8 255.5,54.9 257.5,54.2 259.5,53.6 261.5,53.1 263.5,52.8 265.5,52.5 267.5,52.2 269.5,52.0 271.5,51.8 273.5,51.7 275.5,51.5 277.5,51.4 279.5,51.2 281.5,51.1 283.5,50.9 285.5,50.8 287.5,50.7 289.5,50.6 291.5,50.4 293.5,50.3 295.5,50.2 297.5,50.1 299.5,50.1 301.5,50.0 303.5,49.9 305.5,49.9 307.5,49.8 308.5,49.8"/>
<path d="M57.5,246.7 59.5,241.1 61.5,234.4 63.5,228.3 65.5,223.1 67.5,218.5 69.5,214.5 71.5,210.9 73.5,207.7 75.5,204.7 77.5,202.0 79.5,199.6 81.5,197.3 83.5,195.2 85.5,193.2 87.5,191.3 89.5,189.3 91.5,187.3 93.5,185.2 95.5,183.1 97.5,181.2 99.5,179.4 101.5,177.7 103.5,176.2 105.5,174.5 107.5,172.9 109.5,171.2 111.5,169.5 113.5,167.8 115.5,166.2 117.5,164.5 119.5,162.9 121.5,161.4 123.5,159.9 125.5,158.4 127.5,157.0 129.5,155.6 131.5,154.2 133.5,152.8 135.5,151.4 137.5,150.0 139.5,148.6 141.5,147.1 143.5,145.7 145.5,144.2 147.5,142.8 149.5,141.3 151.5,139.8 153.5,138.3 155.5,136.8 157.5,135.4 159.5,133.9 161.5,132.5 163.5,131.1 165.5,129.7 167.5,128.4 169.5,127.1 171.5,125.8 173.5,124.6 175.5,123.4 177.5,122.2 179.5,121.0 181.5,119.7 183.5,118.4 185.5,117.2 187.5,115.9 189.5,114.7 191.5,113.5 193.5,112.2 195.5,111.0 197.5,109.8 199.5,108.5 201.5,107.2 203.5,106.0 205.5,104.7 207.5,103.5 209.5,102.3 211.5,101.1 213.5,99.8 215.5,98.4 217.5,96.9 219.5,95.4 221.5,93.7 223.5,92.0 225.5,90.3 227.5,88.5 229.5,86.7 231.5,84.8 233.5,83.0 235.5,81.2 237.5,79.5 239.5,77.8 241.5,76.3 243.5,74.9 245.5,73.6 247.5,72.4 249.5,71.3 251.5,70.3 253.5,69.3 255.5,68.5 257.5,67.8 259.5,67.2 261.5,66.8 263.5,66.4 265.5,66.1 267.5,65.9 269.5,65.8 271.5,65.6 273.5,65.5 275.5,65.5 277.5,65.4 279.5,65.3 281.5,65.2 283.5,65.2 285.5,65.1 287.5,65.0 289.5,65.0 291.5,64.9 293.5,64.9 295.5,64.9 297.5,64.8 299.5,64.8 301.5,64.7 303.5,64.7 305.5,64.7 307.5,64.6 308.5,64.6"/>
<path d="M57.5,247.1 59.5,241.3 61.5,234.5 63.5,228.4 65.5,223.1 67.5,218.5 69.5,214.4 71.5,210.8 73.5,207.4 75.5,204.4 77.5,201.6 79.5,199.1 81.5,196.7 83.5,194.6 85.5,192.5 87.5,190.6 89.5,188.5 91.5,186.5 93.5,184.4 95.5,182.3 97.5,180.4 99.5,178.5 101.5,176.8 103.5,175.1 105.5,173.4 107.5,171.7 109.5,170.0 111.5,168.3 113.5,166.7 115.5,165.1 117.5,163.5 119.5,162.0 121.5,160.5 123.5,159.0 125.5,157.6 127.5,156.1 129.5,154.7 131.5,153.2 133.5,151.7 135.5,150.2 137.5,148.6 139.5,147.1 141.5,145.5 143.5,144.0 145.5,142.4 147.5,140.9 149.5,139.4 151.5,138.0 153.5,136.5 155.5,135.1 157.5,133.6 159.5,132.2 161.5,130.8 163.5,129.4 165.5,128.1 167.5,126.7 169.5,125.5 171.5,124.3 173.5,123.1 175.5,121.9 177.5,120.7 179.5,119.5 181.5,118.3 183.5,117.0 185.5,115.7 187.5,114.4 189.5,113.1 191.5,111.8 193.5,110.6 195.5,109.4 197.5,108.2 199.5,106.9 201.5,105.7 203.5,104.4 205.5,103.0 207.5,101.6 209.5,100.2 211.5,98.7 213.5,97.1 215.5,95.4 217.5,93.6 219.5,91.8 221.5,90.0 223.5,88.2 225.5,86.4 227.5,84.6 229.5,82.9 231.5,81.1 233.5,79.4 235.5,77.8 237.5,76.2 239.5,74.8 241.5,73.5 243.5,72.3 245.5,71.2 247.5,70.2 249.5,69.3 251.5,68.4 253.5,67.5 255.5,66.8 257.5,66.1 259.5,65.6 261.5,65.2 263.5,64.9 265.5,64.7 267.5,64.5 269.5,64.4 271.5,64.3 273.5,64.2 275.5,64.1 277.5,64.0 279.5,64.0 281.5,63.9 283.5,63.8 285.5,63.8 287.5,63.8 289.5,63.7 291.5,63.7 293.5,63.6 295.5,63.6 297.5,63.6 299.5,63.5 301.5,63.5 303.5,63.5 305.5,63.4 307.5,63.4 308.5,63.4"/>
<path d="M57.5,246.1 59.5,240.7 61.5,234.3 63.5,228.6 65.5,223.6 67.5,219.3 69.5,215.4 71.5,211.8 73.5,208.6 75.5,205.6 77.5,202.8 79.5,200.3 81.5,197.9 83.5,195.7 85.5,193.6 87.5,191.6 89.5,189.6 91.5,187.5 93.5,185.5 95.5,183.5 97.5,181.5 99.5,179.7 101.5,177.9 103.5,176.2 105.5,174.4 107.5,172.7 109.5,170.9 111.5,169.2 113.5,167.5 115.5,166.0 117.5,164.5 119.5,163.1 121.5,161.7 123.5,160.4 125.5,159.1 127.5,157.7 129.5,156.4 131.5,155.0 133.5,153.5 135.5,152.0 137.5,150.5 139.5,148.9 141.5,147.2 143.5,145.6 145.5,144.0 147.5,142.4 149.5,140.8 151.5,139.2 153.5,137.7 155.5,136.1 157.5,134.6 159.5,133.0 161.5,131.5 163.5,130.1 165.5,128.6 167.5,127.2 169.5,125.8 171.5,124.5 173.5,123.3 175.5,122.1 177.5,120.8 179.5,119.6 181.5,118.4 183.5,117.1 185.5,115.9 187.5,114.6 189.5,113.3 191.5,111.9 193.5,110.6 195.5,109.3 197.5,108.0 199.5,106.7 201.5,105.5 203.5,104.3 205.5,103.1 207.5,101.9 209.5,100.8 211.5,99.6 213.5,98.4 215.5,97.2 217.5,95.9 219.5,94.5 221.5,93.1 223.5,91.5 225.5,89.9 227.5,88.2 229.5,86.5 231.5,84.6 233.5,82.8 235.5,80.8 237.5,78.9 239.5,77.0 241.5,75.2 243.5,73.4 245.5,71.7 247.5,70.0 249.5,68.5 251.5,67.0 253.5,65.6 255.5,64.3 257.5,63.1 259.5,62.2 261.5,61.4 263.5,60.8 265.5,60.3 267.5,59.9 269.5,59.6 271.5,59.3 273.5,59.1 275.5,59.0 277.5,58.9 279.5,58.8 281.5,58.7 283.5,58.6 285.5,58.5 287.5,58.5 289.5,58.4 291.5,58.4 293.5,58.3 295.5,58.3 297.5,58.2 299.5,58.1 301.5,58.0 303.5,57.9 305.5,57.8 307.5,57.6 308.5,57.6"/>
<path d="M57.5,246.7 59.5,241.0 61.5,234.3 63.5,228.2 65.5,223.0 67.5,218.5 69.5,214.5 71.5,210.9 73.5,207.6 75.5,204.6 77.5,201.8 79.5,199.3 81.5,197.0 83.5,194.9 85.5,192.9 87.5,190.9 89.5,188.9 91.5,186.9 93.5,184.8 95.5,182.7 97.5,180.8 99.5,179.0 101.5,177.3 103.5,175.7 105.5,174.0 107.5,172.3 109.5,170.6 111.5,168.9 113.5,167.3 115.5,165.7 117.5,164.1 119.5,162.6 121.5,161.2 123.5,159.7 125.5,158.3 127.5,156.9 129.5,155.5 131.5,154.1 133.5,152.6 135.5,151.1 137.5,149.6 139.5,148.1 141.5,146.6 143.5,145.1 145.5,143.6 147.5,142.1 149.5,140.6 151.5,139.2 153.5,137.7 155.5,136.3 157.5,134.8 159.5,133.4 161.5,132.0 163.5,130.6 165.5,129.2 167.5,127.9 169.5,126.7 171.5,125.5 173.5,124.3 175.5,123.1 177.5,122.0 179.5,120.8 181.5,119.6 183.5,118.3 185.5,117.1 187.5,115.8 189.5,114.5 191.5,113.3 193.5,112.1 195.5,110.9 197.5,109.6 199.5,108.4 201.5,107.2 203.5,105.9 205.5,104.6 207.5,103.3 209.5,102.0 211.5,100.6 213.5,99.1 215.5,97.5 217.5,95.9 219.5,94.2 221.5,92.4 223.5,90.7 225.5,88.9 227.5,87.2 229.5,85.4 231.5,83.6 233.5,81.8 235.5,80.1 237.5,78.5 239.5,76.9 241.5,75.5 243.5,74.2 245.5,73.0 247.5,71.8 249.5,70.8 251.5,69.8 253.5,68.8 255.5,68.0 257.5,67.3 259.5,66.7 261.5,66.3 263.5,65.9 265.5,65.7 267.5,65.5 269.5,65.3 271.5,65.2 273.5,65.1 275.5,65.0 277.5,65.0 279.5,64.9 281.5,64.8 283.5,64.8 285.5,64.7 287.5,64.7 289.5,64.6 291.5,64.6 293.5,64.5 295.5,64.5 297.5,64.4 299.5,64.4 301.5,64.4 303.5,64.3 305.5,64.3 307.5,64.3 308.5,64.2"/>
<path d="M57.5,245.8 59.5,240.0 61.5,233.2 63.5,227.1 65.5,221.9 67.5,217.3 69.5,213.2 71.5,209.5 73.5,206.2 75.5,203.1 77.5,200.2 79.5,197.6 81.5,195.2 83.5,192.9 85.5,190.8 87.5,188.7 89.5,186.6 91.5,184.4 93.5,182.2 95.5,180.1 97.5,178.1 99.5,176.2 101.5,174.3 103.5,172.6 105.5,170.8 107.5,169.0 109.5,167.2 111.5,165.5 113.5,163.8 115.5,162.1 117.5,160.5 119.5,158.9 121.5,157.3 123.5,155.8 125.5,154.4 127.5,152.9 129.5,151.4 131.5,149.9 133.5,148.4 135.5,146.9 137.5,145.3 139.5,143.7 141.5,142.2 143.5,140.6 145.5,139.0 147.5,137.4 149.5,135.8 151.5,134.2 153.5,132.7 155.5,131.1 157.5,129.5 159.5,128.0 161.5,126.4 163.5,124.9 165.5,123.4 167.5,122.0 169.5,120.7 171.5,119.4 173.5,118.2 175.5,117.0 177.5,115.8 179.5,114.6 181.5,113.4 183.5,112.1 185.5,110.8 187.5,109.5 189.5,108.2 191.5,106.9 193.5,105.7 195.5,104.4 197.5,103.1 199.5,101.9 201.5,100.6 203.5,99.2 205.5,97.9 207.5,96.6 209.5,95.2 211.5,93.8 213.5,92.4 215.5,90.9 217.5,89.3 219.5,87.8 221.5,86.2 223.5,84.6 225.5,83.1 227.5,81.4 229.5,79.8 231.5,78.0 233.5,76.3 235.5,74.5 237.5,72.9 239.5,71.3 241.5,69.7 243.5,68.3 245.5,66.9 247.5,65.7 249.5,64.5 251.5,63.4 253.5,62.5 255.5,61.6 257.5,60.9 259.5,60.3 261.5,59.8 263.5,59.4 265.5,59.0 267.5,58.8 269.5,58.5 271.5,58.4 273.5,58.2 275.5,58.1 277.5,57.9 279.5,57.8 281.5,57.7 283.5,57.6 285.5,57.5 287.5,57.4 289.5,57.3 291.5,57.3 293.5,57.2 295.5,57.1 297.5,57.0 299.5,57.0 301.5,56.9 303.5,56.8 305.5,56.8 307.5,56.8 308.5,56.7"/>
<path d="M57.5,248.7 59.5,243.1 61.5,236.7 63.5,230.9 65.5,226.1 67.5,221.7 69.5,217.9 71.5,214.4 73.5,211.2 75.5,208.3 77.5,205.5 79.5,203.0 81.5,200.7 83.5,198.5 85.5,196.4 87.5,194.4 89.5,192.4 91.5,190.4 93.5,188.3 95.5,186.4 97.5,184.4 99.5,182.6 101.5,180.9 103.5,179.2 105.5,177.5 107.5,175.7 109.5,174.0 111.5,172.3 113.5,170.7 115.5,169.1 117.5,167.7 119.5,166.3 121.5,165.0 123.5,163.7 125.5,162.4 127.5,161.1 129.5,159.8 131.5,158.5 133.5,157.1 135.5,155.7 137.5,154.2 139.5,152.7 141.5,151.2 143.5,149.6 145.5,148.1 147.5,146.6 149.5,145.0 151.5,143.4 153.5,141.9 155.5,140.3 157.5,138.7 159.5,137.1 161.5,135.5 163.5,134.0 165.5,132.5 167.5,131.1 169.5,129.7 171.5,128.3 173.5,127.1 175.5,125.8 177.5,124.6 179.5,123.4 181.5,122.1 183.5,120.8 185.5,119.5 187.5,118.2 189.5,116.9 191.5,115.6 193.5,114.2 195.5,112.9 197.5,111.6 199.5,110.4 201.5,109.3 203.5,108.1 205.5,107.0 207.5,106.0 209.5,105.0 211.5,104.0 213.5,103.0 215.5,102.0 217.5,101.0 219.5,99.9 221.5,98.7 223.5,97.5 225.5,96.1 227.5,94.7 229.5,93.2 231.5,91.7 233.5,90.0 235.5,88.4 237.5,86.7 239.5,85.0 241.5,83.2 243.5,81.5 245.5,79.8 247.5,78.2 249.5,76.5 251.5,74.8 253.5,73.2 255.5,71.7 257.5,70.2 259.5,69.0 261.5,67.9 263.5,66.9 265.5,66.1 267.5,65.4 269.5,64.7 271.5,64.2 273.5,63.8 275.5,63.4 277.5,63.2 279.5,62.9 281.5,62.7 283.5,62.6 285.5,62.5 287.5,62.4 289.5,62.2 291.5,62.1 293.5,61.9 295.5,61.8 297.5,61.7 299.5,61.5 301.5,61.4 303.5,61.2 305.5,61.0 307.5,60.8 308.5,60.7"/>
<path d="M57.5,246.0 59.5,240.5 61.5,234.1 63.5,228.6 65.5,223.7 67.5,219.5 69.5,215.6 71.5,212.0 73.5,208.8 75.5,205.7 77.5,202.8 79.5,200.2 81.5,197.7 83.5,195.3 85.5,193.1 87.5,190.9 89.5,188.7 91.5,186.5 93.5,184.3 95.5,182.1 97.5,180.0 99.5,178.0 101.5,176.1 103.5,174.3 105.5,172.5 107.5,170.7 109.5,169.0 111.5,167.3 113.5,165.6 115.5,164.1 117.5,162.6 119.5,161.1 121.5,159.8 123.5,158.5 125.5,157.2 127.5,156.0 129.5,154.7 131.5,153.4 133.5,152.1 135.5,150.8 137.5,149.4 139.5,148.0 141.5,146.6 143.5,145.2 145.5,143.7 147.5,142.3 149.5,140.9 151.5,139.5 153.5,138.1 155.5,136.7 157.5,135.3 159.5,133.9 161.5,132.6 163.5,131.2 165.5,129.9 167.5,128.7 169.5,127.5 171.5,126.3 173.5,125.2 175.5,124.2 177.5,123.1 179.5,122.0 181.5,120.9 183.5,119.8 185.5,118.6 187.5,117.5 189.5,116.3 191.5,115.2 193.5,114.2 195.5,113.2 197.5,112.2 199.5,111.3 201.5,110.3 203.5,109.3 205.5,108.3 207.5,107.2 209.5,106.1 211.5,104.9 213.5,103.7 215.5,102.5 217.5,101.3 219.5,100.0 221.5,98.7 223.5,97.4 225.5,96.0 227.5,94.5 229.5,93.0 231.5,91.4 233.5,89.7 235.5,88.0 237.5,86.4 239.5,84.7 241.5,83.1 243.5,81.5 245.5,80.0 247.5,78.5 249.5,77.0 251.5,75.5 253.5,74.0 255.5,72.5 257.5,71.1 259.5,69.9 261.5,68.7 263.5,67.7 265.5,66.8 267.5,66.0 269.5,65.2 271.5,64.6 273.5,64.0 275.5,63.5 277.5,63.0 279.5,62.6 281.5,62.3 283.5,62.0 285.5,61.7 287.5,61.4 289.5,61.1 291.5,60.8 293.5,60.6 295.5,60.3 297.5,60.1 299.5,59.9 301.5,59.7 303.5,59.5 305.5,59.3 307.5,59.2 308.5,59.1"/>
<path d="M57.5,246.1 59.5,240.1 61.5,233.3 63.5,227.3 65.5,222.1 67.5,217.5 69.5,213.4 71.5,209.7 73.5,206.3 75.5,203.1 77.5,200.2 79.5,197.5 81.5,195.0 83.5,192.6 85.5,190.4 87.5,188.2 89.5,186.0 91.5,183.8 93.5,181.6 95.5,179.4 97.5,177.3 99.5,175.3 101.5,173.4 103.5,171.5 105.5,169.7 107.5,167.9 109.5,166.1 111.5,164.3 113.5,162.6 115.5,161.0 117.5,159.3 119.5,157.8 121.5,156.3 123.5,154.8 125.5,153.4 127.5,151.9 129.5,150.4 131.5,148.9 133.5,147.4 135.5,145.9 137.5,144.3 139.5,142.7 141.5,141.1 143.5,139.5 145.5,137.9 147.5,136.3 149.5,134.8 151.5,133.2 153.5,131.7 155.5,130.2 157.5,128.6 159.5,127.1 161.5,125.6 163.5,124.1 165.5,122.6 167.5,121.2 169.5,119.9 171.5,118.7 173.5,117.5 175.5,116.3 177.5,115.2 179.5,114.1 181.5,112.9 183.5,111.6 185.5,110.3 187.5,109.0 189.5,107.8 191.5,106.5 193.5,105.3 195.5,104.1 197.5,102.9 199.5,101.7 201.5,100.5 203.5,99.2 205.5,97.9 207.5,96.5 209.5,95.0 211.5,93.5 213.5,92.0 215.5,90.4 217.5,88.8 219.5,87.3 221.5,85.7 223.5,84.2 225.5,82.7 227.5,81.2 229.5,79.7 231.5,78.1 233.5,76.5 235.5,74.9 237.5,73.4 239.5,71.9 241.5,70.5 243.5,69.2 245.5,68.0 247.5,66.8 249.5,65.7 251.5,64.6 253.5,63.6 255.5,62.7 257.5,61.8 259.5,61.1 261.5,60.5 263.5,59.9 265.5,59.5 267.5,59.0 269.5,58.6 271.5,58.3 273.5,58.0 275.5,57.8 277.5,57.5 279.5,57.3 281.5,57.1 283.5,57.0 285.5,56.8 287.5,56.6 289.5,56.5 291.5,56.3 293.5,56.2 295.5,56.0 297.5,55.9 299.5,55.8 301.5,55.7 303.5,55.6 305.5,55.6 307.5,55.5 308.5,55.5"/>
<path d="M57.5,244.7 59.5,239.2 61.5,232.9 63.5,227.1 65.5,222.2 67.5,217.8 69.5,213.9 71.5,210.3 73.5,207.0 75.5,203.9 77.5,201.1 79.5,198.4 81.5,196.0 83.5,193.7 85.5,191.5 87.5,189.3 89.5,187.1 91.5,185.0 93.5,182.8 95.5,180.6 97.5,178.6 99.5,176.6 101.5,174.7 103.5,172.9 105.5,171.1 107.5,169.4 109.5,167.6 111.5,165.9 113.5,164.2 115.5,162.6 117.5,161.0 119.5,159.5 121.5,158.1 123.5,156.7 125.5,155.3 127.5,154.0 129.5,152.6 131.5,151.3 133.5,149.9 135.5,148.4 137.5,147.0 139.5,145.5 141.5,143.9 143.5,142.4 145.5,140.9 147.5,139.4 149.5,137.9 151.5,136.4 153.5,135.0 155.5,133.6 157.5,132.2 159.5,130.8 161.5,129.4 163.5,128.1 165.5,126.7 167.5,125.4 169.5,124.2 171.5,123.0 173.5,121.9 175.5,120.7 177.5,119.6 179.5,118.4 181.5,117.3 183.5,116.1 185.5,114.9 187.5,113.7 189.5,112.5 191.5,111.3 193.5,110.2 195.5,109.0 197.5,107.9 199.5,106.9 201.5,105.8 203.5,104.6 205.5,103.5 207.5,102.3 209.5,101.1 211.5,99.8 213.5,98.5 215.5,97.1 217.5,95.7 219.5,94.2 221.5,92.7 223.5,91.0 225.5,89.3 227.5,87.6 229.5,85.8 231.5,83.9 233.5,82.0 235.5,80.1 237.5,78.3 239.5,76.5 241.5,74.7 243.5,73.1 245.5,71.6 247.5,70.1 249.5,68.7 251.5,67.4 253.5,66.1 255.5,64.9 257.5,63.8 259.5,62.9 261.5,62.1 263.5,61.5 265.5,61.0 267.5,60.5 269.5,60.2 271.5,59.8 273.5,59.6 275.5,59.3 277.5,59.0 279.5,58.8 281.5,58.6 283.5,58.4 285.5,58.3 287.5,58.1 289.5,57.9 291.5,57.8 293.5,57.6 295.5,57.5 297.5,57.4 299.5,57.3 301.5,57.1 303.5,57.0 305.5,56.9 307.5,56.9 308.5,56.8"/>
<path d="M57.5,242.4 59.5,236.9 61.5,230.4 63.5,224.6 65.5,219.5 67.5,215.0 69.5,210.9 71.5,207.2 73.5,203.7 75.5,200.5 77.5,197.5 79.5,194.7 81.5,192.1 83.5,189.7 85.5,187.3 87.5,185.0 89.5,182.6 91.5,180.3 93.5,177.9 95.5,175.7 97.5,173.4 99.5,171.3 101.5,169.3 103.5,167.3 105.5,165.4 107.5,163.5 109.5,161.6 111.5,159.7 113.5,157.9 115.5,156.1 117.5,154.4 119.5,152.7 121.5,151.1 123.5,149.5 125.5,148.1 127.5,146.6 129.5,145.1 131.5,143.6 133.5,142.1 135.5,140.5 137.5,138.9 139.5,137.3 141.5,135.6 143.5,134.0 145.5,132.3 147.5,130.6 149.5,129.0 151.5,127.3 153.5,125.7 155.5,124.2 157.5,122.6 159.5,121.0 161.5,119.5 163.5,118.0 165.5,116.5 167.5,115.1 169.5,113.7 171.5,112.4 173.5,111.2 175.5,110.0 177.5,108.8 179.5,107.5 181.5,106.3 183.5,105.1 185.5,103.8 187.5,102.6 189.5,101.3 191.5,100.1 193.5,98.8 195.5,97.6 197.5,96.4 199.5,95.2 201.5,93.9 203.5,92.6 205.5,91.3 207.5,90.1 209.5,88.8 211.5,87.4 213.5,86.1 215.5,84.8 217.5,83.4 219.5,82.0 221.5,80.5 223.5,78.9 225.5,77.3 227.5,75.5 229.5,73.7 231.5,71.7 233.5,69.7 235.5,67.7 237.5,65.7 239.5,63.7 241.5,61.8 243.5,60.0 245.5,58.3 247.5,56.7 249.5,55.3 251.5,54.0 253.5,52.8 255.5,51.7 257.5,50.8 259.5,50.1 261.5,49.4 263.5,48.9 265.5,48.5 267.5,48.2 269.5,47.9 271.5,47.6 273.5,47.4 275.5,47.2 277.5,47.0 279.5,46.8 281.5,46.6 283.5,46.4 285.5,46.2 287.5,46.0 289.5,45.9 291.5,45.7 293.5,45.6 295.5,45.4 297.5,45.3 299.5,45.2 301.5,45.1 303.5,45.0 305.5,45.0 307.5,44.9 308.5,44.9"/>
<path d="M57.5,244.1 59.5,238.4 61.5,231.8 63.5,225.9 65.5,220.7 67.5,216.2 69.5,212.2 71.5,208.5 73.5,205.2 75.5,202.1 77.5,199.2 79.5,196.6 81.5,194.2 83.5,191.9 85.5,189.7 87.5,187.6 89.5,185.4 91.5,183.2 93.5,181.0 95.5,178.9 97.5,176.8 99.5,174.9 101.5,173.0 103.5,171.3 105.5,169.5 107.5,167.7 109.5,165.9 111.5,164.2 113.5,162.5 115.5,160.8 117.5,159.2 119.5,157.6 121.5,156.0 123.5,154.5 125.5,153.1 127.5,151.7 129.5,150.2 131.5,148.8 133.5,147.4 135.5,145.9 137.5,144.4 139.5,142.9 141.5,141.4 143.5,139.8 145.5,138.3 147.5,136.8 149.5,135.2 151.5,133.7 153.5,132.2 155.5,130.6 157.5,129.1 159.5,127.6 161.5,126.1 163.5,124.7 165.5,123.2 167.5,121.9 169.5,120.6 171.5,119.4 173.5,118.2 175.5,117.1 177.5,116.0 179.5,114.8 181.5,113.6 183.5,112.4 185.5,111.2 187.5,110.0 189.5,108.9 191.5,107.7 193.5,106.5 195.5,105.3 197.5,104.2 199.5,103.0 201.5,101.7 203.5,100.5 205.5,99.2 207.5,98.0 209.5,96.7 211.5,95.3 213.5,94.0 215.5,92.6 217.5,91.1 219.5,89.7 221.5,88.1 223.5,86.6 225.5,85.0 227.5,83.3 229.5,81.5 231.5,79.7 233.5,77.8 235.5,76.0 237.5,74.1 239.5,72.3 241.5,70.6 243.5,69.0 245.5,67.5 247.5,66.1 249.5,64.9 251.5,63.7 253.5,62.7 255.5,61.8 257.5,61.1 259.5,60.5 261.5,60.0 263.5,59.5 265.5,59.2 267.5,58.9 269.5,58.6 271.5,58.4 273.5,58.3 275.5,58.1 277.5,57.9 279.5,57.8 281.5,57.6 283.5,57.5 285.5,57.3 287.5,57.2 289.5,57.1 291.5,56.9 293.5,56.8 295.5,56.7 297.5,56.6 299.5,56.5 301.5,56.5 303.5,56.4 305.5,56.4 307.5,56.3 308.5,56.3"/>
<path d="M57.5,244.6 59.5,239.1 61.5,232.7 63.5,227.0 65.5,222.0 67.5,217.6 69.5,213.7 71.5,210.1 73.5,206.7 75.5,203.6 77.5,200.8 79.5,198.1 81.5,195.6 83.5,193.2 85.5,190.9 87.5,188.7 89.5,186.4 91.5,184.2 93.5,181.9 95.5,179.7 97.5,177.5 99.5,175.5 101.5,173.6 103.5,171.7 105.5,169.9 107.5,168.1 109.5,166.2 111.5,164.4 113.5,162.7 115.5,161.0 117.5,159.3 119.5,157.8 121.5,156.2 123.5,154.8 125.5,153.4 127.5,152.0 129.5,150.6 131.5,149.3 133.5,147.9 135.5,146.5 137.5,145.1 139.5,143.6 141.5,142.1 143.5,140.6 145.5,139.1 147.5,137.5 149.5,136.0 151.5,134.4 153.5,132.9 155.5,131.4 157.5,129.8 159.5,128.3 161.5,126.8 163.5,125.3 165.5,123.9 167.5,122.5 169.5,121.2 171.5,119.9 173.5,118.7 175.5,117.5 177.5,116.3 179.5,115.1 181.5,113.9 183.5,112.7 185.5,111.5 187.5,110.3 189.5,109.1 191.5,107.9 193.5,106.7 195.5,105.6 197.5,104.5 199.5,103.3 201.5,102.2 203.5,101.1 205.5,99.9 207.5,98.8 209.5,97.7 211.5,96.6 213.5,95.6 215.5,94.5 217.5,93.3 219.5,92.2 221.5,90.9 223.5,89.6 225.5,88.1 227.5,86.5 229.5,84.8 231.5,83.1 233.5,81.2 235.5,79.4 237.5,77.5 239.5,75.6 241.5,73.8 243.5,72.0 245.5,70.3 247.5,68.6 249.5,67.1 251.5,65.6 253.5,64.2 255.5,62.9 257.5,61.7 259.5,60.6 261.5,59.7 263.5,58.9 265.5,58.2 267.5,57.6 269.5,57.0 271.5,56.5 273.5,56.1 275.5,55.7 277.5,55.4 279.5,55.1 281.5,54.8 283.5,54.5 285.5,54.3 287.5,54.1 289.5,53.9 291.5,53.6 293.5,53.4 295.5,53.2 297.5,53.0 299.5,52.9 301.5,52.7 303.5,52.6 305.5,52.5 307.5,52.4 308.5,52.3"/>
<path d="M57.5,245.6 59.5,240.0 61.5,233.6 63.5,227.8 65.5,222.8 67.5,218.4 69.5,214.4 71.5,210.8 73.5,207.5 75.5,204.4 77.5,201.6 79.5,199.0 81.5,196.6 83.5,194.3 85.5,192.2 87.5,190.1 89.5,188.0 91.5,185.9 93.5,183.9 95.5,181.8 97.5,179.9 99.5,178.0 101.5,176.1 103.5,174.3 105.5,172.6 107.5,170.8 109.5,169.1 111.5,167.5 113.5,165.9 115.5,164.4 117.5,163.0 119.5,161.6 121.5,160.3 123.5,159.0 125.5,157.7 127.5,156.4 129.5,155.0 131.5,153.6 133.5,152.1 135.5,150.6 137.5,149.0 139.5,147.4 141.5,145.8 143.5,144.2 145.5,142.6 147.5,141.2 149.5,139.8 151.5,138.4 153.5,137.2 155.5,135.9 157.5,134.7 159.5,133.5 161.5,132.3 163.5,131.2 165.5,130.0 167.5,128.9 169.5,127.7 171.5,126.6 173.5,125.6 175.5,124.5 177.5,123.5 179.5,122.4 181.5,121.2 183.5,120.1 185.5,118.9 187.5,117.6 189.5,116.4 191.5,115.2 193.5,114.0 195.5,113.0 197.5,112.0 199.5,110.9 201.5,109.9 203.5,108.7 205.5,107.5 207.5,106.1 209.5,104.6 211.5,102.9 213.5,101.1 215.5,99.2 217.5,97.2 219.5,95.1 221.5,93.1 223.5,91.1 225.5,89.1 227.5,87.1 229.5,85.2 231.5,83.3 233.5,81.5 235.5,79.8 237.5,78.1 239.5,76.6 241.5,75.2 243.5,74.0 245.5,72.9 247.5,71.8 249.5,70.8 251.5,69.8 253.5,68.8 255.5,67.8 257.5,66.9 259.5,66.2 261.5,65.7 263.5,65.2 265.5,65.0 267.5,64.8 269.5,64.6 271.5,64.5 273.5,64.4 275.5,64.3 277.5,64.1 279.5,64.0 281.5,63.9 283.5,63.8 285.5,63.7 287.5,63.6 289.5,63.5 291.5,63.5 293.5,63.4 295.5,63.4 297.5,63.3 299.5,63.2 301.5,63.2 303.5,63.1 305.5,63.0 307.5,63.0 308.5,63.0"/>
<path d="M57.5,247.3 59.5,241.7 61.5,235.3 63.5,229.6 65.5,224.7 67.5,220.3 69.5,216.4 71.5,212.9 73.5,209.6 75.5,206.6 77.5,203.8 79.5,201.2 81.5,198.8 83.5,196.6 85.5,194.5 87.5,192.5 89.5,190.4 91.5,188.4 93.5,186.4 95.5,184.4 97.5,182.5 99.5,180.6 101.5,178.8 103.5,177.0 105.5,175.3 107.5,173.5 109.5,171.8 111.5,170.1 113.5,168.5 115.5,167.0 117.5,165.6 119.5,164.3 121.5,163.1 123.5,161.8 125.5,160.6 127.5,159.3 129.5,158.0 131.5,156.6 133.5,155.1 135.5,153.6 137.5,152.0 139.5,150.4 141.5,148.8 143.5,147.2 145.5,145.6 147.5,144.1 149.5,142.6 151.5,141.1 153.5,139.6 155.5,138.2 157.5,136.8 159.5,135.3 161.5,133.9 163.5,132.5 165.5,131.2 167.5,129.8 169.5,128.5 171.5,127.3 173.5,126.1 175.5,125.0 177.5,123.9 179.5,122.7 181.5,121.5 183.5,120.3 185.5,119.1 187.5,117.8 189.5,116.5 191.5,115.2 193.5,113.9 195.5,112.7 197.5,111.5 199.5,110.4 201.5,109.2 203.5,108.1 205.5,106.9 207.5,105.7 209.5,104.4 211.5,103.1 213.5,101.7 215.5,100.2 217.5,98.7 219.5,97.2 221.5,95.7 223.5,94.1 225.5,92.5 227.5,90.9 229.5,89.3 231.5,87.6 233.5,85.9 235.5,84.2 237.5,82.6 239.5,81.0 241.5,79.4 243.5,77.8 245.5,76.4 247.5,74.9 249.5,73.5 251.5,72.1 253.5,70.8 255.5,69.4 257.5,68.2 259.5,67.2 261.5,66.3 263.5,65.5 265.5,65.0 267.5,64.5 269.5,64.1 271.5,63.7 273.5,63.4 275.5,63.2 277.5,63.0 279.5,62.8 281.5,62.6 283.5,62.5 285.5,62.4 287.5,62.3 289.5,62.2 291.5,62.1 293.5,62.0 295.5,61.9 297.5,61.8 299.5,61.7 301.5,61.6 303.5,61.5 305.5,61.3 307.5,61.2 308.5,61.1"/>
<path d="M57.5,247.0 59.5,241.3 61.5,234.8 63.5,229.0 65.5,224.1 67.5,219.7 69.5,215.8 71.5,212.2 73.5,208.8 75.5,205.7 77.5,202.9 79.5,200.2 81.5,197.7 83.5,195.4 85.5,193.2 87.5,191.0 89.5,188.9 91.5,186.8 93.5,184.7 95.5,182.6 97.5,180.6 99.5,178.6 101.5,176.8 103.5,174.9 105.5,173.1 107.5,171.3 109.5,169.5 111.5,167.8 113.5,166.2 115.5,164.7 117.5,163.2 119.5,161.8 121.5,160.5 123.5,159.2 125.5,157.9 127.5,156.6 129.5,155.2 131.5,153.8 133.5,152.4 135.5,150.9 137.5,149.3 139.5,147.7 141.5,146.1 143.5,144.5 145.5,143.0 147.5,141.4 149.5,139.9 151.5,138.5 153.5,137.1 155.5,135.7 157.5,134.3 159.5,132.9 161.5,131.5 163.5,130.2 165.5,128.8 167.5,127.5 169.5,126.3 171.5,125.1 173.5,123.9 175.5,122.8 177.5,121.7 179.5,120.6 181.5,119.4 183.5,118.2 185.5,116.9 187.5,115.7 189.5,114.4 191.5,113.1 193.5,111.9 195.5,110.7 197.5,109.7 199.5,108.6 201.5,107.5 203.5,106.4 205.5,105.2 207.5,103.9 209.5,102.5 211.5,101.1 213.5,99.6 215.5,98.1 217.5,96.5 219.5,94.9 221.5,93.3 223.5,91.7 225.5,90.2 227.5,88.6 229.5,87.0 231.5,85.3 233.5,83.7 235.5,82.1 237.5,80.5 239.5,79.0 241.5,77.6 243.5,76.2 245.5,74.9 247.5,73.6 249.5,72.3 251.5,71.0 253.5,69.7 255.5,68.4 257.5,67.2 259.5,66.1 261.5,65.2 263.5,64.5 265.5,63.8 267.5,63.3 269.5,62.8 271.5,62.4 273.5,62.0 275.5,61.7 277.5,61.4 279.5,61.1 281.5,60.9 283.5,60.7 285.5,60.6 287.5,60.4 289.5,60.3 291.5,60.1 293.5,59.9 295.5,59.8 297.5,59.7 299.5,59.5 301.5,59.4 303.5,59.3 305.5,59.1 307.5,59.0 308.5,58.9"/>
<path d="M57.5,245.7 59.5,240.3 61.5,234.0 63.5,228.2 65.5,223.2 67.5,218.9 69.5,215.0 71.5,211.5 73.5,208.3 75.5,205.4 77.5,202.7 79.5,200.3 81.5,198.0 83.5,195.8 85.5,193.8 87.5,191.9 89.5,189.8 91.5,187.7 93.5,185.6 95.5,183.5 97.5,181.6 99.5,179.7 101.5,178.1 103.5,176.4 105.5,174.8 107.5,173.2 109.5,171.5 111.5,169.8 113.5,168.2 115.5,166.6 117.5,165.1 119.5,163.6 121.5,162.1 123.5,160.7 125.5,159.4 127.5,158.1 129.5,156.8 131.5,155.5 133.5,154.3 135.5,153.0 137.5,151.7 139.5,150.4 141.5,149.0 143.5,147.7 145.5,146.3 147.5,144.9 149.5,143.6 151.5,142.2 153.5,140.8 155.5,139.5 157.5,138.1 159.5,136.8 161.5,135.5 163.5,134.2 165.5,133.0 167.5,131.7 169.5,130.6 171.5,129.4 173.5,128.3 175.5,127.2 177.5,126.0 179.5,124.9 181.5,123.7 183.5,122.5 185.5,121.4 187.5,120.2 189.5,119.1 191.5,118.0 193.5,116.9 195.5,115.9 197.5,114.8 199.5,113.7 201.5,112.7 203.5,111.6 205.5,110.6 207.5,109.5 209.5,108.5 211.5,107.4 213.5,106.3 215.5,105.0 217.5,103.7 219.5,102.3 221.5,100.7 223.5,99.1 225.5,97.3 227.5,95.5 229.5,93.6 231.5,91.7 233.5,89.8 235.5,87.8 237.5,86.0 239.5,84.2 241.5,82.5 243.5,80.9 245.5,79.4 247.5,78.0 249.5,76.6 251.5,75.3 253.5,74.1 255.5,72.9 257.5,71.9 259.5,71.0 261.5,70.3 263.5,69.7 265.5,69.2 267.5,68.8 269.5,68.4 271.5,68.1 273.5,67.9 275.5,67.6 277.5,67.4 279.5,67.2 281.5,67.0 283.5,66.9 285.5,66.7 287.5,66.6 289.5,66.4 291.5,66.3 293.5,66.2 295.5,66.1 297.5,65.9 299.5,65.8 301.5,65.8 303.5,65.7 305.5,65.6 307.5,65.5 308.5,65.5"/>
<path d="M57.5,244.3 59.5,238.9 61.5,232.5 63.5,226.9 65.5,222.0 67.5,217.7 69.5,213.7 71.5,210.1 73.5,206.8 75.5,203.7 77.5,200.8 79.5,198.1 81.5,195.6 83.5,193.2 85.5,190.9 87.5,188.7 89.5,186.5 91.5,184.4 93.5,182.2 95.5,180.1 97.5,178.1 99.5,176.1 101.5,174.1 103.5,172.2 105.5,170.3 107.5,168.5 109.5,166.7 111.5,164.9 113.5,163.2 115.5,161.6 117.5,160.1 119.5,158.7 121.5,157.3 123.5,156.0 125.5,154.7 127.5,153.3 129.5,151.9 131.5,150.5 133.5,149.0 135.5,147.5 137.5,145.9 139.5,144.2 141.5,142.5 143.5,140.8 145.5,139.2 147.5,137.5 149.5,135.9 151.5,134.3 153.5,132.8 155.5,131.2 157.5,129.7 159.5,128.2 161.5,126.7 163.5,125.2 165.5,123.8 167.5,122.4 169.5,121.0 171.5,119.7 173.5,118.5 175.5,117.4 177.5,116.2 179.5,115.1 181.5,113.9 183.5,112.7 185.5,111.5 187.5,110.2 189.5,108.9 191.5,107.6 193.5,106.4 195.5,105.1 197.5,103.9 199.5,102.7 201.5,101.6 203.5,100.4 205.5,99.2 207.5,97.9 209.5,96.7 211.5,95.4 213.5,94.1 215.5,92.8 217.5,91.4 219.5,90.1 221.5,88.7 223.5,87.2 225.5,85.7 227.5,84.0 229.5,82.3 231.5,80.5 233.5,78.6 235.5,76.7 237.5,74.8 239.5,72.8 241.5,70.9 243.5,69.1 245.5,67.3 247.5,65.6 249.5,64.0 251.5,62.5 253.5,61.1 255.5,59.8 257.5,58.6 259.5,57.6 261.5,56.7 263.5,56.1 265.5,55.5 267.5,55.0 269.5,54.6 271.5,54.3 273.5,54.0 275.5,53.8 277.5,53.6 279.5,53.4 281.5,53.2 283.5,53.0 285.5,52.9 287.5,52.8 289.5,52.6 291.5,52.5 293.5,52.4 295.5,52.3 297.5,52.1 299.5,52.0 301.5,51.9 303.5,51.7 305.5,51.6 307.5,51.5 308.5,51.4"/>
<path d="M57.5,248.2 59.5,242.5 61.5,236.0 63.5,230.1 65.5,225.1 67.5,220.7 69.5,216.8 71.5,213.3 73.5,210.0 75.5,207.1 77.5,204.4 79.5,201.9 81.5,199.6 83.5,197.4 85.5,195.4 87.5,193.4 89.5,191.4 91.5,189.4 93.5,187.3 95.5,185.2 97.5,183.3 99.5,181.5 101.5,179.8 103.5,178.1 105.5,176.5 107.5,174.8 109.5,173.2 111.5,171.5 113.5,169.9 115.5,168.3 117.5,166.8 119.5,165.4 121.5,164.0 123.5,162.6 125.5,161.3 127.5,159.9 129.5,158.6 131.5,157.3 133.5,156.0 135.5,154.7 137.5,153.3 139.5,152.0 141.5,150.6 143.5,149.2 145.5,147.8 147.5,146.4 149.5,145.0 151.5,143.7 153.5,142.3 155.5,140.9 157.5,139.5 159.5,138.2 161.5,136.8 163.5,135.5 165.5,134.2 167.5,133.0 169.5,131.8 171.5,130.6 173.5,129.5 175.5,128.3 177.5,127.2 179.5,126.0 181.5,124.8 183.5,123.5 185.5,122.3 187.5,121.1 189.5,119.9 191.5,118.7 193.5,117.6 195.5,116.5 197.5,115.4 199.5,114.3 201.5,113.2 203.5,112.1 205.5,111.0 207.5,109.9 209.5,108.8 211.5,107.6 213.5,106.3 215.5,105.0 217.5,103.6 219.5,102.1 221.5,100.5 223.5,98.9 225.5,97.3 227.5,95.7 229.5,94.0 231.5,92.3 233.5,90.6 235.5,89.0 237.5,87.5 239.5,86.0 241.5,84.6 243.5,83.3 245.5,82.1 247.5,80.8 249.5,79.6 251.5,78.4 253.5,77.1 255.5,75.9 257.5,74.8 259.5,73.9 261.5,73.0 263.5,72.3 265.5,71.7 267.5,71.1 269.5,70.6 271.5,70.2 273.5,69.9 275.5,69.6 277.5,69.3 279.5,69.1 281.5,68.8 283.5,68.7 285.5,68.5 287.5,68.4 289.5,68.2 291.5,68.1 293.5,67.9 295.5,67.8 297.5,67.7 299.5,67.6 301.5,67.4 303.5,67.3 305.5,67.2 307.5,67.1 308.5,67.1"/>
<path d="M57.5,246.6 59.5,241.1 61.5,234.6 63.5,228.8 65.5,223.7 67.5,219.3 69.5,215.4 71.5,211.8 73.5,208.6 75.5,205.6 77.5,202.9 79.5,200.4 81.5,198.1 83.5,196.0 85.5,194.0 87.5,192.0 89.5,190.1 91.5,188.1 93.5,186.1 95.5,184.1 97.5,182.3 99.5,180.5 101.5,178.8 103.5,177.1 105.5,175.5 107.5,173.8 109.5,172.1 111.5,170.5 113.5,169.0 115.5,167.5 117.5,166.1 119.5,164.7 121.5,163.4 123.5,162.1 125.5,160.8 127.5,159.5 129.5,158.1 131.5,156.8 133.5,155.3 135.5,153.9 137.5,152.4 139.5,150.8 141.5,149.2 143.5,147.7 145.5,146.2 147.5,144.7 149.5,143.3 151.5,142.0 153.5,140.7 155.5,139.4 157.5,138.1 159.5,136.9 161.5,135.6 163.5,134.4 165.5,133.2 167.5,132.0 169.5,130.9 171.5,129.8 173.5,128.7 175.5,127.6 177.5,126.5 179.5,125.3 181.5,124.2 183.5,123.0 185.5,121.8 187.5,120.5 189.5,119.3 191.5,118.1 193.5,116.9 195.5,115.7 197.5,114.7 199.5,113.6 201.5,112.4 203.5,111.3 205.5,110.0 207.5,108.8 209.5,107.4 211.5,105.9 213.5,104.2 215.5,102.5 217.5,100.6 219.5,98.7 221.5,96.8 223.5,94.8 225.5,92.9 227.5,90.9 229.5,89.0 231.5,87.1 233.5,85.3 235.5,83.6 237.5,81.9 239.5,80.3 241.5,78.9 243.5,77.6 245.5,76.4 247.5,75.3 249.5,74.3 251.5,73.2 253.5,72.2 255.5,71.2 257.5,70.4 259.5,69.7 261.5,69.1 263.5,68.7 265.5,68.5 267.5,68.3 269.5,68.2 271.5,68.1 273.5,68.1 275.5,68.0 277.5,67.9 279.5,67.8 281.5,67.8 283.5,67.7 285.5,67.7 287.5,67.7 289.5,67.6 291.5,67.6 293.5,67.6 295.5,67.5 297.5,67.5 299.5,67.5 301.5,67.4 303.5,67.4 305.5,67.3 307.5,67.3 308.5,67.2"/>
<path d="M57.5,246.9 59.5,241.4 61.5,235.1 63.5,229.5 65.5,224.7 67.5,220.4 69.5,216.5 71.5,213.0 73.5,209.8 75.5,206.8 77.5,204.0 79.5,201.4 81.5,199.0 83.5,196.8 85.5,194.6 87.5,192.5 89.5,190.4 91.5,188.3 93.5,186.3 95.5,184.3 97.5,182.3 99.5,180.4 101.5,178.6 103.5,176.8 105.5,175.1 107.5,173.4 109.5,171.7 111.5,170.1 113.5,168.6 115.5,167.1 117.5,165.7 119.5,164.4 121.5,163.2 123.5,162.0 125.5,160.8 127.5,159.5 129.5,158.3 131.5,157.0 133.5,155.7 135.5,154.3 137.5,152.9 139.5,151.4 141.5,150.0 143.5,148.5 145.5,147.1 147.5,145.8 149.5,144.4 151.5,143.2 153.5,142.0 155.5,140.8 157.5,139.6 159.5,138.4 161.5,137.2 163.5,136.1 165.5,134.9 167.5,133.8 169.5,132.7 171.5,131.7 173.5,130.6 175.5,129.6 177.5,128.6 179.5,127.5 181.5,126.4 183.5,125.3 185.5,124.2 187.5,123.0 189.5,121.8 191.5,120.7 193.5,119.7 195.5,118.7 197.5,117.8 199.5,116.9 201.5,116.0 203.5,115.1 205.5,114.0 207.5,112.8 209.5,111.5 211.5,110.1 213.5,108.6 215.5,107.0 217.5,105.3 219.5,103.6 221.5,101.9 223.5,100.2 225.5,98.4 227.5,96.7 229.5,94.9 231.5,93.2 233.5,91.6 235.5,89.9 237.5,88.4 239.5,86.9 241.5,85.5 243.5,84.2 245.5,83.0 247.5,81.8 249.5,80.6 251.5,79.3 253.5,78.0 255.5,76.7 257.5,75.4 259.5,74.3 261.5,73.3 263.5,72.5 265.5,71.8 267.5,71.3 269.5,70.8 271.5,70.3 273.5,69.9 275.5,69.5 277.5,69.2 279.5,68.9 281.5,68.6 283.5,68.4 285.5,68.2 287.5,68.1 289.5,67.9 291.5,67.7 293.5,67.5 295.5,67.3 297.5,67.2 299.5,67.0 301.5,66.9 303.5,66.7 305.5,66.6 307.5,66.5 308.5,66.4"/>
<path d="M57.5,247.5 59.5,241.7 61.5,234.9 63.5,228.8 65.5,223.6 67.5,219.1 69.5,215.0 71.5,211.4 73.5,208.1 75.5,205.1 77.5,202.3 79.5,199.7 81.5,197.3 83.5,195.1 85.5,193.1 87.5,191.1 89.5,189.1 91.5,187.1 93.5,185.0 95.5,183.0 97.5,181.1 99.5,179.3 101.5,177.6 103.5,175.8 105.5,174.1 107.5,172.4 109.5,170.6 111.5,168.9 113.5,167.2 115.5,165.6 117.5,164.1 119.5,162.7 121.5,161.2 123.5,159.9 125.5,158.5 127.5,157.0 129.5,155.6 131.5,154.1 133.5,152.5 135.5,150.9 137.5,149.3 139.5,147.6 141.5,146.0 143.5,144.3 145.5,142.7 147.5,141.0 149.5,139.5 151.5,137.9 153.5,136.3 155.5,134.7 157.5,133.1 159.5,131.5 161.5,129.9 163.5,128.4 165.5,126.9 167.5,125.5 169.5,124.1 171.5,122.8 173.5,121.5 175.5,120.3 177.5,119.1 179.5,117.9 181.5,116.6 183.5,115.3 185.5,114.0 187.5,112.6 189.5,111.3 191.5,109.9 193.5,108.5 195.5,107.1 197.5,105.8 199.5,104.5 201.5,103.1 203.5,101.8 205.5,100.4 207.5,99.1 209.5,97.7 211.5,96.3 213.5,94.8 215.5,93.3 217.5,91.7 219.5,90.1 221.5,88.5 223.5,87.0 225.5,85.4 227.5,83.8 229.5,82.2 231.5,80.6 233.5,78.9 235.5,77.3 237.5,75.7 239.5,74.2 241.5,72.7 243.5,71.3 245.5,69.9 247.5,68.7 249.5,67.5 251.5,66.3 253.5,65.3 255.5,64.3 257.5,63.5 259.5,62.8 261.5,62.3 263.5,61.9 265.5,61.5 267.5,61.3 269.5,61.1 271.5,60.9 273.5,60.8 275.5,60.7 277.5,60.6 279.5,60.6 281.5,60.5 283.5,60.5 285.5,60.5 287.5,60.5 289.5,60.4 291.5,60.4 293.5,60.4 295.5,60.4 297.5,60.3 299.5,60.3 301.5,60.2 303.5,60.1 305.5,60.1 307.5,60.0 308.5,60.0"/>
<path d="M57.5,246.4 59.5,240.5 61.5,233.7 63.5,227.8 65.5,222.7 67.5,218.1 69.5,214.1 71.5,210.4 73.5,207.0 75.5,203.9 77.5,201.0 79.5,198.3 81.5,195.9 83.5,193.6 85.5,191.4 87.5,189.3 89.5,187.2 91.5,185.1 93.5,183.0 95.5,181.0 97.5,179.0 99.5,177.0 101.5,175.2 103.5,173.3 105.5,171.5 107.5,169.7 109.5,168.0 111.5,166.3 113.5,164.7 115.5,163.2 117.5,161.7 119.5,160.3 121.5,158.9 123.5,157.6 125.5,156.2 127.5,154.9 129.5,153.4 131.5,151.9 133.5,150.4 135.5,148.8 137.5,147.2 139.5,145.6 141.5,143.9 143.5,142.3 145.5,140.7 147.5,139.1 149.5,137.6 151.5,136.1 153.5,134.7 155.5,133.3 157.5,131.8 159.5,130.4 161.5,129.0 163.5,127.6 165.5,126.2 167.5,124.9 169.5,123.6 171.5,122.5 173.5,121.3 175.5,120.3 177.5,119.2 179.5,118.2 181.5,117.0 183.5,115.9 185.5,114.6 187.5,113.4 189.5,112.1 191.5,110.8 193.5,109.6 195.5,108.5 197.5,107.3 199.5,106.2 201.5,105.0 203.5,103.8 205.5,102.4 207.5,101.0 209.5,99.4 211.5,97.7 213.5,96.0 215.5,94.2 217.5,92.4 219.5,90.6 221.5,88.9 223.5,87.2 225.5,85.7 227.5,84.1 229.5,82.6 231.5,81.0 233.5,79.5 235.5,78.0 237.5,76.5 239.5,75.2 241.5,73.9 243.5,72.6 245.5,71.5 247.5,70.4 249.5,69.4 251.5,68.4 253.5,67.4 255.5,66.5 257.5,65.7 259.5,65.0 261.5,64.4 263.5,63.9 265.5,63.5 267.5,63.2 269.5,62.9 271.5,62.6 273.5,62.4 275.5,62.2 277.5,62.0 279.5,61.9 281.5,61.7 283.5,61.6 285.5,61.5 287.5,61.4 289.5,61.3 291.5,61.1 293.5,61.0 295.5,60.9 297.5,60.8 299.5,60.8 301.5,60.7 303.5,60.6 305.5,60.5 307.5,60.4 308.5,60.4"/>
<path d="M57.5,247.5 59.5,241.6 61.5,235.0 63.5,229.1 65.5,224.1 67.5,219.7 69.5,215.7 71.5,212.1 73.5,208.8 75.5,205.7 77.5,202.8 79.5,200.1 81.5,197.7 83.5,195.4 85.5,193.1 87.5,191.0 89.5,188.8 91.5,186.7 93.5,184.5 95.5,182.4 97.5,180.4 99.5,178.4 101.5,176.5 103.5,174.7 105.5,172.9 107.5,171.1 109.5,169.4 111.5,167.7 113.5,166.0 115.5,164.4 117.5,162.9 119.5,161.4 121.5,160.0 123.5,158.7 125.5,157.3 127.5,156.0 129.5,154.6 131.5,153.2 133.5,151.8 135.5,150.4 137.5,148.9 139.5,147.4 141.5,145.9 143.5,144.4 145.5,142.9 147.5,141.4 149.5,139.9 151.5,138.4 153.5,136.9 155.5,135.4 157.5,133.9 159.5,132.4 161.5,130.9 163.5,129.5 165.5,128.0 167.5,126.7 169.5,125.4 171.5,124.1 173.5,123.0 175.5,121.9 177.5,120.7 179.5,119.6 181.5,118.5 183.5,117.2 185.5,116.0 187.5,114.8 189.5,113.5 191.5,112.3 193.5,111.1 195.5,110.0 197.5,108.9 199.5,107.8 201.5,106.7 203.5,105.5 205.5,104.4 207.5,103.1 209.5,101.9 211.5,100.6 213.5,99.2 215.5,97.9 217.5,96.6 219.5,95.3 221.5,93.9 223.5,92.6 225.5,91.3 227.5,90.0 229.5,88.6 231.5,87.1 233.5,85.6 235.5,84.1 237.5,82.7 239.5,81.2 241.5,79.8 243.5,78.4 245.5,77.1 247.5,75.7 249.5,74.4 251.5,73.1 253.5,71.8 255.5,70.5 257.5,69.4 259.5,68.3 261.5,67.3 263.5,66.5 265.5,65.7 267.5,64.9 269.5,64.3 271.5,63.7 273.5,63.2 275.5,62.8 277.5,62.4 279.5,62.1 281.5,61.8 283.5,61.6 285.5,61.4 287.5,61.2 289.5,60.9 291.5,60.7 293.5,60.5 295.5,60.3 297.5,60.1 299.5,60.0 301.5,59.8 303.5,59.6 305.5,59.5 307.5,59.4 308.5,59.3"/>
<path d="M57.5,249.7 59.5,244.0 61.5,237.6 63.5,232.1 65.5,227.4 67.5,223.2 69.5,219.5 71.5,216.0 73.5,212.8 75.5,209.9 77.5,207.1 79.5,204.5 81.5,202.1 83.5,199.8 85.5,197.6 87.5,195.5 89.5,193.4 91.5,191.3 93.5,189.1 95.5,187.1 97.5,185.1 99.5,183.2 101.5,181.4 103.5,179.6 105.5,177.9 107.5,176.2 109.5,174.5 111.5,172.9 113.5,171.3 115.5,169.8 117.5,168.4 119.5,167.1 121.5,165.9 123.5,164.7 125.5,163.6 127.5,162.4 129.5,161.3 131.5,160.1 133.5,158.9 135.5,157.7 137.5,156.5 139.5,155.3 141.5,154.0 143.5,152.8 145.5,151.5 147.5,150.2 149.5,148.8 151.5,147.5 153.5,146.1 155.5,144.7 157.5,143.3 159.5,141.9 161.5,140.5 163.5,139.1 165.5,137.7 167.5,136.5 169.5,135.2 171.5,134.1 173.5,133.0 175.5,132.0 177.5,130.9 179.5,129.9 181.5,128.8 183.5,127.7 185.5,126.6 187.5,125.4 189.5,124.3 191.5,123.3 193.5,122.2 195.5,121.3 197.5,120.4 199.5,119.6 201.5,118.7 203.5,117.9 205.5,117.0 207.5,116.1 209.5,115.1 211.5,114.2 213.5,113.2 215.5,112.3 217.5,111.4 219.5,110.6 221.5,109.7 223.5,108.7 225.5,107.7 227.5,106.7 229.5,105.5 231.5,104.3 233.5,103.0 235.5,101.7 237.5,100.4 239.5,99.1 241.5,97.7 243.5,96.2 245.5,94.7 247.5,93.2 249.5,91.5 251.5,89.8 253.5,88.0 255.5,86.2 257.5,84.4 259.5,82.7 261.5,81.2 263.5,79.7 265.5,78.3 267.5,77.0 269.5,75.8 271.5,74.8 273.5,73.9 275.5,73.1 277.5,72.4 279.5,71.9 281.5,71.4 283.5,71.0 285.5,70.6 287.5,70.3 289.5,69.9 291.5,69.4 293.5,69.1 295.5,68.7 297.5,68.4 299.5,68.1 301.5,67.9 303.5,67.6 305.5,67.3 307.5,67.0 308.5,67.0"/>
<path d="M57.5,246.9 59.5,240.8 61.5,233.8 63.5,227.7 65.5,222.5 67.5,217.9 69.5,213.8 71.5,210.1 73.5,206.7 75.5,203.5 77.5,200.6 79.5,197.9 81.5,195.4 83.5,193.1 85.5,191.0 87.5,188.9 89.5,186.8 91.5,184.7 93.5,182.7 95.5,180.7 97.5,178.7 99.5,176.8 101.5,175.0 103.5,173.1 105.5,171.3 107.5,169.5 109.5,167.7 111.5,166.0 113.5,164.4 115.5,162.8 117.5,161.3 119.5,159.9 121.5,158.5 123.5,157.1 125.5,155.7 127.5,154.3 129.5,152.8 131.5,151.2 133.5,149.6 135.5,147.9 137.5,146.2 139.5,144.4 141.5,142.6 143.5,140.9 145.5,139.2 147.5,137.5 149.5,135.9 151.5,134.3 153.5,132.7 155.5,131.1 157.5,129.5 159.5,128.0 161.5,126.4 163.5,124.8 165.5,123.3 167.5,121.8 169.5,120.5 171.5,119.2 173.5,118.0 175.5,116.9 177.5,115.8 179.5,114.7 181.5,113.5 183.5,112.3 185.5,111.0 187.5,109.6 189.5,108.3 191.5,106.9 193.5,105.5 195.5,104.2 197.5,103.0 199.5,101.7 201.5,100.3 203.5,98.9 205.5,97.5 207.5,95.9 209.5,94.3 211.5,92.6 213.5,90.8 215.5,89.0 217.5,87.2 219.5,85.5 221.5,83.8 223.5,82.3 225.5,80.9 227.5,79.5 229.5,78.0 231.5,76.5 233.5,75.0 235.5,73.6 237.5,72.2 239.5,70.8 241.5,69.5 243.5,68.3 245.5,67.1 247.5,66.0 249.5,64.9 251.5,64.0 253.5,63.1 255.5,62.3 257.5,61.6 259.5,61.0 261.5,60.5 263.5,60.2 265.5,59.8 267.5,59.6 269.5,59.3 271.5,59.2 273.5,59.0 275.5,58.9 277.5,58.8 279.5,58.7 281.5,58.7 283.5,58.6 285.5,58.6 287.5,58.5 289.5,58.4 291.5,58.4 293.5,58.3 295.5,58.3 297.5,58.2 299.5,58.2 301.5,58.1 303.5,58.0 305.5,58.0 307.5,57.9 308.5,57.9"/>
<path d="M57.5,249.5 59.5,244.0 61.5,237.6 63.5,231.9 65.5,227.1 67.5,222.9 69.5,219.1 71.5,215.6 73.5,212.5 75.5,209.6 77.5,206.9 79.5,204.5 81.5,202.2 83.5,200.1 85.5,198.1 87.5,196.1 89.5,194.1 91.5,192.0 93.5,190.0 95.5,187.9 97.5,186.0 99.5,184.2 101.5,182.5 103.5,180.9 105.5,179.3 107.5,177.7 109.5,176.1 111.5,174.5 113.5,172.9 115.5,171.4 117.5,170.0 119.5,168.7 121.5,167.4 123.5,166.1 125.5,164.9 127.5,163.7 129.5,162.5 131.5,161.3 133.5,160.2 135.5,159.0 137.5,157.8 139.5,156.6 141.5,155.3 143.5,154.1 145.5,152.8 147.5,151.6 149.5,150.3 151.5,149.0 153.5,147.7 155.5,146.4 157.5,145.1 159.5,143.9 161.5,142.6 163.5,141.4 165.5,140.1 167.5,139.0 169.5,137.8 171.5,136.7 173.5,135.6 175.5,134.5 177.5,133.4 179.5,132.3 181.5,131.1 183.5,130.0 185.5,128.8 187.5,127.7 189.5,126.5 191.5,125.5 193.5,124.4 195.5,123.5 197.5,122.5 199.5,121.6 201.5,120.7 203.5,119.8 205.5,118.9 207.5,117.9 209.5,117.0 211.5,116.0 213.5,114.9 215.5,113.8 217.5,112.6 219.5,111.3 221.5,110.0 223.5,108.6 225.5,107.2 227.5,105.7 229.5,104.2 231.5,102.6 233.5,101.1 235.5,99.6 237.5,98.2 239.5,96.8 241.5,95.5 243.5,94.1 245.5,92.8 247.5,91.5 249.5,90.1 251.5,88.6 253.5,87.1 255.5,85.6 257.5,84.1 259.5,82.8 261.5,81.6 263.5,80.5 265.5,79.5 267.5,78.6 269.5,77.8 271.5,77.1 273.5,76.5 275.5,75.9 277.5,75.5 279.5,75.1 281.5,74.7 283.5,74.4 285.5,74.2 287.5,74.0 289.5,73.7 291.5,73.4 293.5,73.2 295.5,72.9 297.5,72.7 299.5,72.6 301.5,72.4 303.5,72.2 305.5,72.0 307.5,71.8 308.5,71.8"/>
<path d="M57.5,249.6 59.5,244.1 61.5,237.7 63.5,232.0 65.5,227.1 67.5,222.9 69.5,219.1 71.5,215.7 73.5,212.6 75.5,209.8 77.5,207.2 79.5,204.8 81.5,202.6 83.5,200.5 85.5,198.6 87.5,196.7 89.5,194.7 91.5,192.7 93.5,190.7 95.5,188.7 97.5,186.8 99.5,185.0 101.5,183.5 103.5,181.9 105.5,180.4 107.5,178.8 109.5,177.2 111.5,175.6 113.5,174.1 115.5,172.6 117.5,171.1 119.5,169.8 121.5,168.5 123.5,167.2 125.5,166.0 127.5,164.7 129.5,163.6 131.5,162.4 133.5,161.3 135.5,160.1 137.5,159.0 139.5,157.8 141.5,156.6 143.5,155.4 145.5,154.2 147.5,152.9 149.5,151.7 151.5,150.4 153.5,149.1 155.5,147.8 157.5,146.5 159.5,145.2 161.5,144.0 163.5,142.7 165.5,141.5 167.5,140.3 169.5,139.2 171.5,138.1 173.5,137.0 175.5,135.9 177.5,134.8 179.5,133.6 181.5,132.4 183.5,131.3 185.5,130.1 187.5,129.0 189.5,127.9 191.5,126.8 193.5,125.8 195.5,124.8 197.5,123.8 199.5,122.9 201.5,122.0 203.5,121.0 205.5,120.1 207.5,119.2 209.5,118.3 211.5,117.3 213.5,116.3 215.5,115.3 217.5,114.1 219.5,112.9 221.5,111.5 223.5,110.1 225.5,108.6 227.5,107.1 229.5,105.5 231.5,103.9 233.5,102.3 235.5,100.8 237.5,99.3 239.5,97.9 241.5,96.5 243.5,95.2 245.5,93.9 247.5,92.5 249.5,91.1 251.5,89.7 253.5,88.2 255.5,86.8 257.5,85.4 259.5,84.1 261.5,83.0 263.5,82.0 265.5,81.1 267.5,80.2 269.5,79.5 271.5,78.9 273.5,78.3 275.5,77.9 277.5,77.4 279.5,77.1 281.5,76.8 283.5,76.5 285.5,76.3 287.5,76.1 289.5,75.9 291.5,75.6 293.5,75.4 295.5,75.2 297.5,75.0 299.5,74.9 301.5,74.7 303.5,74.5 305.5,74.4 307.5,74.2 308.5,74.1"/>
<path d="M57.5,248.4 59.5,242.9 61.5,236.6 63.5,231.1 65.5,226.4 67.5,222.2 69.5,218.4 71.5,214.9 73.5,211.8 75.5,208.8 77.5,206.1 79.5,203.5 81.5,201.2 83.5,199.0 85.5,196.9 87.5,194.8 89.5,192.8 91.5,190.7 93.5,188.7 95.5,186.7 97.5,184.7 99.5,182.9 101.5,181.1 103.5,179.4 105.5,177.7 107.5,176.0 109.5,174.4 111.5,172.9 113.5,171.4 115.5,169.9 117.5,168.6 119.5,167.3 121.5,166.1 123.5,165.0 125.5,163.8 127.5,162.7 129.5,161.5 131.5,160.3 133.5,159.1 135.5,157.8 137.5,156.5 139.5,155.2 141.5,153.9 143.5,152.5 145.5,151.2 147.5,150.0 149.5,148.7 151.5,147.5 153.5,146.3 155.5,145.1 157.5,143.9 159.5,142.8 161.5,141.6 163.5,140.5 165.5,139.4 167.5,138.3 169.5,137.2 171.5,136.2 173.5,135.2 175.5,134.1 177.5,133.1 179.5,132.1 181.5,131.0 183.5,129.9 185.5,128.8 187.5,127.7 189.5,126.6 191.5,125.5 193.5,124.5 195.5,123.6 197.5,122.8 199.5,122.0 201.5,121.2 203.5,120.3 205.5,119.3 207.5,118.3 209.5,117.1 211.5,115.9 213.5,114.5 215.5,113.1 217.5,111.7 219.5,110.2 221.5,108.7 223.5,107.1 225.5,105.5 227.5,104.0 229.5,102.4 231.5,100.8 233.5,99.3 235.5,97.8 237.5,96.3 239.5,94.9 241.5,93.6 243.5,92.4 245.5,91.1 247.5,89.8 249.5,88.5 251.5,87.1 253.5,85.6 255.5,84.1 257.5,82.6 259.5,81.2 261.5,80.0 263.5,79.0 265.5,78.0 267.5,77.2 269.5,76.5 271.5,75.8 273.5,75.2 275.5,74.7 277.5,74.2 279.5,73.8 281.5,73.5 283.5,73.2 285.5,73.0 287.5,72.7 289.5,72.5 291.5,72.2 293.5,72.0 295.5,71.7 297.5,71.5 299.5,71.3 301.5,71.1 303.5,71.0 305.5,70.8 307.5,70.6 308.5,70.5"/>
<path d="M57.5,247.0 59.5,241.7 61.5,235.5 63.5,229.7 65.5,224.8 67.5,220.5 69.5,216.6 71.5,213.2 73.5,210.1 75.5,207.3 77.5,204.7 79.5,202.4 81.5,200.3 83.5,198.3 85.5,196.5 87.5,194.7 89.5,192.8 91.5,190.9 93.5,188.9 95.5,187.0 97.5,185.2 99.5,183.5 101.5,182.0 103.5,180.5 105.5,179.0 107.5,177.4 109.5,175.9 111.5,174.3 113.5,172.8 115.5,171.4 117.5,170.0 119.5,168.6 121.5,167.3 123.5,166.0 125.5,164.8 127.5,163.5 129.5,162.3 131.5,161.1 133.5,159.8 135.5,158.5 137.5,157.2 139.5,155.9 141.5,154.5 143.5,153.2 145.5,151.8 147.5,150.6 149.5,149.3 151.5,148.1 153.5,146.9 155.5,145.7 157.5,144.6 159.5,143.5 161.5,142.4 163.5,141.3 165.5,140.3 167.5,139.2 169.5,138.2 171.5,137.1 173.5,136.1 175.5,135.0 177.5,133.9 179.5,132.7 181.5,131.6 183.5,130.4 185.5,129.2 187.5,128.1 189.5,127.0 191.5,125.9 193.5,124.8 195.5,123.7 197.5,122.7 199.5,121.7 201.5,120.7 203.5,119.7 205.5,118.6 207.5,117.5 209.5,116.4 211.5,115.1 213.5,113.7 215.5,112.2 217.5,110.4 219.5,108.6 221.5,106.6 223.5,104.5 225.5,102.4 227.5,100.3 229.5,98.2 231.5,96.2 233.5,94.2 235.5,92.3 237.5,90.5 239.5,88.9 241.5,87.4 243.5,86.1 245.5,84.9 247.5,83.7 249.5,82.6 251.5,81.5 253.5,80.4 255.5,79.4 257.5,78.4 259.5,77.7 261.5,77.1 263.5,76.7 265.5,76.4 267.5,76.3 269.5,76.2 271.5,76.1 273.5,76.0 275.5,75.9 277.5,75.8 279.5,75.7 281.5,75.7 283.5,75.6 285.5,75.6 287.5,75.6 289.5,75.5 291.5,75.5 293.5,75.5 295.5,75.4 297.5,75.4 299.5,75.4 301.5,75.3 303.5,75.3 305.5,75.2 307.5,75.2 308.5,75.2"/>
<path d="M57.5,249.3 59.5,243.8 61.5,237.4 63.5,231.7 65.5,226.8 67.5,222.5 69.5,218.8 71.5,215.4 73.5,212.3 75.5,209.5 77.5,206.9 79.5,204.5 81.5,202.4 83.5,200.4 85.5,198.5 87.5,196.7 89.5,194.8 91.5,192.8 93.5,190.7 95.5,188.7 97.5,186.9 99.5,185.2 101.5,183.7 103.5,182.2 105.5,180.7 107.5,179.1 109.5,177.5 111.5,176.0 113.5,174.4 115.5,172.9 117.5,171.5 119.5,170.1 121.5,168.8 123.5,167.5 125.5,166.2 127.5,165.0 129.5,163.8 131.5,162.6 133.5,161.5 135.5,160.3 137.5,159.2 139.5,158.0 141.5,156.8 143.5,155.6 145.5,154.4 147.5,153.1 149.5,151.9 151.5,150.6 153.5,149.3 155.5,148.0 157.5,146.7 159.5,145.5 161.5,144.2 163.5,143.0 165.5,141.8 167.5,140.7 169.5,139.5 171.5,138.4 173.5,137.3 175.5,136.2 177.5,135.1 179.5,133.9 181.5,132.7 183.5,131.5 185.5,130.4 187.5,129.2 189.5,128.1 191.5,127.0 193.5,126.0 195.5,125.0 197.5,124.0 199.5,123.0 201.5,122.0 203.5,121.1 205.5,120.2 207.5,119.2 209.5,118.3 211.5,117.4 213.5,116.4 215.5,115.2 217.5,114.0 219.5,112.7 221.5,111.3 223.5,109.7 225.5,108.1 227.5,106.5 229.5,104.8 231.5,103.1 233.5,101.4 235.5,99.8 237.5,98.3 239.5,96.8 241.5,95.4 243.5,94.0 245.5,92.7 247.5,91.4 249.5,90.1 251.5,88.7 253.5,87.3 255.5,86.0 257.5,84.7 259.5,83.6 261.5,82.5 263.5,81.7 265.5,80.9 267.5,80.2 269.5,79.6 271.5,79.1 273.5,78.6 275.5,78.3 277.5,77.9 279.5,77.6 281.5,77.4 283.5,77.2 285.5,77.0 287.5,76.9 289.5,76.7 291.5,76.5 293.5,76.3 295.5,76.1 297.5,76.0 299.5,75.9 301.5,75.7 303.5,75.6 305.5,75.4 307.5,75.3 308.5,75.3"/>
<path d="M57.5,246.0 59.5,240.7 61.5,234.4 63.5,228.7 65.5,223.8 67.5,219.5 69.5,215.6 71.5,212.0 73.5,208.8 75.5,205.8 77.5,203.0 79.5,200.5 81.5,198.2 83.5,196.1 85.5,194.1 87.5,192.1 89.5,190.1 91.5,188.0 93.5,186.0 95.5,184.0 97.5,182.1 99.5,180.2 101.5,178.5 103.5,176.8 105.5,175.1 107.5,173.4 109.5,171.8 111.5,170.2 113.5,168.6 115.5,167.1 117.5,165.7 119.5,164.4 121.5,163.1 123.5,161.8 125.5,160.5 127.5,159.2 129.5,157.9 131.5,156.6 133.5,155.2 135.5,153.7 137.5,152.2 139.5,150.7 141.5,149.2 143.5,147.6 145.5,146.2 147.5,144.8 149.5,143.4 151.5,142.2 153.5,141.0 155.5,139.9 157.5,138.7 159.5,137.6 161.5,136.6 163.5,135.5 165.5,134.4 167.5,133.3 169.5,132.3 171.5,131.2 173.5,130.1 175.5,129.0 177.5,127.9 179.5,126.8 181.5,125.6 183.5,124.4 185.5,123.2 187.5,122.0 189.5,120.8 191.5,119.6 193.5,118.5 195.5,117.4 197.5,116.4 199.5,115.4 201.5,114.4 203.5,113.3 205.5,112.2 207.5,110.9 209.5,109.5 211.5,108.1 213.5,106.4 215.5,104.6 217.5,102.6 219.5,100.6 221.5,98.4 223.5,96.2 225.5,94.1 227.5,91.9 229.5,89.8 231.5,87.7 233.5,85.8 235.5,83.9 237.5,82.1 239.5,80.5 241.5,79.1 243.5,77.8 245.5,76.6 247.5,75.5 249.5,74.5 251.5,73.4 253.5,72.3 255.5,71.2 257.5,70.2 259.5,69.4 261.5,68.8 263.5,68.4 265.5,68.1 267.5,68.0 269.5,67.9 271.5,67.9 273.5,67.8 275.5,67.7 277.5,67.5 279.5,67.4 281.5,67.3 283.5,67.3 285.5,67.2 287.5,67.2 289.5,67.1 291.5,67.1 293.5,67.0 295.5,67.0 297.5,67.0 299.5,66.9 301.5,66.9 303.5,66.8 305.5,66.8 307.5,66.7 308.5,66.7"/>
<path d="M57.5,250.3 59.5,244.6 61.5,238.3 63.5,232.7 65.5,228.0 67.5,223.8 69.5,220.1 71.5,216.7 73.5,213.6 75.5,210.7 77.5,208.0 79.5,205.5 81.5,203.1 83.5,201.0 85.5,198.9 87.5,196.8 89.5,194.8 91.5,192.7 93.5,190.6 95.5,188.6 97.5,186.6 99.5,184.8 101.5,183.1 103.5,181.4 105.5,179.8 107.5,178.2 109.5,176.6 111.5,175.0 113.5,173.4 115.5,172.0 117.5,170.6 119.5,169.3 121.5,168.1 123.5,166.9 125.5,165.8 127.5,164.6 129.5,163.5 131.5,162.4 133.5,161.2 135.5,160.1 137.5,159.0 139.5,157.8 141.5,156.6 143.5,155.4 145.5,154.2 147.5,153.0 149.5,151.8 151.5,150.5 153.5,149.2 155.5,147.9 157.5,146.6 159.5,145.4 161.5,144.1 163.5,142.8 165.5,141.6 167.5,140.4 169.5,139.3 171.5,138.2 173.5,137.2 175.5,136.1 177.5,135.1 179.5,134.0 181.5,132.9 183.5,131.8 185.5,130.7 187.5,129.6 189.5,128.5 191.5,127.5 193.5,126.5 195.5,125.6 197.5,124.8 199.5,124.0 201.5,123.2 203.5,122.4 205.5,121.5 207.5,120.6 209.5,119.7 211.5,118.7 213.5,117.7 215.5,116.7 217.5,115.7 219.5,114.6 221.5,113.5 223.5,112.4 225.5,111.2 227.5,109.9 229.5,108.6 231.5,107.3 233.5,106.0 235.5,104.6 237.5,103.3 239.5,102.0 241.5,100.8 243.5,99.5 245.5,98.2 247.5,96.7 249.5,95.2 251.5,93.7 253.5,92.0 255.5,90.2 257.5,88.5 259.5,86.9 261.5,85.4 263.5,84.1 265.5,82.8 267.5,81.6 269.5,80.5 271.5,79.5 273.5,78.7 275.5,78.0 277.5,77.4 279.5,76.8 281.5,76.4 283.5,76.0 285.5,75.7 287.5,75.4 289.5,75.0 291.5,74.6 293.5,74.3 295.5,74.0 297.5,73.7 299.5,73.4 301.5,73.2 303.5,72.9 305.5,72.7 307.5,72.5 308.5,72.4"/>
<path d="M57.5,248.6 59.5,243.2 61.5,236.8 63.5,231.0 65.5,226.0 67.5,221.7 69.5,217.9 71.5,214.5 73.5,211.4 75.5,208.5 77.5,206.0 79.5,203.6 81.5,201.5 83.5,199.5 85.5,197.7 87.5,195.9 89.5,194.0 91.5,192.0 93.5,190.0 95.5,188.0 97.5,186.1 99.5,184.5 101.5,182.9 103.5,181.5 105.5,180.0 107.5,178.4 109.5,176.8 111.5,175.2 113.5,173.7 115.5,172.2 117.5,170.7 119.5,169.3 121.5,167.9 123.5,166.6 125.5,165.3 127.5,164.0 129.5,162.8 131.5,161.6 133.5,160.4 135.5,159.2 137.5,157.9 139.5,156.7 141.5,155.4 143.5,154.2 145.5,152.9 147.5,151.6 149.5,150.4 151.5,149.1 153.5,147.8 155.5,146.5 157.5,145.2 159.5,144.0 161.5,142.8 163.5,141.6 165.5,140.4 167.5,139.2 169.5,138.1 171.5,137.0 173.5,135.9 175.5,134.7 177.5,133.5 179.5,132.3 181.5,131.1 183.5,129.9 185.5,128.7 187.5,127.6 189.5,126.4 191.5,125.3 193.5,124.2 195.5,123.1 197.5,122.1 199.5,121.1 201.5,120.0 203.5,119.0 205.5,118.0 207.5,117.0 209.5,116.1 211.5,115.0 213.5,113.9 215.5,112.7 217.5,111.3 219.5,109.8 221.5,108.2 223.5,106.5 225.5,104.7 227.5,102.8 229.5,101.0 231.5,99.1 233.5,97.3 235.5,95.6 237.5,93.9 239.5,92.4 241.5,90.9 243.5,89.6 245.5,88.3 247.5,87.1 249.5,85.8 251.5,84.5 253.5,83.3 255.5,82.1 257.5,81.0 259.5,80.0 261.5,79.2 263.5,78.5 265.5,77.9 267.5,77.5 269.5,77.1 271.5,76.8 273.5,76.5 275.5,76.2 277.5,76.0 279.5,75.8 281.5,75.6 283.5,75.5 285.5,75.4 287.5,75.3 289.5,75.2 291.5,75.1 293.5,75.0 295.5,74.9 297.5,74.8 299.5,74.7 301.5,74.6 303.5,74.5 305.5,74.4 307.5,74.3 308.5,74.3"/>
<path d="M57.5,248.1 59.5,242.8 61.5,236.4 63.5,230.6 65.5,225.5 67.5,221.2 69.5,217.3 71.5,214.0 73.5,210.9 75.5,208.2 77.5,205.8 79.5,203.6 81.5,201.6 83.5,199.7 85.5,198.1 87.5,196.4 89.5,194.7 91.5,192.7 93.5,190.8 95.5,188.9 97.5,187.1 99.5,185.6 101.5,184.2 103.5,182.9 105.5,181.5 107.5,180.0 109.5,178.5 111.5,177.0 113.5,175.5 115.5,173.9 117.5,172.4 119.5,171.0 121.5,169.6 123.5,168.3 125.5,166.9 127.5,165.6 129.5,164.4 131.5,163.2 133.5,162.1 135.5,160.9 137.5,159.7 139.5,158.5 141.5,157.3 143.5,156.0 145.5,154.8 147.5,153.6 149.5,152.3 151.5,151.1 153.5,149.8 155.5,148.6 157.5,147.3 159.5,146.1 161.5,145.0 163.5,143.8 165.5,142.7 167.5,141.6 169.5,140.5 171.5,139.4 173.5,138.3 175.5,137.1 177.5,135.9 179.5,134.7 181.5,133.5 183.5,132.2 185.5,131.1 187.5,129.9 189.5,128.8 191.5,127.7 193.5,126.6 195.5,125.5 197.5,124.4 199.5,123.3 201.5,122.2 203.5,121.1 205.5,120.1 207.5,119.2 209.5,118.2 211.5,117.2 213.5,116.1 215.5,114.8 217.5,113.3 219.5,111.7 221.5,109.9 223.5,107.9 225.5,105.9 227.5,103.8 229.5,101.7 231.5,99.7 233.5,97.7 235.5,95.7 237.5,93.9 239.5,92.3 241.5,90.7 243.5,89.4 245.5,88.1 247.5,86.9 249.5,85.7 251.5,84.6 253.5,83.5 255.5,82.6 257.5,81.7 259.5,81.0 261.5,80.5 263.5,80.1 265.5,79.9 267.5,79.7 269.5,79.6 271.5,79.5 273.5,79.5 275.5,79.4 277.5,79.4 279.5,79.3 281.5,79.3 283.5,79.2 285.5,79.2 287.5,79.2 289.5,79.2 291.5,79.2 293.5,79.2 295.5,79.2 297.5,79.2 299.5,79.2 301.5,79.2 303.5,79.1 305.5,79.1 307.5,79.1 308.5,79.1"/>
<path d="M57.5,249.7 59.5,244.3 61.5,237.8 63.5,232.0 65.5,227.0 67.5,222.7 69.5,218.9 71.5,215.5 73.5,212.5 75.5,209.7 77.5,207.2 79.5,204.9 81.5,202.8 83.5,200.9 85.5,199.1 87.5,197.3 89.5,195.5 91.5,193.5 93.5,191.4 95.5,189.5 97.5,187.6 99.5,186.0 101.5,184.5 103.5,183.1 105.5,181.7 107.5,180.2 109.5,178.6 111.5,177.0 113.5,175.5 115.5,173.9 117.5,172.4 119.5,170.9 121.5,169.5 123.5,168.2 125.5,166.9 127.5,165.6 129.5,164.4 131.5,163.2 133.5,162.1 135.5,161.0 137.5,159.9 139.5,158.8 141.5,157.6 143.5,156.4 145.5,155.3 147.5,154.0 149.5,152.8 151.5,151.5 153.5,150.1 155.5,148.8 157.5,147.4 159.5,146.1 161.5,144.8 163.5,143.5 165.5,142.3 167.5,141.1 169.5,139.9 171.5,138.8 173.5,137.6 175.5,136.4 177.5,135.2 179.5,134.0 181.5,132.8 183.5,131.5 185.5,130.3 187.5,129.2 189.5,128.1 191.5,127.0 193.5,125.9 195.5,124.8 197.5,123.8 199.5,122.7 201.5,121.7 203.5,120.7 205.5,119.7 207.5,118.9 209.5,118.0 211.5,117.2 213.5,116.4 215.5,115.4 217.5,114.3 219.5,113.0 221.5,111.6 223.5,110.1 225.5,108.5 227.5,106.8 229.5,105.1 231.5,103.4 233.5,101.7 235.5,100.0 237.5,98.4 239.5,96.9 241.5,95.5 243.5,94.1 245.5,92.8 247.5,91.4 249.5,90.1 251.5,88.7 253.5,87.4 255.5,86.1 257.5,84.9 259.5,83.8 261.5,82.9 263.5,82.1 265.5,81.4 267.5,80.7 269.5,80.2 271.5,79.7 273.5,79.3 275.5,79.0 277.5,78.7 279.5,78.5 281.5,78.2 283.5,78.1 285.5,77.9 287.5,77.8 289.5,77.6 291.5,77.5 293.5,77.3 295.5,77.2 297.5,77.1 299.5,77.0 301.5,76.8 303.5,76.7 305.5,76.6 307.5,76.5 308.5,76.5"/>
<path d="M57.5,247.1 59.5,241.8 61.5,235.4 63.5,229.6 65.5,224.6 67.5,220.2 69.5,216.3 71.5,212.9 73.5,209.7 75.5,206.9 77.5,204.3 79.5,201.9 81.5,199.8 83.5,197.8 85.5,195.9 87.5,194.1 89.5,192.2 91.5,190.3 93.5,188.2 95.5,186.3 97.5,184.4 99.5,182.8 101.5,181.2 103.5,179.7 105.5,178.2 107.5,176.6 109.5,175.0 111.5,173.4 113.5,171.8 115.5,170.3 117.5,168.8 119.5,167.4 121.5,166.0 123.5,164.6 125.5,163.3 127.5,162.0 129.5,160.7 131.5,159.4 133.5,158.1 135.5,156.8 137.5,155.5 139.5,154.1 141.5,152.7 143.5,151.3 145.5,149.9 147.5,148.6 149.5,147.3 151.5,146.0 153.5,144.8 155.5,143.5 157.5,142.3 159.5,141.2 161.5,140.0 163.5,138.9 165.5,137.7 167.5,136.6 169.5,135.5 171.5,134.4 173.5,133.3 175.5,132.1 177.5,130.9 179.5,129.7 181.5,128.5 183.5,127.2 185.5,126.0 187.5,124.8 189.5,123.6 191.5,122.5 193.5,121.3 195.5,120.2 197.5,119.1 199.5,118.0 201.5,116.9 203.5,115.8 205.5,114.7 207.5,113.6 209.5,112.5 211.5,111.2 213.5,109.9 215.5,108.4 217.5,106.7 219.5,104.8 221.5,102.8 223.5,100.8 225.5,98.6 227.5,96.5 229.5,94.4 231.5,92.3 233.5,90.3 235.5,88.4 237.5,86.6 239.5,84.9 241.5,83.4 243.5,82.1 245.5,80.9 247.5,79.7 249.5,78.6 251.5,77.5 253.5,76.5 255.5,75.4 257.5,74.6 259.5,73.9 261.5,73.3 263.5,73.0 265.5,72.7 267.5,72.6 269.5,72.6 271.5,72.5 273.5,72.5 275.5,72.4 277.5,72.3 279.5,72.3 281.5,72.2 283.5,72.2 285.5,72.2 287.5,72.2 289.5,72.2 291.5,72.2 293.5,72.1 295.5,72.1 297.5,72.1 299.5,72.1 301.5,72.1 303.5,72.0 305.5,72.0 307.5,72.0 308.5,71.9"/>
<path d="M57.5,247.7 59.5,242.2 61.5,235.9 63.5,230.4 65.5,225.6 67.5,221.4 69.5,217.6 71.5,214.1 73.5,210.9 75.5,208.0 77.5,205.2 79.5,202.7 81.5,200.3 83.5,198.1 85.5,196.0 87.5,194.0 89.5,191.9 91.5,189.9 93.5,187.8 95.5,185.8 97.5,183.9 99.5,182.0 101.5,180.2 103.5,178.5 105.5,176.8 107.5,175.2 109.5,173.5 111.5,171.9 113.5,170.4 115.5,169.0 117.5,167.6 119.5,166.4 121.5,165.2 123.5,164.0 125.5,162.8 127.5,161.6 129.5,160.4 131.5,159.2 133.5,157.9 135.5,156.6 137.5,155.2 139.5,153.8 141.5,152.4 143.5,151.1 145.5,149.7 147.5,148.4 149.5,147.1 151.5,145.9 153.5,144.7 155.5,143.5 157.5,142.4 159.5,141.3 161.5,140.1 163.5,139.0 165.5,137.9 167.5,136.8 169.5,135.8 171.5,134.7 173.5,133.7 175.5,132.7 177.5,131.6 179.5,130.6 181.5,129.5 183.5,128.4 185.5,127.2 187.5,126.1 189.5,125.0 191.5,123.9 193.5,122.8 195.5,121.9 197.5,121.0 199.5,120.2 201.5,119.3 203.5,118.4 205.5,117.4 207.5,116.3 209.5,115.1 211.5,113.7 213.5,112.3 215.5,110.8 217.5,109.1 219.5,107.5 221.5,105.8 223.5,104.1 225.5,102.3 227.5,100.6 229.5,98.9 231.5,97.2 233.5,95.5 235.5,93.9 237.5,92.4 239.5,91.0 241.5,89.6 243.5,88.4 245.5,87.1 247.5,85.9 249.5,84.7 251.5,83.3 253.5,81.9 255.5,80.5 257.5,79.2 259.5,77.9 261.5,76.9 263.5,76.0 265.5,75.2 267.5,74.6 269.5,74.0 271.5,73.5 273.5,73.1 275.5,72.6 277.5,72.3 279.5,71.9 281.5,71.6 283.5,71.4 285.5,71.2 287.5,71.0 289.5,70.8 291.5,70.6 293.5,70.4 295.5,70.2 297.5,70.1 299.5,69.9 301.5,69.8 303.5,69.6 305.5,69.5 307.5,69.3 308.5,69.3"/>
<path d="M57.5,242.0 59.5,236.9 61.5,230.8 63.5,224.9 65.5,219.4 67.5,214.6 69.5,210.4 71.5,206.5 73.5,202.9 75.5,199.6 77.5,196.6 79.5,193.7 81.5,191.1 83.5,188.6 85.5,186.2 87.5,183.9 89.5,181.6 91.5,179.4 93.5,177.1 95.5,174.9 97.5,172.8 99.5,170.7 101.5,168.7 103.5,166.7 105.5,164.7 107.5,162.8 109.5,161.0 111.5,159.2 113.5,157.4 115.5,155.7 117.5,154.0 119.5,152.3 121.5,150.7 123.5,149.1 125.5,147.6 127.5,146.0 129.5,144.4 131.5,142.8 133.5,141.1 135.5,139.5 137.5,137.7 139.5,136.0 141.5,134.2 143.5,132.5 145.5,130.7 147.5,129.0 149.5,127.4 151.5,125.7 153.5,124.1 155.5,122.4 157.5,120.8 159.5,119.2 161.5,117.6 163.5,116.0 165.5,114.5 167.5,113.1 169.5,111.7 171.5,110.4 173.5,109.2 175.5,108.0 177.5,106.9 179.5,105.8 181.5,104.6 183.5,103.4 185.5,102.1 187.5,100.8 189.5,99.5 191.5,98.2 193.5,96.9 195.5,95.7 197.5,94.4 199.5,93.1 201.5,91.7 203.5,90.3 205.5,88.8 207.5,87.2 209.5,85.5 211.5,83.8 213.5,82.0 215.5,80.2 217.5,78.4 219.5,76.7 221.5,75.1 223.5,73.5 225.5,71.9 227.5,70.3 229.5,68.7 231.5,67.1 233.5,65.4 235.5,63.7 237.5,62.1 239.5,60.6 241.5,59.1 243.5,57.7 245.5,56.5 247.5,55.3 249.5,54.3 251.5,53.5 253.5,52.7 255.5,52.1 257.5,51.6 259.5,51.2 261.5,50.9 263.5,50.7 265.5,50.5 267.5,50.3 269.5,50.2 271.5,50.0 273.5,49.9 275.5,49.8 277.5,49.7 279.5,49.6 281.5,49.4 283.5,49.3 285.5,49.2 287.5,49.1 289.5,49.0 291.5,48.9 293.5,48.8 295.5,48.7 297.5,48.6 299.5,48.6 301.5,48.5 303.5,48.5 305.5,48.5 307.5,48.5 308.5,48.5"/>
<path d="M57.5,241.4 59.5,236.4 61.5,230.4 63.5,224.4 65.5,219.1 67.5,214.3 69.5,210.0 71.5,206.1 73.5,202.5 75.5,199.2 77.5,196.2 79.5,193.3 81.5,190.7 83.5,188.2 85.5,185.8 87.5,183.4 89.5,181.1 91.5,178.8 93.5,176.6 95.5,174.3 97.5,172.1 99.5,170.0 101.5,168.0 103.5,166.0 105.5,164.0 107.5,162.1 109.5,160.2 111.5,158.4 113.5,156.6 115.5,154.8 117.5,153.1 119.5,151.4 121.5,149.8 123.5,148.2 125.5,146.7 127.5,145.1 129.5,143.5 131.5,141.9 133.5,140.3 135.5,138.6 137.5,136.9 139.5,135.1 141.5,133.4 143.5,131.6 145.5,129.9 147.5,128.2 149.5,126.5 151.5,124.8 153.5,123.2 155.5,121.6 157.5,119.9 159.5,118.3 161.5,116.7 163.5,115.1 165.5,113.6 167.5,112.2 169.5,110.8 171.5,109.5 173.5,108.3 175.5,107.1 177.5,106.0 179.5,104.8 181.5,103.7 183.5,102.4 185.5,101.2 187.5,99.9 189.5,98.6 191.5,97.3 193.5,96.0 195.5,94.8 197.5,93.5 199.5,92.2 201.5,90.8 203.5,89.4 205.5,87.9 207.5,86.4 209.5,84.8 211.5,83.1 213.5,81.4 215.5,79.7 217.5,78.0 219.5,76.3 221.5,74.7 223.5,73.1 225.5,71.5 227.5,69.9 229.5,68.3 231.5,66.6 233.5,64.8 235.5,63.1 237.5,61.4 239.5,59.8 241.5,58.2 243.5,56.7 245.5,55.4 247.5,54.1 249.5,53.1 251.5,52.1 253.5,51.4 255.5,50.7 257.5,50.2 259.5,49.7 261.5,49.4 263.5,49.1 265.5,48.9 267.5,48.7 269.5,48.6 271.5,48.4 273.5,48.3 275.5,48.2 277.5,48.0 279.5,47.9 281.5,47.8 283.5,47.6 285.5,47.5 287.5,47.4 289.5,47.3 291.5,47.1 293.5,47.0 295.5,46.9 297.5,46.9 299.5,46.8 301.5,46.7 303.5,46.7 305.5,46.7 307.5,46.7 308.5,46.7"/>
<path d="M57.5,240.8 59.5,235.9 61.5,229.9 63.5,224.0 65.5,218.7 67.5,213.9 69.5,209.6 71.5,205.8 73.5,202.2 75.5,198.9 77.5,195.8 79.5,192.9 81.5,190.3 83.5,187.7 85.5,185.3 87.5,182.9 89.5,180.6 91.5,178.3 93.5,176.0 95.5,173.7 97.5,171.5 99.5,169.4 101.5,167.3 103.5,165.3 105.5,163.3 107.5,161.4 109.5,159.5 111.5,157.6 113.5,155.8 115.5,154.0 117.5,152.3 119.5,150.6 121.5,148.9 123.5,147.3 125.5,145.8 127.5,144.2 129.5,142.6 131.5,141.0 133.5,139.4 135.5,137.7 137.5,136.0 139.5,134.3 141.5,132.6 143.5,130.8 145.5,129.1 147.5,127.4 149.5,125.7 151.5,124.0 153.5,122.3 155.5,120.7 157.5,119.1 159.5,117.4 161.5,115.8 163.5,114.3 165.5,112.7 167.5,111.3 169.5,109.9 171.5,108.6 173.5,107.4 175.5,106.2 177.5,105.0 179.5,103.9 181.5,102.7 183.5,101.5 185.5,100.2 187.5,99.0 189.5,97.7 191.5,96.4 193.5,95.1 195.5,93.9 197.5,92.6 199.5,91.3 201.5,90.0 203.5,88.6 205.5,87.1 207.5,85.6 209.5,84.0 211.5,82.4 213.5,80.7 215.5,79.1 217.5,77.5 219.5,75.9 221.5,74.3 223.5,72.7 225.5,71.1 227.5,69.5 229.5,67.8 231.5,66.1 233.5,64.3 235.5,62.4 237.5,60.7 239.5,58.9 241.5,57.3 243.5,55.7 245.5,54.3 247.5,53.0 249.5,51.8 251.5,50.8 253.5,50.0 255.5,49.3 257.5,48.7 259.5,48.3 261.5,47.9 263.5,47.6 265.5,47.3 267.5,47.1 269.5,47.0 271.5,46.8 273.5,46.7 275.5,46.5 277.5,46.4 279.5,46.2 281.5,46.1 283.5,45.9 285.5,45.8 287.5,45.7 289.5,45.5 291.5,45.4 293.5,45.3 295.5,45.2 297.5,45.1 299.5,45.0 301.5,44.9 303.5,44.9 305.5,44.9 307.5,44.9 308.5,44.9"/>
<path d="M57.5,240.2 59.5,235.3 61.5,229.4 63.5,223.6 65.5,218.3 67.5,213.5 69.5,209.3 71.5,205.4 73.5,201.8 75.5,198.5 77.5,195.4 79.5,192.6 81.5,189.9 83.5,187.3 85.5,184.8 87.5,182.4 89.5,180.1 91.5,177.7 93.5,175.4 95.5,173.1 97.5,170.9 99.5,168.7 101.5,166.6 103.5,164.6 105.5,162.6 107.5,160.6 109.5,158.7 111.5,156.8 113.5,155.0 115.5,153.2 117.5,151.4 119.5,149.7 121.5,148.1 123.5,146.5 125.5,144.9 127.5,143.3 129.5,141.7 131.5,140.1 133.5,138.5 135.5,136.9 137.5,135.2 139.5,133.5 141.5,131.7 143.5,130.0 145.5,128.2 147.5,126.5 149.5,124.8 151.5,123.1 153.5,121.5 155.5,119.8 157.5,118.2 159.5,116.6 161.5,114.9 163.5,113.4 165.5,111.8 167.5,110.4 169.5,109.0 171.5,107.7 173.5,106.4 175.5,105.3 177.5,104.1 179.5,102.9 181.5,101.8 183.5,100.5 185.5,99.3 187.5,98.0 189.5,96.8 191.5,95.5 193.5,94.3 195.5,93.0 197.5,91.7 199.5,90.5 201.5,89.1 203.5,87.7 205.5,86.3 207.5,84.8 209.5,83.3 211.5,81.7 213.5,80.1 215.5,78.5 217.5,77.0 219.5,75.4 221.5,73.9 223.5,72.3 225.5,70.7 227.5,69.1 229.5,67.4 231.5,65.5 233.5,63.7 235.5,61.8 237.5,59.9 239.5,58.1 241.5,56.3 243.5,54.7 245.5,53.2 247.5,51.8 249.5,50.6 251.5,49.5 253.5,48.6 255.5,47.9 257.5,47.3 259.5,46.8 261.5,46.4 263.5,46.0 265.5,45.8 267.5,45.6 269.5,45.4 271.5,45.2 273.5,45.0 275.5,44.9 277.5,44.7 279.5,44.6 281.5,44.4 283.5,44.2 285.5,44.1 287.5,43.9 289.5,43.8 291.5,43.6 293.5,43.5 295.5,43.4 297.5,43.3 299.5,43.2 301.5,43.1 303.5,43.1 305.5,43.1 307.5,43.1 308.5,43.1"/>
<path d="M57.5,239.6 59.5,234.8 61.5,229.0 63.5,223.2 65.5,217.9 67.5,213.2 69.5,208.9 71.5,205.0 73.5,201.5 75.5,198.1 77.5,195.1 79.5,192.2 81.5,189.5 83.5,186.9 85.5,184.4 87.5,182.0 89.5,179.6 91.5,177.2 93.5,174.8 95.5,172.5 97.5,170.2 99.5,168.0 101.5,165.9 103.5,163.9 105.5,161.8 107.5,159.9 109.5,158.0 111.5,156.1 113.5,154.2 115.5,152.4 117.5,150.6 119.5,148.9 121.5,147.2 123.5,145.6 125.5,144.0 127.5,142.4 129.5,140.8 131.5,139.2 133.5,137.6 135.5,136.0 137.5,134.3 139.5,132.6 141.5,130.9 143.5,129.2 145.5,127.4 147.5,125.7 149.5,124.0 151.5,122.3 153.5,120.6 155.5,119.0 157.5,117.3 159.5,115.7 161.5,114.1 163.5,112.5 165.5,110.9 167.5,109.5 169.5,108.1 171.5,106.8 173.5,105.5 175.5,104.3 177.5,103.2 179.5,102.0 181.5,100.8 183.5,99.6 185.5,98.4 187.5,97.1 189.5,95.9 191.5,94.6 193.5,93.4 195.5,92.1 197.5,90.9 199.5,89.6 201.5,88.3 203.5,86.9 205.5,85.5 207.5,84.0 209.5,82.5 211.5,81.0 213.5,79.5 215.5,78.0 217.5,76.5 219.5,75.0 221.5,73.5 223.5,71.9 225.5,70.3 227.5,68.7 229.5,66.9 231.5,65.0 233.5,63.1 235.5,61.1 237.5,59.2 239.5,57.3 241.5,55.4 243.5,53.7 245.5,52.1 247.5,50.6 249.5,49.3 251.5,48.2 253.5,47.3 255.5,46.5 257.5,45.8 259.5,45.3 261.5,44.9 263.5,44.5 265.5,44.2 267.5,44.0 269.5,43.8 271.5,43.6 273.5,43.4 275.5,43.3 277.5,43.1 279.5,42.9 281.5,42.7 283.5,42.5 285.5,42.4 287.5,42.2 289.5,42.0 291.5,41.9 293.5,41.7 295.5,41.6 297.5,41.5 299.5,41.4 301.5,41.3 303.5,41.3 305.5,41.3 307.5,41.2 308.5,41.2"/>
<path d="M57.5,246.9 59.5,243.4 61.5,239.3 63.5,235.1 65.5,230.8 67.5,226.7 69.5,222.8 71.5,219.2 73.5,215.9 75.5,212.8 77.5,210.0 79.5,207.3 81.5,204.8 83.5,202.4 85.5,200.2 87.5,198.0 89.5,195.9 91.5,193.9 93.5,192.0 95.5,190.3 97.5,188.6 99.5,187.0 101.5,185.4 103.5,184.0 105.5,182.5 107.5,181.0 109.5,179.5 111.5,178.0 113.5,176.5 115.5,175.0 117.5,173.4 119.5,171.9 121.5,170.4 123.5,169.0 125.5,167.6 127.5,166.3 129.5,165.0 131.5,163.7 133.5,162.5 135.5,161.3 137.5,160.1 139.5,159.0 141.5,157.8 143.5,156.6 145.5,155.4 147.5,154.1 149.5,152.9 151.5,151.6 153.5,150.3 155.5,149.1 157.5,147.8 159.5,146.5 161.5,145.3 163.5,144.1 165.5,142.9 167.5,141.7 169.5,140.5 171.5,139.4 173.5,138.2 175.5,137.1 177.5,136.0 179.5,134.9 181.5,133.9 183.5,132.8 185.5,131.8 187.5,130.8 189.5,129.8 191.5,128.9 193.5,128.0 195.5,127.2 197.5,126.4 199.5,125.7 201.5,124.9 203.5,124.2 205.5,123.4 207.5,122.7 209.5,121.9 211.5,121.2 213.5,120.4 215.5,119.7 217.5,118.9 219.5,118.2 221.5,117.4 223.5,116.6 225.5,115.8 227.5,115.0 229.5,114.1 231.5,113.1 233.5,112.1 235.5,111.1 237.5,110.0 239.5,108.8 241.5,107.6 243.5,106.3 245.5,104.9 247.5,103.4 249.5,101.8 251.5,100.0 253.5,98.3 255.5,96.4 257.5,94.6 259.5,92.7 261.5,90.9 263.5,89.2 265.5,87.6 267.5,86.2 269.5,84.9 271.5,83.8 273.5,83.0 275.5,82.3 277.5,81.9 279.5,81.6 281.5,81.4 283.5,81.4 285.5,81.3 287.5,81.3 289.5,81.3 291.5,81.3 293.5,81.4 295.5,81.4 297.5,81.4 299.5,81.4 301.5,81.4 303.5,81.4 305.5,81.4 307.5,81.4 308.5,81.4"/>
<path d="M57.5,246.9 59.5,243.4 61.5,239.3 63.5,235.1 65.5,230.8 67.5,226.7 69.5,222.8 71.5,219.2 73.5,215.9 75.5,212.8 77.5,210.0 79.5,207.3 81.5,204.8 83.5,202.4 85.5,200.2 87.5,198.0 89.5,195.9 91.5,193.9 93.5,192.0 95.5,190.3 97.5,188.6 99.5,187.0 101.5,185.4 103.5,184.0 105.5,182.5 107.5,181.0 109.5,179.5 111.5,178.0 113.5,176.5 115.5,175.0 117.5,173.4 119.5,171.9 121.5,170.4 123.5,169.0 125.5,167.6 127.5,166.3 129.5,165.0 131.5,163.7 133.5,162.5 135.5,161.3 137.5,160.1 139.5,159.0 141.5,157.8 143.5,156.6 145.5,155.4 147.5,154.2 149.5,152.9 151.5,151.7 153.5,150.4 155.5,149.2 157.5,147.9 159.5,146.7 161.5,145.5 163.5,144.3 165.5,143.1 167.5,142.0 169.5,140.8 171.5,139.7 173.5,138.6 175.5,137.5 177.5,136.4 179.5,135.4 181.5,134.4 183.5,133.3 185.5,132.3 187.5,131.4 189.5,130.4 191.5,129.5 193.5,128.7 195.5,127.9 197.5,127.1 199.5,126.4 201.5,125.7 203.5,125.0 205.5,124.3 207.5,123.5 209.5,122.8 211.5,122.1 213.5,121.4 215.5,120.7 217.5,119.9 219.5,119.2 221.5,118.5 223.5,117.7 225.5,117.0 227.5,116.1 229.5,115.3 231.5,114.3 233.5,113.4 235.5,112.4 237.5,111.3 239.5,110.2 241.5,109.0 243.5,107.7 245.5,106.3 247.5,104.8 249.5,103.2 251.5,101.5 253.5,99.7 255.5,97.9 257.5,96.1 259.5,94.2 261.5,92.4 263.5,90.7 265.5,89.1 267.5,87.7 269.5,86.4 271.5,85.3 273.5,84.5 275.5,83.8 277.5,83.4 279.5,83.1 281.5,82.9 283.5,82.9 285.5,82.8 287.5,82.8 289.5,82.8 291.5,82.8 293.5,82.9 295.5,82.9 297.5,82.9 299.5,82.9 301.5,82.9 303.5,82.9 305.5,82.9 307.5,82.9 308.5,82.9"/>
</g>
<g fill="none" stroke-width="1.95" stroke-linejoin="round" stroke-linecap="round">
<path stroke="#FF0000" d="M57.5,241.6 58.5,236.8 59.5,232.8 60.5,229.2 61.5,226.0 62.5,223.2 63.5,220.5 64.5,217.9 65.5,215.5 66.5,213.1 67.5,210.9 68.5,208.8 69.5,206.8 70.5,204.9 71.5,203.0 72.5,201.2 73.5,199.5 74.5,197.8 75.5,196.2 76.5,194.6 77.5,193.1 78.5,191.6 79.5,190.1 80.5,188.7 81.5,187.4 82.5,186.1 83.5,184.8 84.5,183.5 85.5,182.2 86.5,180.9 87.5,179.7 88.5,178.4 89.5,177.1 90.5,175.8 91.5,174.6 92.5,173.3 93.5,172.0 94.5,170.8 95.5,169.5 96.5,168.3 97.5,167.1 98.5,165.9 99.5,164.8 100.5,163.7 101.5,162.6 102.5,161.5 103.5,160.5 104.5,159.4 105.5,158.4 106.5,157.4 107.5,156.4 108.5,155.3 109.5,154.3 110.5,153.3 111.5,152.4 112.5,151.4 113.5,150.4 114.5,149.4 115.5,148.5 116.5,147.5 117.5,146.6 118.5,145.6 119.5,144.7 120.5,143.8 121.5,142.9 122.5,142.0 123.5,141.2 124.5,140.4 125.5,139.6 126.5,138.9 127.5,138.1 128.5,137.3 129.5,136.6 130.5,135.8 131.5,135.0 132.5,134.3 133.5,133.5 134.5,132.7 135.5,131.9 136.5,131.1 137.5,130.3 138.5,129.5 139.5,128.7 140.5,127.8 141.5,127.0 142.5,126.1 143.5,125.2 144.5,124.4 145.5,123.5 146.5,122.6 147.5,121.7 148.5,120.8 149.5,119.9 150.5,119.0 151.5,118.2 152.5,117.3 153.5,116.5 154.5,115.6 155.5,114.8 156.5,114.0 157.5,113.1 158.5,112.3 159.5,111.5 160.5,110.6 161.5,109.8 162.5,109.0 163.5,108.2 164.5,107.4 165.5,106.6 166.5,105.9 167.5,105.1 168.5,104.4 169.5,103.7 170.5,103.0 171.5,102.4 172.5,101.7 173.5,101.1 174.5,100.5 175.5,99.9 176.5,99.3 177.5,98.7 178.5,98.1 179.5,97.5 180.5,96.9 181.5,96.3 182.5,95.7 183.5,95.1 184.5,94.5 185.5,93.9 186.5,93.3 187.5,92.7 188.5,92.1 189.5,91.5 190.5,90.9 191.5,90.3 192.5,89.7 193.5,89.1 194.5,88.5 195.5,87.9 196.5,87.3 197.5,86.7 198.5,86.1 199.5,85.4 200.5,84.8 201.5,84.2 202.5,83.5 203.5,82.9 204.5,82.2 205.5,81.5 206.5,80.9 207.5,80.2 208.5,79.6 209.5,79.0 210.5,78.4 211.5,77.7 212.5,77.1 213.5,76.5 214.5,75.9 215.5,75.3 216.5,74.8 217.5,74.2 218.5,73.6 219.5,73.0 220.5,72.4 221.5,71.7 222.5,71.0 223.5,70.3 224.5,69.5 225.5,68.7 226.5,67.8 227.5,66.9 228.5,65.9 229.5,64.9 230.5,63.8 231.5,62.7 232.5,61.6 233.5,60.5 234.5,59.3 235.5,58.1 236.5,56.9 237.5,55.7 238.5,54.5 239.5,53.3 240.5,52.1 241.5,50.9 242.5,49.8 243.5,48.7 244.5,47.6 245.5,46.6 246.5,45.7 247.5,44.8 248.5,43.9 249.5,43.1 250.5,42.4 251.5,41.7 252.5,41.1 253.5,40.5 254.5,40.0 255.5,39.6 256.5,39.1 257.5,38.8 258.5,38.4 259.5,38.1 260.5,37.8 261.5,37.5 262.5,37.3 263.5,37.1 264.5,36.9 265.5,36.7 266.5,36.5 267.5,36.4 268.5,36.3 269.5,36.2 270.5,36.1 271.5,35.9 272.5,35.8 273.5,35.7 274.5,35.6 275.5,35.5 276.5,35.4 277.5,35.2 278.5,35.1 279.5,35.0 280.5,34.9 281.5,34.7 282.5,34.6 283.5,34.5 284.5,34.3 285.5,34.2 286.5,34.1 287.5,34.0 288.5,33.9 289.5,33.8 290.5,33.7 291.5,33.5 292.5,33.4 293.5,33.3 294.5,33.3 295.5,33.2 296.5,33.1 297.5,33.0 298.5,32.9 299.5,32.9 300.5,32.8 301.5,32.8 302.5,32.7 303.5,32.7 304.5,32.7 305.5,32.6 306.5,32.6 307.5,32.6 308.5,32.7"/>
<path stroke="#FFA500" d="M57.5,251.0 58.5,245.7 59.5,241.5 60.5,237.9 61.5,234.8 62.5,232.1 63.5,229.6 64.5,227.1 65.5,224.8 66.5,222.7 67.5,220.6 68.5,218.7 69.5,216.8 70.5,215.1 71.5,213.4 72.5,211.7 73.5,210.1 74.5,208.6 75.5,207.1 76.5,205.7 77.5,204.3 78.5,203.0 79.5,201.7 80.5,200.4 81.5,199.2 82.5,198.0 83.5,196.9 84.5,195.8 85.5,194.8 86.5,193.7 87.5,192.7 88.5,191.7 89.5,190.7 90.5,189.7 91.5,188.7 92.5,187.7 93.5,186.7 94.5,185.8 95.5,184.8 96.5,183.9 97.5,183.0 98.5,182.0 99.5,181.1 100.5,180.2 101.5,179.2 102.5,178.3 103.5,177.4 104.5,176.4 105.5,175.5 106.5,174.6 107.5,173.6 108.5,172.7 109.5,171.8 110.5,170.9 111.5,170.0 112.5,169.1 113.5,168.3 114.5,167.6 115.5,166.8 116.5,166.2 117.5,165.5 118.5,164.9 119.5,164.3 120.5,163.8 121.5,163.2 122.5,162.6 123.5,162.0 124.5,161.4 125.5,160.8 126.5,160.2 127.5,159.6 128.5,158.9 129.5,158.2 130.5,157.5 131.5,156.7 132.5,156.0 133.5,155.2 134.5,154.3 135.5,153.5 136.5,152.6 137.5,151.7 138.5,150.8 139.5,149.9 140.5,148.9 141.5,148.0 142.5,147.1 143.5,146.1 144.5,145.2 145.5,144.3 146.5,143.4 147.5,142.5 148.5,141.6 149.5,140.7 150.5,139.8 151.5,138.9 152.5,138.1 153.5,137.2 154.5,136.3 155.5,135.5 156.5,134.6 157.5,133.7 158.5,132.8 159.5,131.9 160.5,131.0 161.5,130.1 162.5,129.3 163.5,128.4 164.5,127.6 165.5,126.7 166.5,125.9 167.5,125.1 168.5,124.3 169.5,123.6 170.5,122.8 171.5,122.1 172.5,121.4 173.5,120.8 174.5,120.1 175.5,119.5 176.5,118.9 177.5,118.3 178.5,117.7 179.5,117.1 180.5,116.5 181.5,115.9 182.5,115.2 183.5,114.6 184.5,114.0 185.5,113.3 186.5,112.6 187.5,111.9 188.5,111.1 189.5,110.4 190.5,109.6 191.5,108.8 192.5,108.0 193.5,107.2 194.5,106.5 195.5,105.7 196.5,104.9 197.5,104.2 198.5,103.5 199.5,102.8 200.5,102.2 201.5,101.5 202.5,100.9 203.5,100.3 204.5,99.7 205.5,99.0 206.5,98.4 207.5,97.8 208.5,97.3 209.5,96.7 210.5,96.1 211.5,95.5 212.5,95.0 213.5,94.4 214.5,93.9 215.5,93.4 216.5,92.9 217.5,92.3 218.5,91.8 219.5,91.3 220.5,90.8 221.5,90.3 222.5,89.8 223.5,89.2 224.5,88.6 225.5,88.0 226.5,87.4 227.5,86.7 228.5,86.0 229.5,85.3 230.5,84.5 231.5,83.7 232.5,82.9 233.5,82.1 234.5,81.2 235.5,80.4 236.5,79.4 237.5,78.5 238.5,77.5 239.5,76.5 240.5,75.4 241.5,74.4 242.5,73.4 243.5,72.3 244.5,71.3 245.5,70.3 246.5,69.3 247.5,68.3 248.5,67.3 249.5,66.3 250.5,65.4 251.5,64.5 252.5,63.5 253.5,62.6 254.5,61.8 255.5,60.9 256.5,60.1 257.5,59.4 258.5,58.7 259.5,58.1 260.5,57.5 261.5,57.0 262.5,56.5 263.5,56.1 264.5,55.7 265.5,55.4 266.5,55.1 267.5,54.8 268.5,54.5 269.5,54.2 270.5,54.0 271.5,53.8 272.5,53.6 273.5,53.5 274.5,53.3 275.5,53.3 276.5,53.2 277.5,53.1 278.5,53.1 279.5,53.0 280.5,53.0 281.5,53.0 282.5,52.9 283.5,52.9 284.5,52.9 285.5,52.9 286.5,52.8 287.5,52.8 288.5,52.8 289.5,52.8 290.5,52.8 291.5,52.7 292.5,52.7 293.5,52.7 294.5,52.6 295.5,52.6 296.5,52.5 297.5,52.5 298.5,52.4 299.5,52.4 300.5,52.3 301.5,52.2 302.5,52.1 303.5,52.0 304.5,51.9 305.5,51.8 306.5,51.6 307.5,51.5 308.5,51.3"/>
<path stroke="#1DB31D" d="M57.5,251.5 58.5,245.4 59.5,240.5 60.5,236.3 61.5,232.6 62.5,229.5 63.5,226.5 64.5,223.7 65.5,221.1 66.5,218.7 67.5,216.4 68.5,214.2 69.5,212.2 70.5,210.2 71.5,208.3 72.5,206.6 73.5,204.9 74.5,203.2 75.5,201.6 76.5,200.1 77.5,198.6 78.5,197.2 79.5,195.9 80.5,194.6 81.5,193.4 82.5,192.2 83.5,191.1 84.5,190.0 85.5,189.0 86.5,187.9 87.5,186.9 88.5,185.9 89.5,184.8 90.5,183.8 91.5,182.8 92.5,181.7 93.5,180.7 94.5,179.7 95.5,178.7 96.5,177.7 97.5,176.7 98.5,175.8 99.5,174.8 100.5,173.8 101.5,172.9 102.5,172.0 103.5,171.0 104.5,170.1 105.5,169.2 106.5,168.3 107.5,167.4 108.5,166.5 109.5,165.6 110.5,164.8 111.5,163.9 112.5,163.1 113.5,162.3 114.5,161.5 115.5,160.7 116.5,160.0 117.5,159.2 118.5,158.4 119.5,157.7 120.5,156.9 121.5,156.2 122.5,155.5 123.5,154.7 124.5,154.0 125.5,153.3 126.5,152.6 127.5,151.8 128.5,151.0 129.5,150.1 130.5,149.3 131.5,148.4 132.5,147.6 133.5,146.7 134.5,145.8 135.5,144.9 136.5,144.0 137.5,143.1 138.5,142.1 139.5,141.2 140.5,140.3 141.5,139.4 142.5,138.5 143.5,137.6 144.5,136.7 145.5,135.9 146.5,135.0 147.5,134.2 148.5,133.4 149.5,132.6 150.5,131.8 151.5,131.0 152.5,130.3 153.5,129.5 154.5,128.7 155.5,127.9 156.5,127.1 157.5,126.3 158.5,125.5 159.5,124.7 160.5,123.9 161.5,123.1 162.5,122.3 163.5,121.5 164.5,120.7 165.5,120.0 166.5,119.3 167.5,118.6 168.5,117.9 169.5,117.2 170.5,116.6 171.5,116.0 172.5,115.4 173.5,114.8 174.5,114.3 175.5,113.8 176.5,113.3 177.5,112.8 178.5,112.3 179.5,111.8 180.5,111.2 181.5,110.6 182.5,110.0 183.5,109.4 184.5,108.7 185.5,108.0 186.5,107.3 187.5,106.6 188.5,105.9 189.5,105.2 190.5,104.5 191.5,103.8 192.5,103.1 193.5,102.5 194.5,101.8 195.5,101.2 196.5,100.6 197.5,100.0 198.5,99.3 199.5,98.7 200.5,98.0 201.5,97.2 202.5,96.5 203.5,95.7 204.5,94.9 205.5,94.1 206.5,93.2 207.5,92.3 208.5,91.3 209.5,90.3 210.5,89.2 211.5,88.2 212.5,87.0 213.5,85.9 214.5,84.8 215.5,83.6 216.5,82.5 217.5,81.4 218.5,80.3 219.5,79.3 220.5,78.3 221.5,77.3 222.5,76.4 223.5,75.6 224.5,74.9 225.5,74.2 226.5,73.6 227.5,73.0 228.5,72.3 229.5,71.6 230.5,70.9 231.5,70.2 232.5,69.5 233.5,68.9 234.5,68.3 235.5,67.7 236.5,67.1 237.5,66.6 238.5,66.1 239.5,65.7 240.5,65.2 241.5,64.8 242.5,64.4 243.5,64.0 244.5,63.6 245.5,63.2 246.5,62.9 247.5,62.6 248.5,62.3 249.5,62.1 250.5,61.8 251.5,61.6 252.5,61.4 253.5,61.2 254.5,61.0 255.5,60.8 256.5,60.7 257.5,60.6 258.5,60.5 259.5,60.5 260.5,60.4 261.5,60.4 262.5,60.3 263.5,60.3 264.5,60.3 265.5,60.2 266.5,60.2 267.5,60.2 268.5,60.1 269.5,60.1 270.5,60.1 271.5,60.1 272.5,60.1 273.5,60.1 274.5,60.0 275.5,60.0 276.5,60.0 277.5,60.0 278.5,60.0 279.5,60.0 280.5,60.0 281.5,60.0 282.5,60.0 283.5,59.9 284.5,59.9 285.5,59.9 286.5,59.9 287.5,59.9 288.5,59.9 289.5,59.9 290.5,59.9 291.5,59.8 292.5,59.8 293.5,59.8 294.5,59.8 295.5,59.8 296.5,59.8 297.5,59.8 298.5,59.8 299.5,59.8 300.5,59.8 301.5,59.8 302.5,59.8 303.5,59.8 304.5,59.8 305.5,59.8 306.5,59.8 307.5,59.8 308.5,59.8"/>
<path stroke="#00BFFF" d="M57.5,248.0 58.5,243.2 59.5,239.3 60.5,235.8 61.5,232.7 62.5,230.0 63.5,227.4 64.5,225.0 65.5,222.6 66.5,220.4 67.5,218.4 68.5,216.4 69.5,214.5 70.5,212.7 71.5,211.0 72.5,209.3 73.5,207.7 74.5,206.1 75.5,204.6 76.5,203.2 77.5,201.8 78.5,200.5 79.5,199.2 80.5,198.0 81.5,196.9 82.5,195.8 83.5,194.7 84.5,193.7 85.5,192.6 86.5,191.6 87.5,190.6 88.5,189.6 89.5,188.5 90.5,187.5 91.5,186.5 92.5,185.5 93.5,184.5 94.5,183.5 95.5,182.5 96.5,181.5 97.5,180.6 98.5,179.6 99.5,178.7 100.5,177.8 101.5,176.9 102.5,176.0 103.5,175.1 104.5,174.2 105.5,173.3 106.5,172.4 107.5,171.6 108.5,170.7 109.5,169.9 110.5,169.1 111.5,168.3 112.5,167.5 113.5,166.8 114.5,166.1 115.5,165.4 116.5,164.7 117.5,164.1 118.5,163.4 119.5,162.8 120.5,162.2 121.5,161.6 122.5,161.0 123.5,160.4 124.5,159.8 125.5,159.2 126.5,158.6 127.5,158.0 128.5,157.3 129.5,156.7 130.5,156.0 131.5,155.3 132.5,154.6 133.5,153.9 134.5,153.1 135.5,152.3 136.5,151.5 137.5,150.7 138.5,149.9 139.5,149.0 140.5,148.2 141.5,147.4 142.5,146.5 143.5,145.7 144.5,144.9 145.5,144.2 146.5,143.4 147.5,142.7 148.5,142.0 149.5,141.4 150.5,140.8 151.5,140.2 152.5,139.7 153.5,139.1 154.5,138.6 155.5,138.1 156.5,137.7 157.5,137.2 158.5,136.7 159.5,136.2 160.5,135.7 161.5,135.2 162.5,134.7 163.5,134.2 164.5,133.7 165.5,133.2 166.5,132.8 167.5,132.3 168.5,131.8 169.5,131.3 170.5,130.8 171.5,130.3 172.5,129.8 173.5,129.3 174.5,128.8 175.5,128.3 176.5,127.8 177.5,127.2 178.5,126.7 179.5,126.2 180.5,125.6 181.5,125.1 182.5,124.5 183.5,124.0 184.5,123.4 185.5,122.8 186.5,122.2 187.5,121.6 188.5,121.0 189.5,120.3 190.5,119.7 191.5,119.1 192.5,118.5 193.5,118.0 194.5,117.5 195.5,117.0 196.5,116.6 197.5,116.2 198.5,115.7 199.5,115.3 200.5,114.8 201.5,114.4 202.5,113.8 203.5,113.3 204.5,112.7 205.5,112.1 206.5,111.5 207.5,110.8 208.5,110.0 209.5,109.2 210.5,108.4 211.5,107.5 212.5,106.5 213.5,105.5 214.5,104.4 215.5,103.3 216.5,102.2 217.5,101.0 218.5,99.9 219.5,98.7 220.5,97.5 221.5,96.3 222.5,95.1 223.5,93.9 224.5,92.7 225.5,91.5 226.5,90.3 227.5,89.2 228.5,88.1 229.5,86.9 230.5,85.9 231.5,84.8 232.5,83.8 233.5,82.8 234.5,81.8 235.5,80.8 236.5,79.9 237.5,79.1 238.5,78.2 239.5,77.4 240.5,76.6 241.5,75.9 242.5,75.3 243.5,74.8 244.5,74.2 245.5,73.7 246.5,73.2 247.5,72.7 248.5,72.2 249.5,71.8 250.5,71.3 251.5,70.8 252.5,70.3 253.5,69.7 254.5,69.1 255.5,68.6 256.5,68.0 257.5,67.6 258.5,67.2 259.5,66.9 260.5,66.6 261.5,66.3 262.5,66.1 263.5,66.0 264.5,65.9 265.5,65.9 266.5,65.9 267.5,65.9 268.5,65.9 269.5,66.0 270.5,66.0 271.5,66.0 272.5,66.0 273.5,66.0 274.5,66.0 275.5,65.9 276.5,65.9 277.5,65.8 278.5,65.8 279.5,65.7 280.5,65.7 281.5,65.6 282.5,65.6 283.5,65.6 284.5,65.6 285.5,65.6 286.5,65.5 287.5,65.5 288.5,65.5 289.5,65.5 290.5,65.5 291.5,65.5 292.5,65.5 293.5,65.5 294.5,65.5 295.5,65.5 296.5,65.5 297.5,65.5 298.5,65.4 299.5,65.4 300.5,65.4 301.5,65.4 302.5,65.4 303.5,65.3 304.5,65.3 305.5,65.3 306.5,65.3 307.5,65.2 308.5,65.2"/>
<path stroke="#FF00FF" d="M57.5,252.0 58.5,247.9 59.5,243.9 60.5,240.0 61.5,236.5 62.5,233.5 63.5,230.7 64.5,228.0 65.5,225.5 66.5,223.2 67.5,221.1 68.5,219.2 69.5,217.3 70.5,215.6 71.5,214.0 72.5,212.5 73.5,211.0 74.5,209.7 75.5,208.4 76.5,207.2 77.5,206.0 78.5,205.0 79.5,204.0 80.5,203.0 81.5,202.1 82.5,201.1 83.5,200.2 84.5,199.4 85.5,198.8 86.5,198.1 87.5,197.4 88.5,196.6 89.5,195.7 90.5,194.7 91.5,193.7 92.5,192.6 93.5,191.6 94.5,190.6 95.5,189.6 96.5,188.7 97.5,187.8 98.5,187.0 99.5,186.3 100.5,185.8 101.5,185.2 102.5,184.6 103.5,184.1 104.5,183.5 105.5,182.8 106.5,182.0 107.5,181.3 108.5,180.5 109.5,179.7 110.5,178.9 111.5,178.2 112.5,177.4 113.5,176.6 114.5,175.8 115.5,174.9 116.5,174.1 117.5,173.3 118.5,172.5 119.5,171.7 120.5,171.0 121.5,170.3 122.5,169.5 123.5,168.8 124.5,168.1 125.5,167.3 126.5,166.6 127.5,165.9 128.5,165.3 129.5,164.7 130.5,164.1 131.5,163.5 132.5,163.0 133.5,162.4 134.5,161.9 135.5,161.3 136.5,160.7 137.5,160.2 138.5,159.6 139.5,159.0 140.5,158.4 141.5,157.9 142.5,157.3 143.5,156.7 144.5,156.1 145.5,155.5 146.5,154.9 147.5,154.3 148.5,153.6 149.5,153.0 150.5,152.3 151.5,151.7 152.5,151.0 153.5,150.3 154.5,149.6 155.5,148.9 156.5,148.2 157.5,147.5 158.5,146.9 159.5,146.2 160.5,145.6 161.5,144.9 162.5,144.3 163.5,143.7 164.5,143.1 165.5,142.5 166.5,141.9 167.5,141.3 168.5,140.7 169.5,140.1 170.5,139.5 171.5,138.9 172.5,138.3 173.5,137.7 174.5,137.1 175.5,136.5 176.5,135.8 177.5,135.1 178.5,134.5 179.5,133.8 180.5,133.1 181.5,132.4 182.5,131.8 183.5,131.1 184.5,130.5 185.5,129.9 186.5,129.3 187.5,128.7 188.5,128.1 189.5,127.5 190.5,127.0 191.5,126.4 192.5,125.9 193.5,125.3 194.5,124.7 195.5,124.1 196.5,123.4 197.5,122.8 198.5,122.2 199.5,121.5 200.5,120.9 201.5,120.3 202.5,119.7 203.5,119.2 204.5,118.6 205.5,118.1 206.5,117.7 207.5,117.2 208.5,116.8 209.5,116.5 210.5,116.1 211.5,115.8 212.5,115.4 213.5,115.0 214.5,114.5 215.5,113.9 216.5,113.3 217.5,112.6 218.5,111.9 219.5,111.1 220.5,110.3 221.5,109.4 222.5,108.5 223.5,107.5 224.5,106.5 225.5,105.5 226.5,104.4 227.5,103.4 228.5,102.3 229.5,101.3 230.5,100.2 231.5,99.2 232.5,98.1 233.5,97.1 234.5,96.1 235.5,95.1 236.5,94.1 237.5,93.2 238.5,92.4 239.5,91.5 240.5,90.7 241.5,90.0 242.5,89.2 243.5,88.5 244.5,87.9 245.5,87.3 246.5,86.7 247.5,86.1 248.5,85.4 249.5,84.8 250.5,84.2 251.5,83.7 252.5,83.1 253.5,82.6 254.5,82.2 255.5,81.7 256.5,81.3 257.5,81.0 258.5,80.6 259.5,80.4 260.5,80.1 261.5,79.9 262.5,79.8 263.5,79.6 264.5,79.5 265.5,79.4 266.5,79.3 267.5,79.3 268.5,79.2 269.5,79.2 270.5,79.2 271.5,79.2 272.5,79.2 273.5,79.2 274.5,79.2 275.5,79.2 276.5,79.2 277.5,79.2 278.5,79.2 279.5,79.2 280.5,79.2 281.5,79.2 282.5,79.2 283.5,79.2 284.5,79.3 285.5,79.3 286.5,79.3 287.5,79.3 288.5,79.3 289.5,79.3 290.5,79.3 291.5,79.4 292.5,79.4 293.5,79.4 294.5,79.4 295.5,79.4 296.5,79.4 297.5,79.4 298.5,79.4 299.5,79.4 300.5,79.4 301.5,79.4 302.5,79.4 303.5,79.4 304.5,79.4 305.5,79.4 306.5,79.4 307.5,79.4 308.5,79.4"/>
<path stroke="#7800FF" d="M57.5,255.5 58.5,249.5 59.5,245.3 60.5,241.7 61.5,238.7 62.5,236.1 63.5,233.6 64.5,231.3 65.5,229.1 66.5,227.0 67.5,225.0 68.5,223.2 69.5,221.4 70.5,219.7 71.5,218.0 72.5,216.4 73.5,214.9 74.5,213.4 75.5,212.0 76.5,210.6 77.5,209.2 78.5,207.9 79.5,206.6 80.5,205.4 81.5,204.2 82.5,203.1 83.5,202.0 84.5,200.9 85.5,199.8 86.5,198.7 87.5,197.6 88.5,196.6 89.5,195.5 90.5,194.4 91.5,193.4 92.5,192.3 93.5,191.2 94.5,190.2 95.5,189.1 96.5,188.1 97.5,187.1 98.5,186.1 99.5,185.2 100.5,184.3 101.5,183.4 102.5,182.5 103.5,181.6 104.5,180.8 105.5,180.0 106.5,179.1 107.5,178.3 108.5,177.5 109.5,176.7 110.5,175.9 111.5,175.1 112.5,174.3 113.5,173.5 114.5,172.7 115.5,172.0 116.5,171.3 117.5,170.6 118.5,170.0 119.5,169.4 120.5,168.8 121.5,168.2 122.5,167.7 123.5,167.1 124.5,166.6 125.5,166.0 126.5,165.4 127.5,164.9 128.5,164.4 129.5,163.8 130.5,163.3 131.5,162.7 132.5,162.2 133.5,161.6 134.5,161.1 135.5,160.6 136.5,160.0 137.5,159.5 138.5,158.9 139.5,158.4 140.5,157.8 141.5,157.3 142.5,156.7 143.5,156.2 144.5,155.6 145.5,155.0 146.5,154.4 147.5,153.8 148.5,153.2 149.5,152.6 150.5,152.0 151.5,151.3 152.5,150.7 153.5,150.0 154.5,149.3 155.5,148.6 156.5,147.9 157.5,147.2 158.5,146.6 159.5,145.9 160.5,145.2 161.5,144.5 162.5,143.8 163.5,143.2 164.5,142.5 165.5,141.9 166.5,141.3 167.5,140.6 168.5,140.0 169.5,139.5 170.5,138.9 171.5,138.4 172.5,137.8 173.5,137.3 174.5,136.8 175.5,136.3 176.5,135.8 177.5,135.3 178.5,134.8 179.5,134.3 180.5,133.8 181.5,133.2 182.5,132.7 183.5,132.1 184.5,131.6 185.5,131.0 186.5,130.5 187.5,129.9 188.5,129.4 189.5,128.8 190.5,128.3 191.5,127.8 192.5,127.3 193.5,126.9 194.5,126.4 195.5,126.0 196.5,125.7 197.5,125.3 198.5,125.0 199.5,124.6 200.5,124.3 201.5,123.9 202.5,123.6 203.5,123.2 204.5,122.8 205.5,122.4 206.5,122.0 207.5,121.6 208.5,121.2 209.5,120.7 210.5,120.3 211.5,119.9 212.5,119.5 213.5,119.1 214.5,118.7 215.5,118.3 216.5,117.9 217.5,117.6 218.5,117.2 219.5,116.8 220.5,116.5 221.5,116.1 222.5,115.7 223.5,115.4 224.5,115.0 225.5,114.5 226.5,114.1 227.5,113.7 228.5,113.2 229.5,112.7 230.5,112.2 231.5,111.7 232.5,111.2 233.5,110.6 234.5,110.1 235.5,109.5 236.5,109.0 237.5,108.4 238.5,107.9 239.5,107.3 240.5,106.8 241.5,106.2 242.5,105.5 243.5,104.9 244.5,104.2 245.5,103.5 246.5,102.8 247.5,102.0 248.5,101.2 249.5,100.3 250.5,99.5 251.5,98.6 252.5,97.6 253.5,96.6 254.5,95.5 255.5,94.5 256.5,93.5 257.5,92.4 258.5,91.4 259.5,90.4 260.5,89.5 261.5,88.5 262.5,87.6 263.5,86.8 264.5,85.9 265.5,85.1 266.5,84.3 267.5,83.4 268.5,82.6 269.5,81.8 270.5,81.1 271.5,80.5 272.5,79.9 273.5,79.4 274.5,78.9 275.5,78.5 276.5,78.0 277.5,77.6 278.5,77.2 279.5,76.9 280.5,76.5 281.5,76.2 282.5,76.0 283.5,75.8 284.5,75.6 285.5,75.4 286.5,75.2 287.5,75.0 288.5,74.7 289.5,74.4 290.5,74.1 291.5,73.8 292.5,73.6 293.5,73.3 294.5,73.1 295.5,72.9 296.5,72.7 297.5,72.5 298.5,72.4 299.5,72.2 300.5,72.0 301.5,71.9 302.5,71.7 303.5,71.5 304.5,71.4 305.5,71.2 306.5,71.0 307.5,70.8 308.5,70.6"/>
</g>
<g fill="none" stroke="#000" stroke-width="1">
<rect x="47.6" y="24.4" width="271" height="246.5"/>
<path d="M57.6,270.9 V279.6"/>
<path d="M120.35,270.9 V279.6"/>
<path d="M183.1,270.9 V279.6"/>
<path d="M245.85,270.9 V279.6"/>
<path d="M308.6,270.9 V279.6"/>
<path d="M57.6,270.9 H308.6"/>
<path d="M47.6,251.4 H39.4"/>
<path d="M47.6,177.1 H39.4"/>
<path d="M47.6,102.8 H39.4"/>
<path d="M47.6,28.5 H39.4"/>
<rect x="326.1" y="115.2" width="49.5" height="89.4"/>
</g>
<g fill="none" stroke-width="1.95" stroke-linecap="butt">
<path stroke="#FF0000" d="M334.7,127.5 H355.3"/>
<path stroke="#FFA500" d="M334.7,140.3 H355.3"/>
<path stroke="#1DB31D" d="M334.7,153.1 H355.3"/>
<path stroke="#00BFFF" d="M334.7,165.9 H355.3"/>
<path stroke="#7800FF" d="M334.7,178.7 H355.3"/>
<path stroke="#FF00FF" d="M334.7,191.5 H355.3"/>
</g>
<g font-family="Liberation Sans, sans-serif" fill="#000" opacity="0.999">
<text x="183.6" y="17.4" font-size="15.3" font-weight="bold" text-anchor="middle">Boys</text>
<text x="183.3" y="312.6" font-size="16.6" text-anchor="middle">Age (year)</text>
<text transform="translate(16.4,147.4) rotate(-90)" font-size="16.8" text-anchor="middle">Height (cm)</text>
<text x="57.6" y="292.1" font-size="14" text-anchor="middle">0</text>
<text x="120.35" y="292.1" font-size="14" text-anchor="middle">5</text>
<text x="183.1" y="292.1" font-size="14" text-anchor="middle">10</text>
<text x="245.85" y="292.1" font-size="14" text-anchor="middle">15</text>
<text x="308.6" y="292.1" font-size="14" text-anchor="middle">20</text>
<text transform="translate(36.9,251.6) rotate(-90)" font-size="14" text-anchor="middle">50</text>
<text transform="translate(36.9,177.3) rotate(-90)" font-size="14" text-anchor="middle">100</text>
<text transform="translate(36.9,103.0) rotate(-90)" font-size="14" text-anchor="middle">150</text>
<text transform="translate(36.9,28.7) rotate(-90)" font-size="14" text-anchor="middle">200</text>
<text x="364.7" y="131.2" font-size="10" >1</text>
<text x="364.7" y="144.0" font-size="10" >2</text>
<text x="364.7" y="156.8" font-size="10" >3</text>
<text x="364.7" y="169.6" font-size="10" >4</text>
<text x="364.7" y="182.4" font-size="10" >5</text>
<text x="364.7" y="195.2" font-size="10" >6</text>
</g>
</svg>
</body></html>
